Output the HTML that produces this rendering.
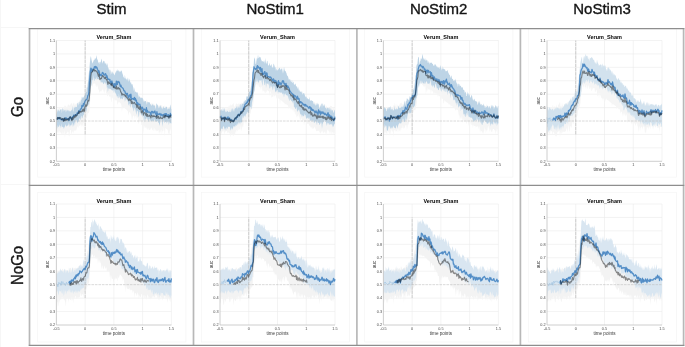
<!DOCTYPE html>
<html><head><meta charset="utf-8"><title>Verum vs Sham AUC</title>
<style>html,body{margin:0;padding:0;background:#fff;width:685px;height:347px;overflow:hidden;font-family:"Liberation Sans",sans-serif;}body{position:relative;}</style>
</head><body>
<svg width="685" height="347" viewBox="0 0 685 347" style="position:absolute;left:0;top:0">
<rect x="0" y="0" width="685" height="347" fill="#fff"/>
<line x1="0.5" y1="0" x2="0.5" y2="347" stroke="#f6f6f6" stroke-width="1"/>
<line x1="0" y1="27.5" x2="29" y2="27.5" stroke="#f6f6f6" stroke-width="1"/>
<line x1="0" y1="184.5" x2="29" y2="184.5" stroke="#f6f6f6" stroke-width="1"/>
<text transform="translate(111.5,14.0)" font-family="Liberation Sans" font-size="15" text-anchor="middle" fill="#141414" stroke="#141414" stroke-width="0.35">Stim</text>
<text transform="translate(275.2,14.0)" font-family="Liberation Sans" font-size="15" text-anchor="middle" fill="#141414" stroke="#141414" stroke-width="0.35">NoStim1</text>
<text transform="translate(438.65,14.0)" font-family="Liberation Sans" font-size="15" text-anchor="middle" fill="#141414" stroke="#141414" stroke-width="0.35">NoStim2</text>
<text transform="translate(602,14.0)" font-family="Liberation Sans" font-size="15" text-anchor="middle" fill="#141414" stroke="#141414" stroke-width="0.35">NoStim3</text>
<text transform="translate(23.0,107) rotate(-90) scale(1,1.04)" font-family="Liberation Sans" font-size="15" text-anchor="middle" fill="#141414" stroke="#141414" stroke-width="0.35">Go</text>
<text transform="translate(23.0,265.4) rotate(-90) scale(1,1.04)" font-family="Liberation Sans" font-size="15" text-anchor="middle" fill="#141414" stroke="#141414" stroke-width="0.35">NoGo</text>
<g><rect x="37.7" y="28.8" width="148.2" height="148.3" fill="none" stroke="#f4f4f4" stroke-width="0.7"/><line x1="56.4" y1="147.88" x2="171.4" y2="147.88" stroke="#ebebeb" stroke-width="0.6"/><line x1="56.4" y1="134.46" x2="171.4" y2="134.46" stroke="#ebebeb" stroke-width="0.6"/><line x1="56.4" y1="107.61" x2="171.4" y2="107.61" stroke="#ebebeb" stroke-width="0.6"/><line x1="56.4" y1="94.19" x2="171.4" y2="94.19" stroke="#ebebeb" stroke-width="0.6"/><line x1="56.4" y1="80.77" x2="171.4" y2="80.77" stroke="#ebebeb" stroke-width="0.6"/><line x1="56.4" y1="67.34" x2="171.4" y2="67.34" stroke="#ebebeb" stroke-width="0.6"/><line x1="56.4" y1="53.92" x2="171.4" y2="53.92" stroke="#ebebeb" stroke-width="0.6"/><line x1="113.9" y1="40.5" x2="113.9" y2="161.3" stroke="#ebebeb" stroke-width="0.6"/><line x1="142.65" y1="40.5" x2="142.65" y2="161.3" stroke="#ebebeb" stroke-width="0.6"/><line x1="85.15" y1="40.5" x2="85.15" y2="161.3" stroke="#ebebeb" stroke-width="0.6"/><line x1="56.4" y1="40.5" x2="171.4" y2="40.5" stroke="#ebebeb" stroke-width="0.6"/><line x1="171.4" y1="40.5" x2="171.4" y2="161.3" stroke="#ebebeb" stroke-width="0.6"/><polygon points="56.4,110.81 56.9,113.93 57.4,111.06 57.9,109.79 58.4,109.27 58.9,108.12 59.4,107.86 59.9,107.78 60.4,109.2 60.9,109.84 61.4,110.91 61.9,109.18 62.4,108.11 62.9,108.53 63.4,109.1 63.9,106.43 64.4,104.93 64.9,107.61 65.4,105.26 65.9,106.08 66.4,107.97 66.9,106.3 67.4,107.11 67.9,104.45 68.4,104.25 68.9,105.04 69.4,105.92 69.9,104.63 70.4,104.63 70.9,103.26 71.4,103.17 71.9,103.48 72.4,106.02 72.9,103.29 73.4,102.55 73.9,104.3 74.4,104.88 74.9,102.42 75.4,104.89 75.9,103.8 76.4,103.31 76.9,104.05 77.4,105.14 77.9,99.99 78.4,102.63 78.9,103.86 79.4,99.39 79.9,101.35 80.4,99.49 80.9,99.08 81.4,102.21 81.9,99.82 82.4,99.57 82.9,101.6 83.4,101.52 83.9,98.55 84.4,99.59 84.9,101.12 85.4,99.08 85.9,94.87 86.4,92.66 86.9,85.96 87.4,82.41 87.9,81.06 88.4,79.69 88.9,77.4 89.4,73.48 89.9,66.33 90.4,64.46 90.9,64.32 91.4,63.85 91.9,62.08 92.4,64.16 92.9,64.38 93.4,63.3 93.9,63.01 94.4,64.26 94.9,61.48 95.4,64.52 95.9,65.25 96.4,67.51 96.9,66.7 97.4,65.57 97.9,65.9 98.4,67.66 98.9,62.23 99.4,65.42 99.9,65.9 100.4,66.73 100.9,66.94 101.4,69.63 101.9,66.99 102.4,68.66 102.9,69.29 103.4,65.51 103.9,67.9 104.4,67.72 104.9,68.58 105.4,69.3 105.9,70.53 106.4,68.09 106.9,70.72 107.4,71.22 107.9,71.46 108.4,69.56 108.9,69.65 109.4,69.62 109.9,70.96 110.4,71.22 110.9,69.49 111.4,73.45 111.9,70.82 112.4,71.73 112.9,72.87 113.4,73.6 113.9,74.76 114.4,74.93 114.9,74.72 115.4,73.86 115.9,70.86 116.4,74.74 116.9,74.33 117.4,74.92 117.9,76.49 118.4,76.06 118.9,73.01 119.4,75.23 119.9,77.67 120.4,79 120.9,74.95 121.4,77.75 121.9,79.7 122.4,77.41 122.9,79.31 123.4,80.41 123.9,80.17 124.4,78.79 124.9,82.48 125.4,80.71 125.9,82.14 126.4,83.59 126.9,81.33 127.4,84.44 127.9,84.3 128.4,85.73 128.9,87.4 129.4,85.76 129.9,88.18 130.4,84.93 130.9,85.77 131.4,89.17 131.9,89.76 132.4,90.64 132.9,87.76 133.4,92.23 133.9,92.69 134.4,93.03 134.9,93.5 135.4,90.88 135.9,93.91 136.4,93.71 136.9,94.76 137.4,95.29 137.9,92.95 138.4,93.76 138.9,96.02 139.4,98.16 139.9,94.72 140.4,98.25 140.9,100.18 141.4,100.61 141.9,99.99 142.4,99.66 142.9,104.72 143.4,100.59 143.9,101.33 144.4,100.67 144.9,102.7 145.4,100.34 145.9,102.45 146.4,100.43 146.9,98.94 147.4,101.87 147.9,101.87 148.4,102.08 148.9,104.91 149.4,102.15 149.9,104.94 150.4,106.48 150.9,103.28 151.4,102.45 151.9,104.63 152.4,105.87 152.9,101.96 153.4,106.08 153.9,102.63 154.4,104.6 154.9,105.86 155.4,104.11 155.9,107.97 156.4,105.79 156.9,104.97 157.4,105.19 157.9,103.4 158.4,106.78 158.9,104.78 159.4,105.89 159.9,104.78 160.4,105.4 160.9,104.54 161.4,106.37 161.9,104.44 162.4,106.46 162.9,107.59 163.4,106.68 163.9,106.68 164.4,104.96 164.9,108.71 165.4,107.26 165.9,109.12 166.4,106.31 166.9,106.52 167.4,106.98 167.9,109.89 168.4,109.58 168.9,108.39 169.4,107.9 169.9,107.58 170.4,109.32 170.9,108.62 171.4,109.45 171.4,128.97 170.9,131.53 170.4,128.28 169.9,131.08 169.4,134.24 168.9,133.47 168.4,133.88 167.9,130.7 167.4,129.8 166.9,128.58 166.4,129.39 165.9,128.25 165.4,128.01 164.9,136.98 164.4,131.71 163.9,127.35 163.4,130.68 162.9,131.11 162.4,131.34 161.9,134.81 161.4,129.46 160.9,130 160.4,131.86 159.9,134.23 159.4,131.21 158.9,133.21 158.4,129.43 157.9,130.41 157.4,130.89 156.9,130.55 156.4,131.69 155.9,128.49 155.4,130.61 154.9,131.36 154.4,128.33 153.9,127.27 153.4,131.38 152.9,130.09 152.4,130.61 151.9,127.47 151.4,127.81 150.9,130.52 150.4,128 149.9,130.06 149.4,129.69 148.9,130.55 148.4,128.36 147.9,128.07 147.4,129.93 146.9,129.53 146.4,127.37 145.9,127.49 145.4,127.58 144.9,128.31 144.4,126.42 143.9,124.88 143.4,134.06 142.9,128.33 142.4,122.15 141.9,125.3 141.4,124.88 140.9,121.21 140.4,120.83 139.9,121.19 139.4,120.78 138.9,124.08 138.4,123.02 137.9,117.87 137.4,117.12 136.9,119.8 136.4,116.52 135.9,116.04 135.4,116.24 134.9,119.57 134.4,116.62 133.9,115.81 133.4,115.5 132.9,116.39 132.4,120.41 131.9,113.9 131.4,120.59 130.9,111.93 130.4,114.94 129.9,112.11 129.4,112.16 128.9,112.66 128.4,116.18 127.9,111.36 127.4,110.97 126.9,109.2 126.4,110.45 125.9,108.68 125.4,109.29 124.9,108.12 124.4,106.62 123.9,107.13 123.4,107.61 122.9,106.63 122.4,107.94 121.9,112.2 121.4,105.14 120.9,103.82 120.4,103.23 119.9,102.42 119.4,102.01 118.9,102.8 118.4,101.15 117.9,104.75 117.4,104.04 116.9,101.08 116.4,99.68 115.9,100.71 115.4,99.94 114.9,100.38 114.4,99.2 113.9,99.18 113.4,101.4 112.9,98.55 112.4,97.97 111.9,96.61 111.4,102.79 110.9,100.42 110.4,95.93 109.9,97.22 109.4,96.28 108.9,95.27 108.4,94.48 107.9,95.95 107.4,96.41 106.9,92.98 106.4,94.28 105.9,91.86 105.4,89.07 104.9,90.28 104.4,94.78 103.9,88.95 103.4,92.63 102.9,88.31 102.4,90.17 101.9,89.56 101.4,91.58 100.9,91.8 100.4,91 99.9,91.54 99.4,93.3 98.9,89.18 98.4,90.14 97.9,86.98 97.4,85.68 96.9,84.57 96.4,87.33 95.9,86.43 95.4,83.68 94.9,83.51 94.4,83.33 93.9,84.2 93.4,82.98 92.9,85.12 92.4,87.26 91.9,83.96 91.4,85.22 90.9,89.87 90.4,99.19 89.9,103.08 89.4,110.59 88.9,113.56 88.4,112.64 87.9,112.5 87.4,114.75 86.9,117.75 86.4,118.64 85.9,117 85.4,118.6 84.9,119.98 84.4,122.57 83.9,127.68 83.4,121.88 82.9,124.07 82.4,125.96 81.9,126.97 81.4,124.98 80.9,123.69 80.4,125.08 79.9,126.31 79.4,125.63 78.9,123.69 78.4,127.67 77.9,127.5 77.4,125.65 76.9,128.36 76.4,129.64 75.9,131.06 75.4,130.1 74.9,130.89 74.4,130.59 73.9,130 73.4,134.11 72.9,131.02 72.4,131.78 71.9,133.04 71.4,135.76 70.9,130.02 70.4,129.81 69.9,130.72 69.4,136.15 68.9,136.58 68.4,131.74 67.9,131.93 67.4,131.34 66.9,134.13 66.4,132.59 65.9,135.57 65.4,133.72 64.9,138.46 64.4,130.07 63.9,133.78 63.4,134.24 62.9,130.91 62.4,135.12 61.9,134.49 61.4,133.75 60.9,132.72 60.4,132.1 59.9,133.14 59.4,131.27 58.9,130.84 58.4,133.86 57.9,131.67 57.4,133.87 56.9,130.59 56.4,132.17" fill="#f5f5f5" fill-opacity="1"/><polygon points="56.4,112.1 56.9,114.36 57.4,108.63 57.9,112.08 58.4,110.31 58.9,109.53 59.4,111.72 59.9,110.3 60.4,108.98 60.9,109.89 61.4,108.7 61.9,113.44 62.4,108.68 62.9,108.28 63.4,111.64 63.9,108.68 64.4,110.51 64.9,110.43 65.4,109.38 65.9,112.51 66.4,109.25 66.9,111.65 67.4,109.57 67.9,110.73 68.4,110.05 68.9,111.5 69.4,110.19 69.9,111.68 70.4,110.82 70.9,111.71 71.4,109.59 71.9,110.79 72.4,105.72 72.9,110.3 73.4,111.97 73.9,106.65 74.4,108.34 74.9,106.58 75.4,106.72 75.9,107.47 76.4,106.69 76.9,106.91 77.4,102.74 77.9,103.37 78.4,105.67 78.9,101.71 79.4,101.7 79.9,104.36 80.4,102.58 80.9,100.19 81.4,99.74 81.9,96.39 82.4,98.67 82.9,96.52 83.4,97.88 83.9,96.59 84.4,95.66 84.9,95.01 85.4,93.31 85.9,91.63 86.4,92.28 86.9,86.99 87.4,87.82 87.9,83.07 88.4,78.49 88.9,72.58 89.4,68.64 89.9,62.16 90.4,57.88 90.9,56.08 91.4,59.24 91.9,61.13 92.4,63.78 92.9,62.29 93.4,61.16 93.9,59.64 94.4,60.13 94.9,58.17 95.4,58.57 95.9,58.66 96.4,54.91 96.9,58.33 97.4,59.58 97.9,60.55 98.4,63.48 98.9,62.09 99.4,62.02 99.9,64.61 100.4,61.67 100.9,61.66 101.4,58.52 101.9,60.21 102.4,63.77 102.9,61.96 103.4,60.59 103.9,61.51 104.4,61.08 104.9,63.69 105.4,63.68 105.9,62.46 106.4,64.31 106.9,65.8 107.4,62.8 107.9,67.18 108.4,67.66 108.9,70 109.4,69.17 109.9,72.95 110.4,68.97 110.9,75.34 111.4,71.25 111.9,74.13 112.4,72.68 112.9,71.31 113.4,73.86 113.9,73.47 114.4,75.48 114.9,74.43 115.4,71.45 115.9,73.61 116.4,70.51 116.9,70.8 117.4,71.02 117.9,69.02 118.4,71.83 118.9,69.94 119.4,72.39 119.9,70.81 120.4,72.33 120.9,70.39 121.4,70.46 121.9,71.42 122.4,73.38 122.9,74.8 123.4,76.94 123.9,77.61 124.4,78.82 124.9,74.76 125.4,78.3 125.9,78.75 126.4,78.71 126.9,80.49 127.4,77.24 127.9,80.69 128.4,81.84 128.9,78.13 129.4,79.43 129.9,80.97 130.4,83.41 130.9,81.34 131.4,84.22 131.9,84.6 132.4,84.06 132.9,86.27 133.4,87.96 133.9,91.23 134.4,87.14 134.9,92.78 135.4,91.23 135.9,92.09 136.4,92.21 136.9,92.66 137.4,92.01 137.9,93.82 138.4,98.1 138.9,94.64 139.4,97.02 139.9,96.51 140.4,98.41 140.9,97.35 141.4,98.19 141.9,97.23 142.4,98.37 142.9,98.23 143.4,102.42 143.9,98.79 144.4,101.94 144.9,100.91 145.4,100.91 145.9,101.13 146.4,102.79 146.9,105.01 147.4,102.09 147.9,101.78 148.4,102.24 148.9,102.59 149.4,101.98 149.9,103.08 150.4,105.12 150.9,103.53 151.4,106.33 151.9,104.89 152.4,104.74 152.9,103.38 153.4,105.55 153.9,105.52 154.4,106.08 154.9,104.68 155.4,108.01 155.9,108.9 156.4,103.24 156.9,104 157.4,104.93 157.9,105.46 158.4,106.98 158.9,108.42 159.4,105.68 159.9,108.05 160.4,105.13 160.9,106.24 161.4,108.77 161.9,106.44 162.4,109.49 162.9,108.07 163.4,105.73 163.9,108.24 164.4,107.72 164.9,108.32 165.4,108.24 165.9,106.13 166.4,106.96 166.9,106.97 167.4,110.03 167.9,108.23 168.4,109.04 168.9,107.81 169.4,109.57 169.9,106.74 170.4,104.32 170.9,108.11 171.4,109.22 171.4,123.68 170.9,123 170.4,123.15 169.9,123.46 169.4,120.97 168.9,125.32 168.4,121.56 167.9,121.22 167.4,122.68 166.9,120.83 166.4,123.7 165.9,121.53 165.4,122.06 164.9,122.15 164.4,123.06 163.9,119.18 163.4,121.09 162.9,121.28 162.4,127.05 161.9,122.17 161.4,118.09 160.9,118.2 160.4,121.62 159.9,123.77 159.4,125.99 158.9,122.92 158.4,122.86 157.9,120.94 157.4,121.32 156.9,121.75 156.4,121.18 155.9,121.89 155.4,120.9 154.9,120.36 154.4,118.79 153.9,121.39 153.4,121.43 152.9,120.79 152.4,120.43 151.9,121.57 151.4,121.03 150.9,121.76 150.4,120.34 149.9,119.64 149.4,117.96 148.9,121.7 148.4,121.48 147.9,117.75 147.4,120.1 146.9,119.3 146.4,116.67 145.9,119.71 145.4,118.36 144.9,122.76 144.4,116.31 143.9,121.39 143.4,115.02 142.9,113.55 142.4,117.87 141.9,115.17 141.4,115.51 140.9,114.16 140.4,112.92 139.9,111.56 139.4,112.12 138.9,117.4 138.4,115.53 137.9,110.41 137.4,111.82 136.9,110.16 136.4,115.09 135.9,112.41 135.4,109.45 134.9,108.16 134.4,107.61 133.9,111.7 133.4,109.89 132.9,107.11 132.4,108.84 131.9,105.49 131.4,102.44 130.9,103.59 130.4,108.05 129.9,106.06 129.4,103.23 128.9,104.35 128.4,105.76 127.9,100.04 127.4,102.06 126.9,98.6 126.4,100.32 125.9,98.06 125.4,100.12 124.9,101.95 124.4,96.81 123.9,97.71 123.4,96.69 122.9,98.67 122.4,99.39 121.9,98.17 121.4,98.76 120.9,98.33 120.4,99.55 119.9,97.83 119.4,96.86 118.9,93.77 118.4,98.13 117.9,97.91 117.4,95.77 116.9,96.83 116.4,94.76 115.9,93.92 115.4,92.56 114.9,92.7 114.4,89.21 113.9,93.22 113.4,89.85 112.9,90.61 112.4,90.38 111.9,89.43 111.4,90.58 110.9,88.69 110.4,89.48 109.9,88.31 109.4,89.46 108.9,87.92 108.4,88.91 107.9,92.18 107.4,87.03 106.9,88.04 106.4,83.52 105.9,82.58 105.4,84.7 104.9,81.86 104.4,82.74 103.9,83.87 103.4,84.29 102.9,82.64 102.4,81.99 101.9,82.92 101.4,81.58 100.9,82.66 100.4,80.82 99.9,77.5 99.4,79.7 98.9,79.68 98.4,79.02 97.9,79.09 97.4,78.95 96.9,80.07 96.4,76.8 95.9,78.64 95.4,79.44 94.9,77.86 94.4,80.9 93.9,80.46 93.4,74.97 92.9,80.13 92.4,79.58 91.9,82.93 91.4,85.31 90.9,86.78 90.4,89.38 89.9,95.95 89.4,102.78 88.9,105.72 88.4,103.7 87.9,105.73 87.4,104.61 86.9,108.39 86.4,111.43 85.9,111.74 85.4,110.18 84.9,112.11 84.4,111.2 83.9,115.79 83.4,114.26 82.9,116.34 82.4,117.88 81.9,118.56 81.4,115.59 80.9,116.64 80.4,120.52 79.9,118.51 79.4,118.31 78.9,120.04 78.4,121.7 77.9,121.83 77.4,123.56 76.9,121.27 76.4,120.01 75.9,119.82 75.4,121.01 74.9,126.01 74.4,122.01 73.9,124.12 73.4,125.39 72.9,127.07 72.4,122.26 71.9,123.82 71.4,125.53 70.9,124.99 70.4,125.6 69.9,127.08 69.4,125.04 68.9,122.41 68.4,124.94 67.9,125.72 67.4,125.42 66.9,125.54 66.4,126.8 65.9,125.94 65.4,124.01 64.9,126.39 64.4,127.2 63.9,129.05 63.4,127.17 62.9,127.12 62.4,126.39 61.9,127.75 61.4,123.35 60.9,128.61 60.4,125.88 59.9,126.4 59.4,124.34 58.9,126.69 58.4,127.2 57.9,124.98 57.4,127.32 56.9,129.13 56.4,124.87" fill="#bdd4e6" fill-opacity="1"/><line x1="56.4" y1="121.03" x2="171.4" y2="121.03" stroke="#bdbdbd" stroke-width="0.55" stroke-dasharray="2.6,0.9"/><line x1="85.15" y1="134.46" x2="85.15" y2="40.5" stroke="#adadad" stroke-width="0.6" stroke-dasharray="3.5,0.7"/><path d="M56.4,118.6 L56.9,119.43 L57.4,117.97 L57.9,117.38 L58.4,117.86 L58.9,119.08 L59.4,117.67 L59.9,117.92 L60.4,119.2 L60.9,119.07 L61.4,119.91 L61.9,119.34 L62.4,119.93 L62.9,119.15 L63.4,120 L63.9,120.56 L64.4,118.12 L64.9,119.72 L65.4,118.6 L65.9,117.61 L66.4,118.67 L66.9,119.3 L67.4,119.41 L67.9,118.72 L68.4,118.35 L68.9,120.58 L69.4,119.09 L69.9,116.92 L70.4,117.05 L70.9,118.55 L71.4,118.23 L71.9,119.9 L72.4,116.74 L72.9,117.21 L73.4,116.07 L73.9,114.98 L74.4,115.93 L74.9,115.54 L75.4,114.63 L75.9,115.14 L76.4,114.3 L76.9,115.02 L77.4,112.32 L77.9,112.76 L78.4,113.46 L78.9,110.73 L79.4,111.51 L79.9,111.44 L80.4,109.03 L80.9,108.92 L81.4,108.87 L81.9,105.5 L82.4,106.73 L82.9,106.57 L83.4,103.66 L83.9,105.42 L84.4,102.81 L84.9,101.56 L85.4,100.6 L85.9,99.93 L86.4,99.51 L86.9,99.57 L87.4,97.62 L87.9,95.35 L88.4,94.99 L88.9,92.1 L89.4,82.31 L89.9,76.49 L90.4,71.62 L90.9,68.08 L91.4,68.96 L91.9,71.74 L92.4,70.4 L92.9,69.15 L93.4,68.91 L93.9,68.56 L94.4,66.74 L94.9,67.89 L95.4,66.46 L95.9,67.96 L96.4,66.93 L96.9,67.5 L97.4,69.15 L97.9,70.24 L98.4,72.68 L98.9,70.62 L99.4,72.29 L99.9,75.7 L100.4,74.9 L100.9,74.71 L101.4,75.67 L101.9,74.16 L102.4,72.38 L102.9,72.81 L103.4,73.24 L103.9,75.2 L104.4,75.1 L104.9,74.75 L105.4,73.62 L105.9,74.16 L106.4,77.41 L106.9,75.69 L107.4,77.51 L107.9,79.37 L108.4,79.21 L108.9,79.06 L109.4,80.04 L109.9,79.51 L110.4,82.68 L110.9,81.56 L111.4,84.35 L111.9,80.91 L112.4,83.15 L112.9,83.82 L113.4,84.63 L113.9,87.13 L114.4,83.66 L114.9,86.89 L115.4,83.83 L115.9,84.95 L116.4,81.15 L116.9,84.31 L117.4,84.33 L117.9,81.29 L118.4,81.73 L118.9,82.29 L119.4,82.26 L119.9,84.82 L120.4,86.68 L120.9,85.21 L121.4,87.02 L121.9,87.31 L122.4,87.97 L122.9,88.19 L123.4,89.16 L123.9,90.85 L124.4,90.79 L124.9,91.23 L125.4,93.4 L125.9,93.1 L126.4,94.84 L126.9,93.66 L127.4,93.4 L127.9,96.34 L128.4,97.93 L128.9,96.03 L129.4,95.25 L129.9,94.73 L130.4,97.96 L130.9,94.25 L131.4,99.46 L131.9,98.6 L132.4,98.75 L132.9,98.44 L133.4,99.38 L133.9,99.09 L134.4,97.4 L134.9,100.04 L135.4,98.32 L135.9,100.99 L136.4,100.33 L136.9,104.53 L137.4,102.68 L137.9,103.08 L138.4,104.73 L138.9,104.17 L139.4,104.52 L139.9,104.28 L140.4,106.32 L140.9,107.1 L141.4,108.88 L141.9,108.89 L142.4,107.12 L142.9,108.45 L143.4,111.49 L143.9,109.59 L144.4,109.1 L144.9,109.5 L145.4,109.86 L145.9,111.84 L146.4,107.77 L146.9,112.23 L147.4,110.37 L147.9,112.19 L148.4,111.98 L148.9,112.19 L149.4,112.14 L149.9,112.17 L150.4,113.21 L150.9,115.12 L151.4,111.72 L151.9,111.42 L152.4,111.37 L152.9,113.16 L153.4,112.03 L153.9,112.61 L154.4,112.01 L154.9,110.98 L155.4,113.67 L155.9,113.36 L156.4,116 L156.9,111.71 L157.4,115.05 L157.9,113.71 L158.4,114.37 L158.9,114.33 L159.4,114.47 L159.9,113.34 L160.4,114.59 L160.9,115.29 L161.4,114.18 L161.9,115.08 L162.4,115.96 L162.9,114.66 L163.4,114.74 L163.9,114.42 L164.4,114 L164.9,116.47 L165.4,113.62 L165.9,115.93 L166.4,113.65 L166.9,115.58 L167.4,116.19 L167.9,115.05 L168.4,114.64 L168.9,117.25 L169.4,115.32 L169.9,116.56 L170.4,113.48 L170.9,115.73 L171.4,114.58" fill="none" stroke="#74acdb" stroke-width="1.3" stroke-linejoin="round" style="mix-blend-mode:multiply"/><path d="M56.4,119.28 L56.9,118.16 L57.4,119.24 L57.9,117.45 L58.4,118.33 L58.9,117.69 L59.4,118.52 L59.9,117.38 L60.4,117.85 L60.9,117.94 L61.4,119.48 L61.9,119.48 L62.4,118.58 L62.9,118.46 L63.4,121.35 L63.9,120.04 L64.4,118.1 L64.9,120.82 L65.4,120.36 L65.9,118.78 L66.4,119.72 L66.9,120.41 L67.4,119.35 L67.9,118.88 L68.4,118.89 L68.9,120.15 L69.4,117.72 L69.9,117.38 L70.4,116.74 L70.9,117.69 L71.4,119.29 L71.9,120.63 L72.4,117.54 L72.9,119.38 L73.4,119.11 L73.9,115.91 L74.4,117.75 L74.9,117.42 L75.4,114.79 L75.9,116.74 L76.4,115.62 L76.9,115.64 L77.4,113.76 L77.9,113.57 L78.4,113.3 L78.9,111.1 L79.4,113.16 L79.9,112.46 L80.4,111.59 L80.9,111.84 L81.4,111.92 L81.9,110.8 L82.4,111.42 L82.9,109.16 L83.4,108.96 L83.9,111.62 L84.4,110.85 L84.9,106.96 L85.4,105.97 L85.9,104.77 L86.4,106.26 L86.9,105.6 L87.4,103.03 L87.9,100.39 L88.4,101.08 L88.9,100.98 L89.4,96.94 L89.9,91.63 L90.4,81.82 L90.9,75.73 L91.4,72.54 L91.9,72.22 L92.4,71.7 L92.9,70.48 L93.4,69.54 L93.9,70.82 L94.4,69.64 L94.9,71.09 L95.4,70.4 L95.9,71.02 L96.4,71.02 L96.9,71.74 L97.4,72.91 L97.9,74.37 L98.4,76.32 L98.9,73.81 L99.4,76.86 L99.9,79.59 L100.4,78.83 L100.9,78.25 L101.4,78.68 L101.9,77.19 L102.4,75.59 L102.9,75.9 L103.4,76.67 L103.9,76.79 L104.4,78.3 L104.9,78.59 L105.4,77.17 L105.9,78.72 L106.4,79.82 L106.9,79.26 L107.4,81.89 L107.9,84.41 L108.4,81.95 L108.9,81.89 L109.4,83.53 L109.9,83.49 L110.4,83.9 L110.9,84.79 L111.4,85.75 L111.9,83.13 L112.4,85.47 L112.9,85.54 L113.4,87.62 L113.9,86.65 L114.4,87.47 L114.9,88.14 L115.4,87.6 L115.9,88.73 L116.4,85.72 L116.9,89.18 L117.4,88.89 L117.9,87.76 L118.4,87.59 L118.9,89.08 L119.4,88.41 L119.9,88.98 L120.4,90.72 L120.9,92.16 L121.4,92.87 L121.9,95.15 L122.4,93.7 L122.9,94.74 L123.4,94.7 L123.9,94.22 L124.4,95.16 L124.9,94.94 L125.4,96.59 L125.9,95.35 L126.4,97.06 L126.9,97.45 L127.4,98.34 L127.9,98.83 L128.4,99.86 L128.9,100.57 L129.4,98.74 L129.9,99.31 L130.4,100.63 L130.9,99.89 L131.4,103.74 L131.9,101.24 L132.4,102.37 L132.9,103.77 L133.4,103.07 L133.9,102.75 L134.4,102.39 L134.9,103.49 L135.4,104.1 L135.9,104.35 L136.4,105.08 L136.9,107.63 L137.4,105.16 L137.9,105.68 L138.4,108.35 L138.9,107.86 L139.4,109.37 L139.9,106.57 L140.4,109.17 L140.9,109.52 L141.4,113.01 L141.9,112.24 L142.4,110.65 L142.9,112.46 L143.4,115.12 L143.9,112.89 L144.4,112.95 L144.9,112.56 L145.4,113.85 L145.9,115.37 L146.4,113.28 L146.9,116.44 L147.4,114.19 L147.9,116.33 L148.4,116.25 L148.9,116.19 L149.4,115.17 L149.9,116.2 L150.4,116.29 L150.9,118.01 L151.4,115.22 L151.9,115.34 L152.4,115.98 L152.9,116.86 L153.4,116.55 L153.9,115.4 L154.4,116.55 L154.9,116.42 L155.4,116.66 L155.9,116.55 L156.4,118.37 L156.9,115.21 L157.4,118.05 L157.9,117.33 L158.4,116.15 L158.9,118.74 L159.4,118.41 L159.9,117.7 L160.4,116.94 L160.9,118.45 L161.4,117.98 L161.9,118.66 L162.4,118.44 L162.9,117.46 L163.4,117.36 L163.9,115.38 L164.4,117.74 L164.9,117.77 L165.4,115.39 L165.9,116.16 L166.4,116.08 L166.9,116.53 L167.4,116.81 L167.9,116.3 L168.4,116.33 L168.9,118.46 L169.4,115.97 L169.9,116.83 L170.4,115.09 L170.9,117.28 L171.4,117.25" fill="none" stroke="#8e8e8e" stroke-width="1.1" stroke-linejoin="round" style="mix-blend-mode:multiply"/><path d="M56.4,40.5 V161.3 H171.4" fill="none" stroke="#c2c2c2" stroke-width="0.8"/><text x="55" y="162.6" font-family="Liberation Sans" font-size="3.8" text-anchor="end" fill="#4a4a4a">0.2</text><text x="55" y="149.18" font-family="Liberation Sans" font-size="3.8" text-anchor="end" fill="#4a4a4a">0.3</text><text x="55" y="135.76" font-family="Liberation Sans" font-size="3.8" text-anchor="end" fill="#4a4a4a">0.4</text><text x="55" y="122.33" font-family="Liberation Sans" font-size="3.8" text-anchor="end" fill="#4a4a4a">0.5</text><text x="55" y="108.91" font-family="Liberation Sans" font-size="3.8" text-anchor="end" fill="#4a4a4a">0.6</text><text x="55" y="95.49" font-family="Liberation Sans" font-size="3.8" text-anchor="end" fill="#4a4a4a">0.7</text><text x="55" y="82.07" font-family="Liberation Sans" font-size="3.8" text-anchor="end" fill="#4a4a4a">0.8</text><text x="55" y="68.64" font-family="Liberation Sans" font-size="3.8" text-anchor="end" fill="#4a4a4a">0.9</text><text x="55" y="55.22" font-family="Liberation Sans" font-size="3.8" text-anchor="end" fill="#4a4a4a">1</text><text x="55" y="41.8" font-family="Liberation Sans" font-size="3.8" text-anchor="end" fill="#4a4a4a">1.1</text><text x="56.4" y="165.9" font-family="Liberation Sans" font-size="3.8" text-anchor="middle" fill="#4a4a4a">-0.5</text><text x="85.15" y="165.9" font-family="Liberation Sans" font-size="3.8" text-anchor="middle" fill="#4a4a4a">0</text><text x="113.9" y="165.9" font-family="Liberation Sans" font-size="3.8" text-anchor="middle" fill="#4a4a4a">0.5</text><text x="142.65" y="165.9" font-family="Liberation Sans" font-size="3.8" text-anchor="middle" fill="#4a4a4a">1</text><text x="171.4" y="165.9" font-family="Liberation Sans" font-size="3.8" text-anchor="middle" fill="#4a4a4a">1.5</text><text x="113.9" y="170.7" font-family="Liberation Sans" font-size="4.6" text-anchor="middle" fill="#3a3a3a">time points</text><text transform="translate(49,100.9) rotate(-90)" font-family="Liberation Sans" font-size="4.6" text-anchor="middle" fill="#333">auc</text><text x="113.9" y="39.2" font-family="Liberation Sans" font-weight="bold" font-size="5.5" text-anchor="middle" fill="#000">Verum_Sham</text></g>
<g><rect x="201.3" y="28.8" width="148.2" height="148.3" fill="none" stroke="#f4f4f4" stroke-width="0.7"/><line x1="220" y1="147.88" x2="335" y2="147.88" stroke="#ebebeb" stroke-width="0.6"/><line x1="220" y1="134.46" x2="335" y2="134.46" stroke="#ebebeb" stroke-width="0.6"/><line x1="220" y1="107.61" x2="335" y2="107.61" stroke="#ebebeb" stroke-width="0.6"/><line x1="220" y1="94.19" x2="335" y2="94.19" stroke="#ebebeb" stroke-width="0.6"/><line x1="220" y1="80.77" x2="335" y2="80.77" stroke="#ebebeb" stroke-width="0.6"/><line x1="220" y1="67.34" x2="335" y2="67.34" stroke="#ebebeb" stroke-width="0.6"/><line x1="220" y1="53.92" x2="335" y2="53.92" stroke="#ebebeb" stroke-width="0.6"/><line x1="277.5" y1="40.5" x2="277.5" y2="161.3" stroke="#ebebeb" stroke-width="0.6"/><line x1="306.25" y1="40.5" x2="306.25" y2="161.3" stroke="#ebebeb" stroke-width="0.6"/><line x1="248.75" y1="40.5" x2="248.75" y2="161.3" stroke="#ebebeb" stroke-width="0.6"/><line x1="220" y1="40.5" x2="335" y2="40.5" stroke="#ebebeb" stroke-width="0.6"/><line x1="335" y1="40.5" x2="335" y2="161.3" stroke="#ebebeb" stroke-width="0.6"/><polygon points="220,110.44 220.5,110.02 221,107.82 221.5,111.22 222,108.36 222.5,111.39 223,109.8 223.5,108.77 224,109.94 224.5,108.34 225,107.45 225.5,109.84 226,108.16 226.5,108.37 227,110.29 227.5,107.75 228,108.38 228.5,105.32 229,108.11 229.5,104.47 230,107.28 230.5,103.77 231,105.46 231.5,105.39 232,104.73 232.5,104.42 233,103.56 233.5,102.93 234,105.53 234.5,106.56 235,108.28 235.5,105.03 236,103.3 236.5,103.63 237,103.79 237.5,104.23 238,104.43 238.5,103.77 239,102.68 239.5,105.38 240,101.85 240.5,104.6 241,102.66 241.5,103.12 242,102.57 242.5,103.3 243,103.26 243.5,101.83 244,102.79 244.5,97.85 245,101.52 245.5,101.66 246,101.33 246.5,101.84 247,103.52 247.5,100.38 248,99.43 248.5,101.68 249,97.98 249.5,96.46 250,91.74 250.5,88.06 251,84.74 251.5,81.65 252,80.03 252.5,74.75 253,73.38 253.5,69.16 254,65.53 254.5,63.74 255,65.23 255.5,62.86 256,65.35 256.5,65.23 257,65.68 257.5,63.25 258,64.77 258.5,67.75 259,63.92 259.5,62.3 260,62.84 260.5,66.19 261,65.5 261.5,65.1 262,64.76 262.5,66.09 263,67.78 263.5,65.47 264,65.83 264.5,68.62 265,67.5 265.5,66.82 266,67.36 266.5,66.89 267,66.76 267.5,67.33 268,68.45 268.5,70.34 269,67.93 269.5,67.11 270,66.58 270.5,69.51 271,69.74 271.5,67.99 272,68.23 272.5,69.94 273,69.67 273.5,71.89 274,70.31 274.5,72.44 275,71.76 275.5,71.96 276,72.66 276.5,75.1 277,73.61 277.5,72.28 278,73.05 278.5,73.73 279,72.86 279.5,72.74 280,72.76 280.5,75.22 281,74.34 281.5,75.05 282,76.01 282.5,77.08 283,75.43 283.5,76.87 284,73.36 284.5,76.94 285,77.66 285.5,78.45 286,75.95 286.5,80.29 287,79.79 287.5,81.17 288,80.85 288.5,81.29 289,80.32 289.5,84.25 290,82.93 290.5,81.29 291,84.7 291.5,84.81 292,86.31 292.5,89.19 293,86.37 293.5,85.21 294,87.97 294.5,90.37 295,88.09 295.5,88.9 296,88.21 296.5,88.89 297,91.03 297.5,90.68 298,94.19 298.5,90.83 299,92.63 299.5,91.98 300,92.57 300.5,94.93 301,95.3 301.5,96.83 302,98.98 302.5,96.94 303,97.11 303.5,99.33 304,97.47 304.5,98.85 305,98.93 305.5,101.12 306,103.01 306.5,99.95 307,100.31 307.5,101.42 308,101.98 308.5,101.92 309,101.88 309.5,102.52 310,104.67 310.5,101.06 311,104.26 311.5,102.84 312,102.95 312.5,102.32 313,104.98 313.5,101.33 314,102.21 314.5,102.2 315,101.67 315.5,104.58 316,107.86 316.5,103.34 317,102.17 317.5,102.51 318,104.92 318.5,104.47 319,104.1 319.5,107.05 320,105.66 320.5,105.76 321,102.91 321.5,106.05 322,103.21 322.5,105.44 323,107.85 323.5,102.76 324,107.18 324.5,105.18 325,103.86 325.5,107.01 326,108.08 326.5,105.18 327,106.62 327.5,108.5 328,108.44 328.5,107.66 329,105.98 329.5,107.8 330,106.67 330.5,105.47 331,106.13 331.5,106.04 332,106.46 332.5,110.41 333,106.75 333.5,108.09 334,108.84 334.5,110.27 335,111.09 335,132.23 334.5,133.8 334,131.99 333.5,135.17 333,131.71 332.5,132.05 332,135.21 331.5,133.14 331,129.65 330.5,132.36 330,135.06 329.5,132.23 329,130.82 328.5,131.43 328,128.86 327.5,130.36 327,130.85 326.5,136.43 326,130.68 325.5,134.01 325,132.75 324.5,131.01 324,133.39 323.5,132.88 323,131.63 322.5,130.23 322,133.18 321.5,130.71 321,132.22 320.5,133.83 320,132.69 319.5,132.29 319,129.92 318.5,131.32 318,130.78 317.5,130.78 317,131.52 316.5,130.99 316,130.65 315.5,128.29 315,128.82 314.5,126.36 314,127.52 313.5,128.9 313,128.05 312.5,129.58 312,126.16 311.5,128.64 311,126.49 310.5,127.99 310,124.82 309.5,126.5 309,124.73 308.5,123.82 308,123.45 307.5,123.79 307,124.05 306.5,125.7 306,121.48 305.5,121.6 305,122.62 304.5,121.69 304,126.34 303.5,119.44 303,121.21 302.5,119.85 302,120.45 301.5,117.56 301,119.53 300.5,119.27 300,120.32 299.5,117.33 299,116 298.5,113.6 298,118.22 297.5,115.28 297,116.43 296.5,117.75 296,111.06 295.5,114.83 295,114.35 294.5,110.17 294,112.73 293.5,110.05 293,109.07 292.5,111.04 292,108.37 291.5,109.02 291,110.77 290.5,108.21 290,106.97 289.5,107.86 289,106.27 288.5,109.28 288,105.57 287.5,105.22 287,104.87 286.5,104.52 286,104.17 285.5,103.82 285,105.03 284.5,103.12 284,102.77 283.5,102.42 283,102.01 282.5,101.54 282,101.08 281.5,100.61 281,100.14 280.5,99.67 280,104.54 279.5,99.26 279,98.47 278.5,98.93 278,97.34 277.5,100 277,98.59 276.5,98.57 276,95.47 275.5,95.55 275,95.28 274.5,95.83 274,97.14 273.5,93.91 273,97.12 272.5,96.39 272,97.08 271.5,98.18 271,92.31 270.5,90.67 270,97.05 269.5,93.84 269,91.83 268.5,90.84 268,90.89 267.5,90.17 267,90.33 266.5,91.81 266,92.77 265.5,93.14 265,90.46 264.5,92.94 264,90.82 263.5,91.53 263,90.04 262.5,92.23 262,86.38 261.5,86.92 261,90.41 260.5,88.35 260,86.28 259.5,87.45 259,86.48 258.5,83.51 258,87.34 257.5,83.16 257,85.59 256.5,83.99 256,84.19 255.5,87.01 255,87.62 254.5,90.54 254,92.34 253.5,101.95 253,105.54 252.5,106.53 252,109.26 251.5,109.22 251,110.42 250.5,113.42 250,114.02 249.5,113.03 249,118.72 248.5,115.65 248,117.31 247.5,119.04 247,119.84 246.5,120.96 246,126.9 245.5,119.67 245,123.68 244.5,121.87 244,120.3 243.5,124.35 243,128.06 242.5,125.27 242,128.63 241.5,131.69 241,124.95 240.5,127.69 240,130.63 239.5,128.49 239,129.77 238.5,130.21 238,127.41 237.5,131.63 237,130.36 236.5,129.81 236,133.28 235.5,130.77 235,135.32 234.5,134.78 234,133.67 233.5,136.29 233,135.74 232.5,134.53 232,134.34 231.5,134.12 231,132.98 230.5,137.57 230,134.96 229.5,132.97 229,133.45 228.5,131.38 228,133.22 227.5,132.89 227,131.12 226.5,131.24 226,130.89 225.5,132.87 225,130.3 224.5,134 224,133.14 223.5,130.3 223,131.08 222.5,131.46 222,131.65 221.5,134.52 221,132.46 220.5,128.63 220,132.53" fill="#f5f5f5" fill-opacity="1"/><polygon points="220,110.05 220.5,110.68 221,109.38 221.5,109.35 222,111.23 222.5,110.55 223,107.18 223.5,110.15 224,111.07 224.5,107.8 225,110.84 225.5,112.51 226,109.92 226.5,112.27 227,111.71 227.5,110.52 228,111.22 228.5,112.19 229,111.9 229.5,111.99 230,109.43 230.5,112.24 231,112.05 231.5,108.23 232,111.78 232.5,108.49 233,108.48 233.5,110.37 234,111.97 234.5,108.93 235,108.34 235.5,107.63 236,108.68 236.5,106.73 237,106.19 237.5,109.52 238,105.58 238.5,107.16 239,107.99 239.5,107.35 240,103.83 240.5,104.6 241,108.04 241.5,104.63 242,104.31 242.5,103.72 243,103.57 243.5,104.31 244,100.24 244.5,102.25 245,100.76 245.5,100.35 246,99.63 246.5,96.55 247,96.17 247.5,96.83 248,96.32 248.5,94.71 249,91.68 249.5,92.01 250,90.95 250.5,90.72 251,86.64 251.5,81.98 252,81.05 252.5,71.98 253,71.55 253.5,67.14 254,59.95 254.5,57.22 255,58.91 255.5,64.08 256,64.19 256.5,60.27 257,57.44 257.5,59.2 258,54.52 258.5,58.14 259,57.91 259.5,56.44 260,57.55 260.5,56.88 261,59.36 261.5,60.14 262,61.73 262.5,61.11 263,61.28 263.5,62.15 264,59.95 264.5,61.74 265,64.05 265.5,57.81 266,63.07 266.5,64.04 267,60.69 267.5,61.12 268,64.86 268.5,65.66 269,65.28 269.5,62.45 270,64.9 270.5,65.96 271,65.13 271.5,63.63 272,67.78 272.5,66.61 273,68.41 273.5,63.48 274,64.33 274.5,65.93 275,67.85 275.5,67 276,71.3 276.5,67.89 277,70.37 277.5,70.45 278,69.64 278.5,69.22 279,67.95 279.5,67.87 280,68.62 280.5,70.5 281,68.21 281.5,69.49 282,67.67 282.5,70.86 283,73.69 283.5,70.42 284,66.64 284.5,69.39 285,71.32 285.5,70.67 286,72.18 286.5,73.19 287,75.58 287.5,75.66 288,76.42 288.5,78.61 289,80.27 289.5,79.36 290,79.08 290.5,80.5 291,81.67 291.5,82.19 292,79.5 292.5,83.32 293,82.55 293.5,81.59 294,84.79 294.5,84.86 295,84.1 295.5,83.53 296,85.95 296.5,86.26 297,87.05 297.5,89.35 298,86.31 298.5,88.72 299,91.27 299.5,89.33 300,92.24 300.5,91.83 301,90.96 301.5,93 302,90.7 302.5,95.1 303,93.19 303.5,93.41 304,92.72 304.5,94.17 305,95.83 305.5,96.71 306,97.56 306.5,96.28 307,99.25 307.5,97.83 308,99.06 308.5,98.89 309,99.95 309.5,96.73 310,101.18 310.5,100.15 311,100.44 311.5,100.27 312,100.82 312.5,101.18 313,100.68 313.5,104.67 314,102.76 314.5,104.91 315,103.07 315.5,105.48 316,105.47 316.5,104.46 317,102.63 317.5,104.16 318,104.82 318.5,103.34 319,106.96 319.5,108.81 320,106.5 320.5,106.44 321,104.36 321.5,103.18 322,108.46 322.5,103 323,104.5 323.5,105.73 324,106.58 324.5,103.69 325,107.31 325.5,108.29 326,107.54 326.5,109.92 327,107.36 327.5,108.37 328,107.88 328.5,107.99 329,110.24 329.5,106.89 330,110.49 330.5,107.83 331,111.65 331.5,108.9 332,110.82 332.5,109.7 333,110.88 333.5,113.3 334,111.88 334.5,110.28 335,109.62 335,124.35 334.5,123.46 334,125.18 333.5,127.25 333,124.77 332.5,127.6 332,123.27 331.5,124.94 331,123.77 330.5,124.6 330,124.33 329.5,124.9 329,123.33 328.5,123.01 328,124.93 327.5,122.93 327,122.48 326.5,126.34 326,122.25 325.5,121.52 325,121.36 324.5,119.47 324,122.55 323.5,121.5 323,123.12 322.5,124.13 322,129.12 321.5,123.55 321,121.82 320.5,123.15 320,124.13 319.5,125.35 319,122.98 318.5,122.78 318,122.94 317.5,120.83 317,125.34 316.5,123.02 316,121.03 315.5,121.37 315,121.72 314.5,122.74 314,122.98 313.5,121.06 313,119.63 312.5,120.88 312,122.33 311.5,119.7 311,120.89 310.5,120.21 310,120.91 309.5,118.4 309,116.97 308.5,118.7 308,118.7 307.5,117.4 307,118.05 306.5,119.07 306,118.08 305.5,115.11 305,115.26 304.5,113.26 304,116.69 303.5,116.08 303,115.71 302.5,115.12 302,117.24 301.5,114.9 301,113.95 300.5,114.63 300,113.07 299.5,111.09 299,108.89 298.5,110.77 298,109.87 297.5,111.79 297,111.21 296.5,106.84 296,108.3 295.5,109.17 295,108.26 294.5,106.53 294,107.86 293.5,100.18 293,103.9 292.5,101.38 292,101.41 291.5,100.93 291,100.42 290.5,99.11 290,100.01 289.5,101.33 289,94.52 288.5,100.03 288,96.85 287.5,95.48 287,94.89 286.5,95.23 286,95.15 285.5,93.05 285,94.93 284.5,93.43 284,97.76 283.5,94.08 283,92.98 282.5,94.68 282,92.88 281.5,92.86 281,91.85 280.5,93.03 280,92.52 279.5,92.13 279,92.01 278.5,91.4 278,93.94 277.5,90.25 277,89.82 276.5,90.92 276,92.27 275.5,91.94 275,90.39 274.5,86.65 274,86.29 273.5,86.28 273,90.49 272.5,89.04 272,85.99 271.5,87.61 271,84.72 270.5,86.38 270,88.85 269.5,87.88 269,81.52 268.5,85.54 268,83.6 267.5,84.28 267,82.62 266.5,84.32 266,88.23 265.5,80.61 265,84.81 264.5,85.23 264,81.9 263.5,79.97 263,76.99 262.5,86.35 262,83.84 261.5,80.56 261,80.06 260.5,81.12 260,79.96 259.5,80.13 259,81.77 258.5,82.97 258,81.12 257.5,81.89 257,77.57 256.5,81.75 256,81.59 255.5,81.57 255,86.36 254.5,90.46 254,92.26 253.5,94.91 253,98.95 252.5,100.35 252,102.72 251.5,108.19 251,108.89 250.5,106.53 250,107.33 249.5,107.56 249,111.39 248.5,113.63 248,113.6 247.5,111.64 247,111.86 246.5,114.23 246,113.95 245.5,117.44 245,114.87 244.5,116.63 244,115.13 243.5,117.3 243,118.62 242.5,115.27 242,122.99 241.5,122 241,122.6 240.5,121.63 240,124.87 239.5,121.68 239,123.67 238.5,121.52 238,125.56 237.5,123.88 237,122.89 236.5,126.04 236,125.35 235.5,125.18 235,127.61 234.5,126.22 234,126.03 233.5,126.28 233,128.06 232.5,128.65 232,130.01 231.5,126.88 231,129.27 230.5,130.76 230,127.26 229.5,126.38 229,126.94 228.5,127.06 228,125.88 227.5,129.16 227,128.12 226.5,126.69 226,130.69 225.5,128.49 225,127.98 224.5,129.71 224,126.74 223.5,126.31 223,126.47 222.5,129.33 222,128.98 221.5,128.21 221,129.32 220.5,131.47 220,130.28" fill="#bdd4e6" fill-opacity="1"/><line x1="220" y1="121.03" x2="335" y2="121.03" stroke="#bdbdbd" stroke-width="0.55" stroke-dasharray="2.6,0.9"/><line x1="248.75" y1="134.46" x2="248.75" y2="40.5" stroke="#adadad" stroke-width="0.6" stroke-dasharray="3.5,0.7"/><path d="M220,117.02 L220.5,116.55 L221,116.14 L221.5,118.78 L222,119.48 L222.5,118.67 L223,117.38 L223.5,118.57 L224,117.36 L224.5,120.05 L225,117.2 L225.5,119.37 L226,117.91 L226.5,118.83 L227,119.21 L227.5,117.63 L228,116.9 L228.5,119.21 L229,118.71 L229.5,117.84 L230,119.8 L230.5,120.47 L231,119.35 L231.5,120.04 L232,120.86 L232.5,120.48 L233,121.03 L233.5,121.31 L234,120.8 L234.5,119.15 L235,118.23 L235.5,117.82 L236,119.37 L236.5,116.72 L237,116.15 L237.5,117.38 L238,114.68 L238.5,114.12 L239,115.78 L239.5,114.99 L240,113.8 L240.5,114.07 L241,111.68 L241.5,112.9 L242,111.21 L242.5,110.82 L243,111.02 L243.5,107.97 L244,107.08 L244.5,106.87 L245,104.31 L245.5,104.01 L246,103.25 L246.5,103.52 L247,101.9 L247.5,102.32 L248,100.04 L248.5,99.54 L249,100.92 L249.5,98.25 L250,97.65 L250.5,96.18 L251,95.47 L251.5,94.5 L252,91.03 L252.5,86.18 L253,74.28 L253.5,70.02 L254,66.78 L254.5,68.67 L255,68.73 L255.5,69.51 L256,68.32 L256.5,69.19 L257,66.75 L257.5,65.63 L258,68.08 L258.5,66.81 L259,67.6 L259.5,68.02 L260,69.95 L260.5,67.31 L261,71.96 L261.5,70.21 L262,68.64 L262.5,74.31 L263,73.36 L263.5,74.35 L264,73.07 L264.5,71.6 L265,71.81 L265.5,76.75 L266,75.29 L266.5,72.96 L267,73.1 L267.5,76.87 L268,77.05 L268.5,76.67 L269,76.54 L269.5,77.52 L270,77.3 L270.5,76.98 L271,77.47 L271.5,78.72 L272,79.42 L272.5,80.8 L273,79.86 L273.5,78.89 L274,81.31 L274.5,82.22 L275,80.26 L275.5,81.7 L276,80.83 L276.5,83.35 L277,84.39 L277.5,87.04 L278,81.9 L278.5,80.69 L279,84.63 L279.5,83.65 L280,82.53 L280.5,83.98 L281,84.79 L281.5,83.56 L282,82.45 L282.5,80.78 L283,81.69 L283.5,80.84 L284,83.55 L284.5,83.36 L285,85.28 L285.5,85.59 L286,83.43 L286.5,86.26 L287,85.58 L287.5,87.3 L288,86.11 L288.5,87.81 L289,87.83 L289.5,89.65 L290,91.26 L290.5,91.73 L291,92.32 L291.5,93.26 L292,93.44 L292.5,94.19 L293,94.43 L293.5,94.3 L294,97.48 L294.5,95.39 L295,95.88 L295.5,95.95 L296,97.08 L296.5,98.41 L297,98.91 L297.5,96.27 L298,99.16 L298.5,98.42 L299,98.61 L299.5,101.64 L300,102.91 L300.5,101.64 L301,102.36 L301.5,102.17 L302,103.33 L302.5,103.21 L303,104.67 L303.5,104.19 L304,105.08 L304.5,104.48 L305,106.02 L305.5,104.47 L306,104.96 L306.5,106.14 L307,106.02 L307.5,106.67 L308,107.03 L308.5,107.44 L309,108.35 L309.5,106.62 L310,107.56 L310.5,107.09 L311,109.78 L311.5,108.08 L312,110.3 L312.5,110.48 L313,109.54 L313.5,110.67 L314,110.89 L314.5,111.33 L315,112.89 L315.5,112.09 L316,110.8 L316.5,112.48 L317,113.18 L317.5,112.13 L318,114.76 L318.5,109.98 L319,112.88 L319.5,112.79 L320,111.05 L320.5,114.64 L321,112.76 L321.5,111.95 L322,113.3 L322.5,112.15 L323,111.95 L323.5,113.57 L324,113.23 L324.5,114.5 L325,113.16 L325.5,114.42 L326,114.23 L326.5,115.2 L327,115.77 L327.5,113.97 L328,112.64 L328.5,114.65 L329,116.64 L329.5,114.96 L330,116.89 L330.5,116.76 L331,116.04 L331.5,118.55 L332,116.87 L332.5,118.69 L333,118.17 L333.5,120.58 L334,119.88 L334.5,120.08 L335,116.58" fill="none" stroke="#74acdb" stroke-width="1.3" stroke-linejoin="round" style="mix-blend-mode:multiply"/><path d="M220,117.84 L220.5,117.16 L221,117.58 L221.5,120.7 L222,118.42 L222.5,118.08 L223,118.8 L223.5,118.46 L224,117.82 L224.5,121.65 L225,117.12 L225.5,118.34 L226,118.51 L226.5,119.48 L227,119.19 L227.5,120.1 L228,118.77 L228.5,119.08 L229,120.65 L229.5,118.51 L230,120.87 L230.5,122.61 L231,119.72 L231.5,121.29 L232,121.57 L232.5,121.7 L233,119.98 L233.5,121.88 L234,120.92 L234.5,119.75 L235,118.33 L235.5,117.79 L236,118.38 L236.5,117.33 L237,117.12 L237.5,115.88 L238,114.94 L238.5,114.73 L239,114.92 L239.5,115.8 L240,114.3 L240.5,113.76 L241,111.74 L241.5,113.33 L242,113 L242.5,111.54 L243,111.66 L243.5,109.85 L244,108.31 L244.5,109.67 L245,107.11 L245.5,106.58 L246,106.47 L246.5,105.49 L247,105.77 L247.5,105.32 L248,104.51 L248.5,103.49 L249,105.4 L249.5,101.02 L250,99.83 L250.5,97.84 L251,97.8 L251.5,97.8 L252,95.72 L252.5,93.58 L253,88.51 L253.5,83.61 L254,79.81 L254.5,78.05 L255,73.57 L255.5,72.18 L256,72.08 L256.5,71.49 L257,70.15 L257.5,69.92 L258,72.77 L258.5,70.44 L259,72.57 L259.5,73.02 L260,73.83 L260.5,73.39 L261,75.51 L261.5,73.41 L262,73.22 L262.5,76.24 L263,76.32 L263.5,77.86 L264,76.16 L264.5,76.26 L265,75.54 L265.5,78.33 L266,78.62 L266.5,77.88 L267,76.91 L267.5,77.69 L268,78.96 L268.5,78.47 L269,78.66 L269.5,80.46 L270,80.61 L270.5,79.15 L271,80.26 L271.5,81.33 L272,81.8 L272.5,82.98 L273,82.25 L273.5,81.81 L274,82.62 L274.5,83.17 L275,82.47 L275.5,82.66 L276,82.42 L276.5,85.57 L277,85.9 L277.5,87.68 L278,84.58 L278.5,85.25 L279,86.96 L279.5,87.42 L280,87.93 L280.5,87.1 L281,85.94 L281.5,87.41 L282,85.58 L282.5,86.51 L283,85.88 L283.5,86.23 L284,85.77 L284.5,86.65 L285,90.02 L285.5,88.08 L286,85.57 L286.5,89.38 L287,88.1 L287.5,89.3 L288,89.61 L288.5,90.1 L289,89.92 L289.5,93.5 L290,93.45 L290.5,94.28 L291,95.91 L291.5,95.08 L292,95.01 L292.5,97.23 L293,95.78 L293.5,98.07 L294,100.24 L294.5,98.18 L295,99.38 L295.5,99.16 L296,99.39 L296.5,101.18 L297,102.1 L297.5,101.89 L298,103.67 L298.5,101.52 L299,103.24 L299.5,105.64 L300,105.88 L300.5,105.62 L301,106.67 L301.5,105.13 L302,107.61 L302.5,107.43 L303,109.32 L303.5,107.64 L304,110.3 L304.5,109.02 L305,110.05 L305.5,109.03 L306,109.3 L306.5,110.77 L307,110.69 L307.5,111.7 L308,111.99 L308.5,112.38 L309,113.28 L309.5,112.35 L310,112.66 L310.5,111.14 L311,114.88 L311.5,112.69 L312,113.58 L312.5,116.19 L313,115.75 L313.5,115.94 L314,114.73 L314.5,114.01 L315,116.06 L315.5,115.57 L316,114.92 L316.5,117.77 L317,118.84 L317.5,115.7 L318,117.7 L318.5,115.93 L319,117.26 L319.5,117.43 L320,115.68 L320.5,117.28 L321,117.37 L321.5,117.11 L322,116.36 L322.5,117.94 L323,116.14 L323.5,118.3 L324,116.91 L324.5,117.89 L325,117.69 L325.5,119.4 L326,117.19 L326.5,119.77 L327,119.23 L327.5,118.1 L328,116.28 L328.5,118.24 L329,117.56 L329.5,117.92 L330,119.5 L330.5,117.57 L331,117.24 L331.5,120.59 L332,118.94 L332.5,119.42 L333,119.65 L333.5,120.11 L334,118.93 L334.5,119.26 L335,117.94" fill="none" stroke="#8e8e8e" stroke-width="1.1" stroke-linejoin="round" style="mix-blend-mode:multiply"/><path d="M220,40.5 V161.3 H335" fill="none" stroke="#c2c2c2" stroke-width="0.8"/><text x="218.6" y="162.6" font-family="Liberation Sans" font-size="3.8" text-anchor="end" fill="#4a4a4a">0.2</text><text x="218.6" y="149.18" font-family="Liberation Sans" font-size="3.8" text-anchor="end" fill="#4a4a4a">0.3</text><text x="218.6" y="135.76" font-family="Liberation Sans" font-size="3.8" text-anchor="end" fill="#4a4a4a">0.4</text><text x="218.6" y="122.33" font-family="Liberation Sans" font-size="3.8" text-anchor="end" fill="#4a4a4a">0.5</text><text x="218.6" y="108.91" font-family="Liberation Sans" font-size="3.8" text-anchor="end" fill="#4a4a4a">0.6</text><text x="218.6" y="95.49" font-family="Liberation Sans" font-size="3.8" text-anchor="end" fill="#4a4a4a">0.7</text><text x="218.6" y="82.07" font-family="Liberation Sans" font-size="3.8" text-anchor="end" fill="#4a4a4a">0.8</text><text x="218.6" y="68.64" font-family="Liberation Sans" font-size="3.8" text-anchor="end" fill="#4a4a4a">0.9</text><text x="218.6" y="55.22" font-family="Liberation Sans" font-size="3.8" text-anchor="end" fill="#4a4a4a">1</text><text x="218.6" y="41.8" font-family="Liberation Sans" font-size="3.8" text-anchor="end" fill="#4a4a4a">1.1</text><text x="220" y="165.9" font-family="Liberation Sans" font-size="3.8" text-anchor="middle" fill="#4a4a4a">-0.5</text><text x="248.75" y="165.9" font-family="Liberation Sans" font-size="3.8" text-anchor="middle" fill="#4a4a4a">0</text><text x="277.5" y="165.9" font-family="Liberation Sans" font-size="3.8" text-anchor="middle" fill="#4a4a4a">0.5</text><text x="306.25" y="165.9" font-family="Liberation Sans" font-size="3.8" text-anchor="middle" fill="#4a4a4a">1</text><text x="335" y="165.9" font-family="Liberation Sans" font-size="3.8" text-anchor="middle" fill="#4a4a4a">1.5</text><text x="277.5" y="170.7" font-family="Liberation Sans" font-size="4.6" text-anchor="middle" fill="#3a3a3a">time points</text><text transform="translate(212.6,100.9) rotate(-90)" font-family="Liberation Sans" font-size="4.6" text-anchor="middle" fill="#333">auc</text><text x="277.5" y="39.2" font-family="Liberation Sans" font-weight="bold" font-size="5.5" text-anchor="middle" fill="#000">Verum_Sham</text></g>
<g><rect x="364.7" y="28.8" width="148.2" height="148.3" fill="none" stroke="#f4f4f4" stroke-width="0.7"/><line x1="383.4" y1="147.88" x2="498.4" y2="147.88" stroke="#ebebeb" stroke-width="0.6"/><line x1="383.4" y1="134.46" x2="498.4" y2="134.46" stroke="#ebebeb" stroke-width="0.6"/><line x1="383.4" y1="107.61" x2="498.4" y2="107.61" stroke="#ebebeb" stroke-width="0.6"/><line x1="383.4" y1="94.19" x2="498.4" y2="94.19" stroke="#ebebeb" stroke-width="0.6"/><line x1="383.4" y1="80.77" x2="498.4" y2="80.77" stroke="#ebebeb" stroke-width="0.6"/><line x1="383.4" y1="67.34" x2="498.4" y2="67.34" stroke="#ebebeb" stroke-width="0.6"/><line x1="383.4" y1="53.92" x2="498.4" y2="53.92" stroke="#ebebeb" stroke-width="0.6"/><line x1="440.9" y1="40.5" x2="440.9" y2="161.3" stroke="#ebebeb" stroke-width="0.6"/><line x1="469.65" y1="40.5" x2="469.65" y2="161.3" stroke="#ebebeb" stroke-width="0.6"/><line x1="412.15" y1="40.5" x2="412.15" y2="161.3" stroke="#ebebeb" stroke-width="0.6"/><line x1="383.4" y1="40.5" x2="498.4" y2="40.5" stroke="#ebebeb" stroke-width="0.6"/><line x1="498.4" y1="40.5" x2="498.4" y2="161.3" stroke="#ebebeb" stroke-width="0.6"/><polygon points="383.4,108.78 383.9,110.6 384.4,107.43 384.9,109.83 385.4,107.56 385.9,108.89 386.4,109.62 386.9,109.49 387.4,107.53 387.9,109.47 388.4,108.6 388.9,109.44 389.4,110.94 389.9,107.26 390.4,106.95 390.9,109.25 391.4,106.8 391.9,107.58 392.4,109.63 392.9,108.14 393.4,105.79 393.9,105.1 394.4,105.78 394.9,102.35 395.4,105.45 395.9,106.75 396.4,107.54 396.9,103.34 397.4,105.8 397.9,105.48 398.4,105.89 398.9,105.7 399.4,104.9 399.9,103.59 400.4,103.28 400.9,103.35 401.4,102.35 401.9,104.1 402.4,104.63 402.9,103.13 403.4,105.64 403.9,101.52 404.4,101.79 404.9,101.57 405.4,103.57 405.9,102.58 406.4,101.7 406.9,102.91 407.4,102.83 407.9,101.45 408.4,100.78 408.9,101.69 409.4,99.22 409.9,97.43 410.4,99.45 410.9,100.29 411.4,100.29 411.9,97.49 412.4,97.58 412.9,94.02 413.4,91.39 413.9,89.31 414.4,83.34 414.9,82.56 415.4,78.88 415.9,78.83 416.4,69.86 416.9,68.61 417.4,66.61 417.9,64.4 418.4,64.34 418.9,65.99 419.4,63.23 419.9,65.21 420.4,63.63 420.9,63.77 421.4,61.97 421.9,64.44 422.4,64.5 422.9,64.4 423.4,66.09 423.9,65.75 424.4,65.15 424.9,64.2 425.4,64.93 425.9,66.46 426.4,64.63 426.9,66.95 427.4,68.67 427.9,64.67 428.4,66.92 428.9,67.74 429.4,68.91 429.9,68.11 430.4,65.47 430.9,68.05 431.4,65.2 431.9,68.39 432.4,67.13 432.9,68.84 433.4,69.73 433.9,69.92 434.4,69.94 434.9,71.44 435.4,71.71 435.9,69.79 436.4,68.82 436.9,70.52 437.4,70.9 437.9,72.43 438.4,69.9 438.9,70.25 439.4,73.46 439.9,72.03 440.4,72.81 440.9,74.61 441.4,70.65 441.9,71.46 442.4,72.86 442.9,71.61 443.4,74.44 443.9,73.61 444.4,72.4 444.9,74.85 445.4,74.28 445.9,76.23 446.4,74.28 446.9,73.99 447.4,77.43 447.9,77.73 448.4,77.32 448.9,75.9 449.4,79.03 449.9,80.03 450.4,79.61 450.9,78.48 451.4,82.64 451.9,81.36 452.4,79.93 452.9,82.29 453.4,83.19 453.9,82.21 454.4,85.55 454.9,81.71 455.4,84.39 455.9,86.11 456.4,86.04 456.9,86.8 457.4,87.66 457.9,89.48 458.4,88.72 458.9,91.27 459.4,87.66 459.9,91.59 460.4,91.62 460.9,92.26 461.4,90.77 461.9,92.57 462.4,90.93 462.9,94.03 463.4,93.77 463.9,94.61 464.4,95.53 464.9,94.13 465.4,94.53 465.9,94.98 466.4,99.15 466.9,97.38 467.4,99.92 467.9,100.51 468.4,101.94 468.9,101.34 469.4,99.82 469.9,99.1 470.4,98.78 470.9,102.47 471.4,102.23 471.9,101.22 472.4,101.47 472.9,101.52 473.4,104.31 473.9,102.35 474.4,101.45 474.9,102.02 475.4,102.67 475.9,103.63 476.4,102.92 476.9,100.79 477.4,102.4 477.9,101.8 478.4,101.13 478.9,104.96 479.4,102.74 479.9,103.16 480.4,102.14 480.9,104.39 481.4,104.5 481.9,105.23 482.4,104.25 482.9,105.01 483.4,104.99 483.9,104.48 484.4,105.57 484.9,106.45 485.4,105.9 485.9,106.23 486.4,105.06 486.9,104.1 487.4,106.37 487.9,109.34 488.4,105.41 488.9,106.42 489.4,107.74 489.9,106.96 490.4,104.27 490.9,108.91 491.4,108.61 491.9,107.27 492.4,111.51 492.9,108.09 493.4,106.3 493.9,107.02 494.4,107.39 494.9,108.48 495.4,108.39 495.9,104.63 496.4,108.14 496.9,106.78 497.4,110.41 497.9,108.54 498.4,108.52 498.4,127.49 497.9,134.69 497.4,129.93 496.9,128 496.4,132.1 495.9,130.3 495.4,134.39 494.9,130.22 494.4,130.31 493.9,128.97 493.4,129.04 492.9,128.75 492.4,131.29 491.9,132.08 491.4,131.87 490.9,130.82 490.4,130.1 489.9,127.9 489.4,132.44 488.9,128.49 488.4,125.87 487.9,126.51 487.4,130 486.9,130.78 486.4,130.02 485.9,133.65 485.4,128.45 484.9,130.64 484.4,126.07 483.9,134.8 483.4,130.73 482.9,133.78 482.4,131.96 481.9,130.99 481.4,131.1 480.9,132.76 480.4,129.31 479.9,132.33 479.4,126.54 478.9,126.22 478.4,129.7 477.9,125.83 477.4,126.69 476.9,126.24 476.4,126.65 475.9,127.62 475.4,125.97 474.9,125.78 474.4,125.91 473.9,126.21 473.4,123.98 472.9,128.62 472.4,124.61 471.9,125.29 471.4,124.75 470.9,121.55 470.4,123.75 469.9,125.22 469.4,122.14 468.9,122.23 468.4,126.54 467.9,122.17 467.4,120.76 466.9,121.7 466.4,124.13 465.9,122.9 465.4,119.4 464.9,121.63 464.4,121.07 463.9,118.35 463.4,121.27 462.9,123.21 462.4,119.76 461.9,115.24 461.4,119.52 460.9,116.4 460.4,118.4 459.9,119.26 459.4,114.95 458.9,116.03 458.4,112.48 457.9,110.12 457.4,109.77 456.9,110.12 456.4,109.07 455.9,110.72 455.4,110.27 454.9,109.06 454.4,107.67 453.9,107.32 453.4,107.65 452.9,106.62 452.4,106.74 451.9,105.92 451.4,105.57 450.9,108.31 450.4,104.87 449.9,104.52 449.4,104.17 448.9,104.95 448.4,103.47 447.9,103.12 447.4,102.77 446.9,102.42 446.4,102.01 445.9,102.2 445.4,101.08 444.9,100.61 444.4,100.14 443.9,103.76 443.4,102.91 442.9,99.22 442.4,98.27 441.9,100.03 441.4,97.34 440.9,98.67 440.4,102.32 439.9,96.07 439.4,96.46 438.9,95.01 438.4,95.77 437.9,97.14 437.4,94.63 436.9,93.71 436.4,93.25 435.9,95.48 435.4,93.4 434.9,92.3 434.4,92.88 433.9,95.59 433.4,93.15 432.9,90.45 432.4,92.32 431.9,89.7 431.4,90.64 430.9,94.43 430.4,89.76 429.9,89.49 429.4,89.73 428.9,89.51 428.4,88.96 427.9,90.84 427.4,87.33 426.9,92.49 426.4,88.66 425.9,95.5 425.4,85.74 424.9,85.42 424.4,87.96 423.9,84.66 423.4,87.21 422.9,85.22 422.4,85.02 421.9,83.51 421.4,83.33 420.9,83.16 420.4,82.98 419.9,83.99 419.4,82.63 418.9,86.15 418.4,83.18 417.9,91.54 417.4,92.03 416.9,101.95 416.4,105.54 415.9,107.02 415.4,110.14 414.9,110.32 414.4,110.02 413.9,110.36 413.4,113.12 412.9,111.67 412.4,115.35 411.9,115.1 411.4,116.21 410.9,117.77 410.4,118.58 409.9,118.99 409.4,118.56 408.9,122.73 408.4,124.94 407.9,124.35 407.4,127.8 406.9,130.14 406.4,125.09 405.9,125.38 405.4,124.91 404.9,126.9 404.4,127.99 403.9,129.04 403.4,127.98 402.9,124.44 402.4,127.96 401.9,128.22 401.4,127.59 400.9,132.14 400.4,127.71 399.9,131.69 399.4,129.62 398.9,132.66 398.4,127.97 397.9,132.47 397.4,128.4 396.9,131.09 396.4,131.27 395.9,131.72 395.4,130.59 394.9,129.68 394.4,130.7 393.9,129.93 393.4,137.77 392.9,130.2 392.4,131.67 391.9,131.38 391.4,129.42 390.9,129.14 390.4,135.33 389.9,130.02 389.4,135.98 388.9,132.66 388.4,131.87 387.9,130.68 387.4,131.36 386.9,136.65 386.4,132.55 385.9,133.65 385.4,131.16 384.9,133.38 384.4,131.58 383.9,136.63 383.4,130.57" fill="#f5f5f5" fill-opacity="1"/><polygon points="383.4,109.33 383.9,107.88 384.4,107.03 384.9,108.42 385.4,108.63 385.9,108.1 386.4,111.28 386.9,110.97 387.4,108.1 387.9,108.48 388.4,106.88 388.9,109.64 389.4,107.3 389.9,107.37 390.4,106.04 390.9,110.14 391.4,109.49 391.9,108.58 392.4,108.61 392.9,110.48 393.4,109.86 393.9,110.96 394.4,105.65 394.9,109.16 395.4,109.09 395.9,110 396.4,109.07 396.9,107.96 397.4,109.62 397.9,109.1 398.4,105.5 398.9,107 399.4,107.66 399.9,108.28 400.4,107.34 400.9,108.05 401.4,106.21 401.9,107.25 402.4,106.99 402.9,106.17 403.4,106.81 403.9,104.37 404.4,100.3 404.9,104.29 405.4,105.18 405.9,100.68 406.4,101.6 406.9,97.89 407.4,99.6 407.9,98.15 408.4,100.02 408.9,100.54 409.4,97.69 409.9,95.66 410.4,97.14 410.9,97.45 411.4,95.21 411.9,94.21 412.4,93.27 412.9,92.06 413.4,87.71 413.9,90.24 414.4,86.58 414.9,83.02 415.4,75.81 415.9,74.89 416.4,65.99 416.9,64.26 417.4,63.92 417.9,58.88 418.4,56.77 418.9,57.17 419.4,65.72 419.9,61.82 420.4,60.75 420.9,57.98 421.4,59.61 421.9,57.69 422.4,53.75 422.9,56.24 423.4,59.64 423.9,57.39 424.4,59.43 424.9,59.69 425.4,60.88 425.9,58.04 426.4,60.68 426.9,60.01 427.4,60.59 427.9,63.35 428.4,62.61 428.9,60.79 429.4,64.63 429.9,62.37 430.4,63.29 430.9,62.45 431.4,62.64 431.9,62.69 432.4,64.07 432.9,64.03 433.4,65.7 433.9,65.71 434.4,63.84 434.9,66.3 435.4,64.17 435.9,64.46 436.4,67.35 436.9,65.61 437.4,67.88 437.9,66.44 438.4,68.34 438.9,66.95 439.4,67.39 439.9,69.37 440.4,65.01 440.9,66.81 441.4,70.78 441.9,68.1 442.4,69.44 442.9,65.99 443.4,69.28 443.9,68.81 444.4,69.86 444.9,68.85 445.4,70.77 445.9,71.5 446.4,71.1 446.9,71.19 447.4,69.84 447.9,71.4 448.4,72.95 448.9,73.66 449.4,75.17 449.9,74.4 450.4,78.34 450.9,76.44 451.4,75.13 451.9,78.18 452.4,79.37 452.9,78.84 453.4,80.77 453.9,81.01 454.4,79.38 454.9,81.82 455.4,78.5 455.9,81.09 456.4,82.53 456.9,83.78 457.4,83.75 457.9,87.21 458.4,84 458.9,83.55 459.4,84.51 459.9,86.49 460.4,85.44 460.9,85.9 461.4,87.58 461.9,87.42 462.4,86.95 462.9,88.35 463.4,90.12 463.9,90.09 464.4,90.43 464.9,93.56 465.4,91.55 465.9,92.47 466.4,96.02 466.9,95.89 467.4,91.26 467.9,94.31 468.4,93.02 468.9,96.1 469.4,93.83 469.9,95.69 470.4,97.98 470.9,97 471.4,95.53 471.9,94.76 472.4,97.96 472.9,99.82 473.4,100.87 473.9,99.02 474.4,98.86 474.9,100.7 475.4,101.5 475.9,100.57 476.4,101.5 476.9,102.07 477.4,105.34 477.9,104.01 478.4,101.11 478.9,104.05 479.4,100.59 479.9,103.74 480.4,104.87 480.9,104.17 481.4,103.83 481.9,105.93 482.4,104.64 482.9,105.76 483.4,103.14 483.9,106.09 484.4,105.39 484.9,107.92 485.4,107.86 485.9,106.12 486.4,107.48 486.9,106.7 487.4,105.99 487.9,105.58 488.4,108.56 488.9,106.82 489.4,105.64 489.9,107.69 490.4,108.68 490.9,107.85 491.4,104.5 491.9,106.94 492.4,104.74 492.9,107.56 493.4,105.42 493.9,109.38 494.4,107.69 494.9,107.26 495.4,104.86 495.9,106.83 496.4,105.95 496.9,108.29 497.4,108.35 497.9,105.93 498.4,105.77 498.4,123.82 497.9,123.09 497.4,124.37 496.9,126.01 496.4,120.88 495.9,124.72 495.4,123.11 494.9,122.21 494.4,122.71 493.9,124.93 493.4,118.49 492.9,123.67 492.4,125.09 491.9,122.47 491.4,124.17 490.9,123.95 490.4,126.58 489.9,120.48 489.4,122.51 488.9,123.82 488.4,121.91 487.9,123.58 487.4,123.74 486.9,123.65 486.4,122.24 485.9,122.04 485.4,121.63 484.9,119.8 484.4,121.01 483.9,120.76 483.4,123.02 482.9,122.03 482.4,124.97 481.9,124.84 481.4,123.36 480.9,119.8 480.4,123.41 479.9,120.91 479.4,119.48 478.9,119.62 478.4,123.03 477.9,118.94 477.4,120.36 476.9,116.8 476.4,121.29 475.9,120.59 475.4,119.8 474.9,120.82 474.4,120.49 473.9,122.26 473.4,121.31 472.9,119.66 472.4,119.05 471.9,117.31 471.4,118.15 470.9,116.93 470.4,118.26 469.9,116.62 469.4,117.27 468.9,117.13 468.4,115.62 467.9,109.37 467.4,114.55 466.9,115.88 466.4,112.61 465.9,114.12 465.4,117.35 464.9,116.19 464.4,113.42 463.9,114.68 463.4,113.76 462.9,108.11 462.4,109.03 461.9,110.09 461.4,106.71 460.9,111.46 460.4,104.85 459.9,106.94 459.4,105.46 458.9,106.52 458.4,108 457.9,105.06 457.4,101.13 456.9,106.12 456.4,102.51 455.9,103.5 455.4,101.46 454.9,99.1 454.4,100.18 453.9,100.26 453.4,99.93 452.9,96.88 452.4,95.13 451.9,95.31 451.4,94.12 450.9,92.43 450.4,98.54 449.9,92.63 449.4,93.89 448.9,90.48 448.4,89.66 447.9,95.14 447.4,91.87 446.9,92.37 446.4,90.03 445.9,88.04 445.4,91.9 444.9,91.66 444.4,90.22 443.9,88.67 443.4,91.44 442.9,87.8 442.4,90.25 441.9,87.63 441.4,91.68 440.9,90.94 440.4,88.49 439.9,88.06 439.4,87.33 438.9,89.86 438.4,90.36 437.9,89.19 437.4,87.63 436.9,88.46 436.4,86.51 435.9,84.17 435.4,83.26 434.9,86.53 434.4,88.21 433.9,86.55 433.4,85.24 432.9,84.45 432.4,87.58 431.9,84.64 431.4,86.28 430.9,80.05 430.4,81.37 429.9,84.73 429.4,82.43 428.9,84.01 428.4,83.39 427.9,83.76 427.4,83.41 426.9,81.32 426.4,81.61 425.9,82.06 425.4,84.37 424.9,81.07 424.4,84.27 423.9,82.86 423.4,83.73 422.9,83.36 422.4,82.18 421.9,80.47 421.4,83.14 420.9,84.62 420.4,80.22 419.9,82.56 419.4,84.22 418.9,88.07 418.4,84.58 417.9,87.82 417.4,95.41 416.9,95.64 416.4,98.19 415.9,98.45 415.4,100.68 414.9,106.86 414.4,104.99 413.9,107.71 413.4,107.47 412.9,106.42 412.4,105.61 411.9,107.69 411.4,111.75 410.9,113.56 410.4,112.4 409.9,113.49 409.4,113.22 408.9,110.88 408.4,113.08 407.9,113.68 407.4,116.05 406.9,119.93 406.4,119.48 405.9,116.6 405.4,119.89 404.9,121.4 404.4,122.2 403.9,121.68 403.4,118.91 402.9,118.22 402.4,120.31 401.9,120.35 401.4,123.17 400.9,123.23 400.4,123.74 399.9,122.43 399.4,123.49 398.9,123.68 398.4,124.75 397.9,126.5 397.4,128.68 396.9,125.63 396.4,124.88 395.9,128.14 395.4,128.52 394.9,127.24 394.4,128.06 393.9,127.36 393.4,125.58 392.9,126.85 392.4,128.73 391.9,126.73 391.4,128.41 390.9,127.98 390.4,129.1 389.9,125.53 389.4,127.49 388.9,125.17 388.4,127.26 387.9,130.02 387.4,130.68 386.9,130.4 386.4,126.09 385.9,125.23 385.4,127.21 384.9,123.8 384.4,128.54 383.9,125.59 383.4,125.6" fill="#bdd4e6" fill-opacity="1"/><line x1="383.4" y1="121.03" x2="498.4" y2="121.03" stroke="#bdbdbd" stroke-width="0.55" stroke-dasharray="2.6,0.9"/><line x1="412.15" y1="134.46" x2="412.15" y2="40.5" stroke="#adadad" stroke-width="0.6" stroke-dasharray="3.5,0.7"/><path d="M383.4,119.47 L383.9,117.12 L384.4,117.31 L384.9,117.52 L385.4,116.95 L385.9,119.87 L386.4,119.31 L386.9,119.4 L387.4,119.72 L387.9,117.5 L388.4,118.19 L388.9,117.98 L389.4,121.18 L389.9,118.07 L390.4,119.43 L390.9,115.67 L391.4,116.25 L391.9,116.83 L392.4,118.91 L392.9,117.19 L393.4,117.46 L393.9,117.61 L394.4,117.16 L394.9,117.42 L395.4,116.95 L395.9,117.15 L396.4,117.19 L396.9,118.43 L397.4,116.18 L397.9,119.48 L398.4,115.28 L398.9,116.83 L399.4,115.57 L399.9,116.51 L400.4,115.92 L400.9,114.14 L401.4,113.01 L401.9,112.9 L402.4,113.14 L402.9,110.76 L403.4,111.22 L403.9,112.22 L404.4,110.09 L404.9,110.45 L405.4,107.04 L405.9,108.1 L406.4,108.73 L406.9,109.43 L407.4,106.84 L407.9,104.52 L408.4,105.06 L408.9,103.45 L409.4,102.45 L409.9,103.21 L410.4,100.92 L410.9,100.15 L411.4,98.02 L411.9,98.45 L412.4,96.92 L412.9,95.51 L413.4,96.69 L413.9,96 L414.4,95.1 L414.9,95.1 L415.4,94.63 L415.9,89.1 L416.4,80.93 L416.9,73.53 L417.4,72.65 L417.9,71.11 L418.4,68.41 L418.9,66.71 L419.4,65.44 L419.9,65.44 L420.4,64.48 L420.9,66.09 L421.4,65.93 L421.9,66.3 L422.4,67.82 L422.9,66.31 L423.4,67 L423.9,68 L424.4,69.81 L424.9,68.98 L425.4,70.39 L425.9,73.68 L426.4,70.92 L426.9,70.11 L427.4,70.19 L427.9,72.96 L428.4,70.31 L428.9,71.99 L429.4,72.1 L429.9,72.06 L430.4,71.79 L430.9,76.45 L431.4,72.65 L431.9,75.05 L432.4,75.76 L432.9,75.66 L433.4,79.39 L433.9,77.44 L434.4,76.99 L434.9,79.19 L435.4,79.13 L435.9,79.03 L436.4,80.51 L436.9,78.95 L437.4,80.17 L437.9,81.2 L438.4,81.4 L438.9,79.53 L439.4,81.54 L439.9,81.16 L440.4,84.62 L440.9,81.94 L441.4,82.1 L441.9,81.2 L442.4,82.91 L442.9,83.63 L443.4,80.88 L443.9,80.7 L444.4,84.1 L444.9,82.75 L445.4,80.98 L445.9,81.12 L446.4,79.09 L446.9,82.64 L447.4,82.24 L447.9,84.61 L448.4,84.16 L448.9,84.41 L449.4,83.11 L449.9,85.81 L450.4,85.05 L450.9,86.99 L451.4,84.73 L451.9,85.9 L452.4,87.34 L452.9,88.26 L453.4,88.77 L453.9,89.22 L454.4,91.14 L454.9,90.84 L455.4,94.35 L455.9,94.25 L456.4,94.79 L456.9,94.43 L457.4,95.92 L457.9,94.9 L458.4,95.21 L458.9,95.75 L459.4,95.94 L459.9,95.81 L460.4,95.99 L460.9,99.23 L461.4,98.57 L461.9,97.48 L462.4,100.39 L462.9,100.24 L463.4,102.69 L463.9,103.33 L464.4,104.21 L464.9,103.28 L465.4,104.57 L465.9,104.44 L466.4,105.57 L466.9,105.71 L467.4,105.13 L467.9,105.09 L468.4,105.1 L468.9,105.29 L469.4,104.61 L469.9,106.23 L470.4,108.35 L470.9,108.65 L471.4,109.38 L471.9,111.67 L472.4,111.06 L472.9,107.89 L473.4,110.41 L473.9,113.26 L474.4,111.2 L474.9,110.19 L475.4,111.44 L475.9,110.68 L476.4,113.17 L476.9,112.76 L477.4,111.97 L477.9,112.62 L478.4,113.37 L478.9,112.76 L479.4,112.19 L479.9,113.67 L480.4,113.14 L480.9,113.24 L481.4,112.93 L481.9,111.76 L482.4,112.29 L482.9,112.71 L483.4,114.55 L483.9,112.88 L484.4,110.78 L484.9,112.94 L485.4,111.06 L485.9,113.33 L486.4,112.75 L486.9,112.9 L487.4,112.89 L487.9,114.05 L488.4,114.36 L488.9,113.47 L489.4,114.41 L489.9,114.88 L490.4,114.64 L490.9,114.81 L491.4,115.08 L491.9,116.82 L492.4,116.1 L492.9,116.36 L493.4,116.05 L493.9,113.82 L494.4,116.27 L494.9,116.35 L495.4,118.04 L495.9,117.98 L496.4,117.64 L496.9,115.41 L497.4,116.7 L497.9,118.39 L498.4,115.95" fill="none" stroke="#74acdb" stroke-width="1.3" stroke-linejoin="round" style="mix-blend-mode:multiply"/><path d="M383.4,118.83 L383.9,118.69 L384.4,118.81 L384.9,117.79 L385.4,118.24 L385.9,119.81 L386.4,118.68 L386.9,119.58 L387.4,118.35 L387.9,118.37 L388.4,118.52 L388.9,118.11 L389.4,119.53 L389.9,117.83 L390.4,118.93 L390.9,115.31 L391.4,116.92 L391.9,117.37 L392.4,118.39 L392.9,117.36 L393.4,117.62 L393.9,116.94 L394.4,117.73 L394.9,117.93 L395.4,118.52 L395.9,118.73 L396.4,117.86 L396.9,117.12 L397.4,116.09 L397.9,118.66 L398.4,116.39 L398.9,118.92 L399.4,117.03 L399.9,118.32 L400.4,115.94 L400.9,116.68 L401.4,116.12 L401.9,115.89 L402.4,115.54 L402.9,112.34 L403.4,113.87 L403.9,114.28 L404.4,112.6 L404.9,113.6 L405.4,112.04 L405.9,111.84 L406.4,111.25 L406.9,113.15 L407.4,110.76 L407.9,109.73 L408.4,109.66 L408.9,108.1 L409.4,105.74 L409.9,107.05 L410.4,104.11 L410.9,103.78 L411.4,103.51 L411.9,103.58 L412.4,100.52 L412.9,97.43 L413.4,99.48 L413.9,97.25 L414.4,95.86 L414.9,96.92 L415.4,94.14 L415.9,90.7 L416.4,85.25 L416.9,80.17 L417.4,78.77 L417.9,76.88 L418.4,70.72 L418.9,71.14 L419.4,70.41 L419.9,69.93 L420.4,69.34 L420.9,70.68 L421.4,70.89 L421.9,70.03 L422.4,72 L422.9,70.83 L423.4,72.22 L423.9,71.19 L424.4,71.21 L424.9,71.68 L425.4,71.46 L425.9,75.22 L426.4,75.79 L426.9,75.74 L427.4,74.95 L427.9,77.93 L428.4,75.65 L428.9,78 L429.4,77.3 L429.9,75.79 L430.4,76.94 L430.9,78.69 L431.4,78.67 L431.9,77.13 L432.4,78.7 L432.9,77.76 L433.4,80.38 L433.9,80.01 L434.4,80.08 L434.9,80.04 L435.4,80.5 L435.9,81.42 L436.4,81.08 L436.9,81.07 L437.4,81.5 L437.9,82.9 L438.4,83.2 L438.9,81.55 L439.4,84.39 L439.9,82.73 L440.4,86.26 L440.9,84.6 L441.4,84.5 L441.9,84.21 L442.4,85.2 L442.9,86.24 L443.4,85.57 L443.9,85.18 L444.4,86.75 L444.9,88.16 L445.4,86.24 L445.9,86.41 L446.4,85.37 L446.9,88.16 L447.4,88.07 L447.9,87.86 L448.4,89.19 L448.9,90.17 L449.4,87.28 L449.9,88.98 L450.4,89.17 L450.9,91.49 L451.4,90.74 L451.9,91.59 L452.4,91.04 L452.9,91.61 L453.4,92.84 L453.9,92.52 L454.4,93.65 L454.9,92.97 L455.4,96.73 L455.9,95.82 L456.4,95.93 L456.9,96.86 L457.4,97.46 L457.9,97.39 L458.4,99.18 L458.9,100.28 L459.4,100.47 L459.9,102.69 L460.4,101.97 L460.9,103.55 L461.4,103.71 L461.9,102.64 L462.4,105.52 L462.9,103.8 L463.4,106.12 L463.9,106.42 L464.4,108.12 L464.9,106.04 L465.4,106.22 L465.9,108 L466.4,109.37 L466.9,107.87 L467.4,108.37 L467.9,108.69 L468.4,110.08 L468.9,108.33 L469.4,107.33 L469.9,109.47 L470.4,110.57 L470.9,110.12 L471.4,111.42 L471.9,113.02 L472.4,112.7 L472.9,110.41 L473.4,111.2 L473.9,112.31 L474.4,112.79 L474.9,110.29 L475.4,113.67 L475.9,113.18 L476.4,113.14 L476.9,114.8 L477.4,114.03 L477.9,113.64 L478.4,116.34 L478.9,113.39 L479.4,114.27 L479.9,116.1 L480.4,115.77 L480.9,117.22 L481.4,118.16 L481.9,115.28 L482.4,116.21 L482.9,117.01 L483.4,117.92 L483.9,117.77 L484.4,113.94 L484.9,118.04 L485.4,116.14 L485.9,116.49 L486.4,116.27 L486.9,115.93 L487.4,116.79 L487.9,114.87 L488.4,114.06 L488.9,115.15 L489.4,116.72 L489.9,116.42 L490.4,115.42 L490.9,115.05 L491.4,115.92 L491.9,116.55 L492.4,117.35 L492.9,116.85 L493.4,116.11 L493.9,114.71 L494.4,116.9 L494.9,117.03 L495.4,118.02 L495.9,117.98 L496.4,117.85 L496.9,116.31 L497.4,117.88 L497.9,117.48 L498.4,115.47" fill="none" stroke="#8e8e8e" stroke-width="1.1" stroke-linejoin="round" style="mix-blend-mode:multiply"/><path d="M383.4,40.5 V161.3 H498.4" fill="none" stroke="#c2c2c2" stroke-width="0.8"/><text x="382" y="162.6" font-family="Liberation Sans" font-size="3.8" text-anchor="end" fill="#4a4a4a">0.2</text><text x="382" y="149.18" font-family="Liberation Sans" font-size="3.8" text-anchor="end" fill="#4a4a4a">0.3</text><text x="382" y="135.76" font-family="Liberation Sans" font-size="3.8" text-anchor="end" fill="#4a4a4a">0.4</text><text x="382" y="122.33" font-family="Liberation Sans" font-size="3.8" text-anchor="end" fill="#4a4a4a">0.5</text><text x="382" y="108.91" font-family="Liberation Sans" font-size="3.8" text-anchor="end" fill="#4a4a4a">0.6</text><text x="382" y="95.49" font-family="Liberation Sans" font-size="3.8" text-anchor="end" fill="#4a4a4a">0.7</text><text x="382" y="82.07" font-family="Liberation Sans" font-size="3.8" text-anchor="end" fill="#4a4a4a">0.8</text><text x="382" y="68.64" font-family="Liberation Sans" font-size="3.8" text-anchor="end" fill="#4a4a4a">0.9</text><text x="382" y="55.22" font-family="Liberation Sans" font-size="3.8" text-anchor="end" fill="#4a4a4a">1</text><text x="382" y="41.8" font-family="Liberation Sans" font-size="3.8" text-anchor="end" fill="#4a4a4a">1.1</text><text x="383.4" y="165.9" font-family="Liberation Sans" font-size="3.8" text-anchor="middle" fill="#4a4a4a">-0.5</text><text x="412.15" y="165.9" font-family="Liberation Sans" font-size="3.8" text-anchor="middle" fill="#4a4a4a">0</text><text x="440.9" y="165.9" font-family="Liberation Sans" font-size="3.8" text-anchor="middle" fill="#4a4a4a">0.5</text><text x="469.65" y="165.9" font-family="Liberation Sans" font-size="3.8" text-anchor="middle" fill="#4a4a4a">1</text><text x="498.4" y="165.9" font-family="Liberation Sans" font-size="3.8" text-anchor="middle" fill="#4a4a4a">1.5</text><text x="440.9" y="170.7" font-family="Liberation Sans" font-size="4.6" text-anchor="middle" fill="#3a3a3a">time points</text><text transform="translate(376,100.9) rotate(-90)" font-family="Liberation Sans" font-size="4.6" text-anchor="middle" fill="#333">auc</text><text x="440.9" y="39.2" font-family="Liberation Sans" font-weight="bold" font-size="5.5" text-anchor="middle" fill="#000">Verum_Sham</text></g>
<g><rect x="528.3" y="28.8" width="148.2" height="148.3" fill="none" stroke="#f4f4f4" stroke-width="0.7"/><line x1="547" y1="147.88" x2="662" y2="147.88" stroke="#ebebeb" stroke-width="0.6"/><line x1="547" y1="134.46" x2="662" y2="134.46" stroke="#ebebeb" stroke-width="0.6"/><line x1="547" y1="107.61" x2="662" y2="107.61" stroke="#ebebeb" stroke-width="0.6"/><line x1="547" y1="94.19" x2="662" y2="94.19" stroke="#ebebeb" stroke-width="0.6"/><line x1="547" y1="80.77" x2="662" y2="80.77" stroke="#ebebeb" stroke-width="0.6"/><line x1="547" y1="67.34" x2="662" y2="67.34" stroke="#ebebeb" stroke-width="0.6"/><line x1="547" y1="53.92" x2="662" y2="53.92" stroke="#ebebeb" stroke-width="0.6"/><line x1="604.5" y1="40.5" x2="604.5" y2="161.3" stroke="#ebebeb" stroke-width="0.6"/><line x1="633.25" y1="40.5" x2="633.25" y2="161.3" stroke="#ebebeb" stroke-width="0.6"/><line x1="575.75" y1="40.5" x2="575.75" y2="161.3" stroke="#ebebeb" stroke-width="0.6"/><line x1="547" y1="40.5" x2="662" y2="40.5" stroke="#ebebeb" stroke-width="0.6"/><line x1="662" y1="40.5" x2="662" y2="161.3" stroke="#ebebeb" stroke-width="0.6"/><polygon points="547,111.54 547.5,112.43 548,108.81 548.5,110.61 549,110.44 549.5,110.5 550,108.8 550.5,108.26 551,107.93 551.5,107 552,109.69 552.5,106.11 553,104.78 553.5,108.59 554,108.18 554.5,106.71 555,105.68 555.5,107.5 556,108.03 556.5,104 557,107.25 557.5,110.04 558,105.49 558.5,104.69 559,103.55 559.5,103.28 560,101.33 560.5,106.01 561,106.39 561.5,106.83 562,102.42 562.5,105.1 563,106.57 563.5,106.89 564,103.79 564.5,104.34 565,103.16 565.5,104.54 566,104.19 566.5,102.4 567,103.11 567.5,101.88 568,102.63 568.5,102.66 569,101.61 569.5,102.34 570,101.48 570.5,100.93 571,102.03 571.5,101.31 572,100.83 572.5,99.89 573,100.28 573.5,100.08 574,99.6 574.5,100.45 575,99.37 575.5,100.65 576,100.43 576.5,94.3 577,94.31 577.5,88.75 578,83.34 578.5,81.28 579,80.45 579.5,74.96 580,72.47 580.5,70.75 581,66.62 581.5,64.05 582,63.93 582.5,63.24 583,65.93 583.5,62.9 584,61.52 584.5,64.59 585,65.85 585.5,65.27 586,63.27 586.5,65.75 587,64.62 587.5,62.38 588,66.56 588.5,65.64 589,66.71 589.5,66.62 590,66.14 590.5,67.46 591,66.04 591.5,66.58 592,65.44 592.5,66.25 593,66.83 593.5,65.57 594,68.06 594.5,67.19 595,69.12 595.5,66.59 596,69.69 596.5,67.66 597,70.14 597.5,69.12 598,71.05 598.5,70.89 599,71.36 599.5,69.74 600,69.85 600.5,69.77 601,70.48 601.5,71.51 602,70.57 602.5,69.62 603,72.42 603.5,73.14 604,71.62 604.5,69.88 605,72.94 605.5,73.5 606,74.64 606.5,74.49 607,75.01 607.5,75.27 608,72.81 608.5,72.76 609,74.54 609.5,74.77 610,74.04 610.5,75.5 611,75.93 611.5,75.83 612,77.23 612.5,76.01 613,73.96 613.5,78.83 614,79.01 614.5,81.04 615,81.09 615.5,80.93 616,81.04 616.5,82.4 617,84.3 617.5,82.74 618,84.52 618.5,83.82 619,85.22 619.5,85.65 620,86.13 620.5,89.41 621,85.49 621.5,88.91 622,87.77 622.5,88.06 623,90.11 623.5,91.72 624,89.69 624.5,92.29 625,91.68 625.5,91.52 626,93.32 626.5,95.54 627,94.71 627.5,93.7 628,96 628.5,94.3 629,98.08 629.5,97.88 630,99.49 630.5,98.99 631,96.25 631.5,98.08 632,99.76 632.5,100.79 633,98.99 633.5,101.04 634,102.34 634.5,99.09 635,103.06 635.5,101.19 636,100.73 636.5,100.44 637,99.24 637.5,100.9 638,103.09 638.5,100.77 639,102.04 639.5,104.22 640,104.17 640.5,103.96 641,105.91 641.5,102.58 642,102.55 642.5,102.79 643,104.69 643.5,103.8 644,102.28 644.5,103.51 645,104.35 645.5,105.29 646,104.5 646.5,102.87 647,104.69 647.5,101.8 648,101.76 648.5,104.19 649,107.46 649.5,105.77 650,103.86 650.5,106.45 651,106.77 651.5,105.96 652,102.54 652.5,106.9 653,109.02 653.5,106.17 654,106.16 654.5,105.84 655,106.87 655.5,106.65 656,107.88 656.5,106.11 657,107.57 657.5,106.98 658,108.81 658.5,106.09 659,107.77 659.5,108.81 660,108.32 660.5,110 661,109.47 661.5,107.69 662,108.13 662,126.71 661.5,126.84 661,126.91 660.5,126.94 660,126.6 659.5,133.25 659,126.96 658.5,127.7 658,128.11 657.5,128.17 657,125.45 656.5,125.34 656,128.03 655.5,126.92 655,126.6 654.5,124.23 654,126.32 653.5,129.92 653,123.48 652.5,129.97 652,124.78 651.5,127.77 651,123.12 650.5,129.73 650,126.39 649.5,128.03 649,125.45 648.5,130.25 648,126.8 647.5,128.2 647,126.19 646.5,129.45 646,133.14 645.5,131.84 645,134.33 644.5,128.18 644,125.22 643.5,126.72 643,127.03 642.5,129.79 642,126.7 641.5,126.6 641,128.07 640.5,127.57 640,132.26 639.5,126.3 639,126.65 638.5,132.84 638,126.94 637.5,126.03 637,122.73 636.5,123.87 636,123.47 635.5,126.15 635,124.18 634.5,122.75 634,123.88 633.5,122.36 633,123.23 632.5,121.81 632,124.98 631.5,123.2 631,123.03 630.5,122.06 630,121.57 629.5,119.97 629,120.15 628.5,121.21 628,121.1 627.5,123.54 627,117.85 626.5,114.1 626,115.34 625.5,116.79 625,112 624.5,114.35 624,116 623.5,111.95 623,117.25 622.5,114.48 622,112.38 621.5,111.64 621,111.19 620.5,113.88 620,110.22 619.5,108.95 619,108.69 618.5,109.6 618,107.67 617.5,107.32 617,107.43 616.5,109.28 616,106.27 615.5,105.92 615,105.57 614.5,105.22 614,104.87 613.5,104.52 613,104.17 612.5,103.82 612,106.46 611.5,103.12 611,102.77 610.5,102.42 610,102.01 609.5,101.54 609,101.08 608.5,100.61 608,100.14 607.5,99.67 607,100.82 606.5,98.74 606,98.6 605.5,101.77 605,99.27 604.5,103.72 604,98.59 603.5,98.28 603,101.37 602.5,98.86 602,97.78 601.5,98.39 601,97.02 600.5,95.4 600,92.67 599.5,93.99 599,98.88 598.5,92.08 598,95.82 597.5,96.82 597,92.41 596.5,89.59 596,90.23 595.5,91.79 595,92.22 594.5,88.37 594,87.81 593.5,88.62 593,87.95 592.5,90.57 592,86.54 591.5,91.04 591,91.26 590.5,86.18 590,88.89 589.5,89.31 589,86.04 588.5,85 588,88.68 587.5,88.75 587,84.79 586.5,85.44 586,90.05 585.5,86.88 585,87.03 584.5,83.16 584,89.21 583.5,86.05 583,87.07 582.5,83.81 582,89.63 581.5,91.79 581,92.52 580.5,102.46 580,105.54 579.5,106.41 579,108.36 578.5,110.61 578,110.05 577.5,115.41 577,116.28 576.5,117.73 576,117.3 575.5,118.86 575,117.48 574.5,118.06 574,121.04 573.5,123.66 573,124.54 572.5,120.93 572,124.23 571.5,128.41 571,126.56 570.5,125.56 570,128.28 569.5,131.61 569,131.17 568.5,124.7 568,127.05 567.5,132.55 567,130.16 566.5,127.79 566,130.38 565.5,131.35 565,131.87 564.5,131.64 564,131.81 563.5,131.47 563,132.1 562.5,132.9 562,130.4 561.5,133.15 561,134.03 560.5,131.14 560,137.9 559.5,130.94 559,130.9 558.5,131.32 558,132.21 557.5,131.75 557,133.98 556.5,136.94 556,135.48 555.5,136.67 555,134.06 554.5,133.92 554,132.54 553.5,131.5 553,133.14 552.5,135.31 552,130.88 551.5,130.69 551,132.6 550.5,129.08 550,135.47 549.5,132.28 549,136.9 548.5,131.97 548,132.53 547.5,136.37 547,133.02" fill="#f5f5f5" fill-opacity="1"/><polygon points="547,108.89 547.5,106.78 548,106.9 548.5,110.94 549,108.57 549.5,106.83 550,109.08 550.5,108.35 551,109.53 551.5,110.39 552,108.39 552.5,109.17 553,108.78 553.5,110.65 554,110.2 554.5,108.66 555,109.1 555.5,107.61 556,109.95 556.5,107.32 557,107.5 557.5,108.18 558,107.34 558.5,108.39 559,108.53 559.5,108.25 560,110.05 560.5,108.21 561,106.95 561.5,110.39 562,106.66 562.5,108.26 563,107.51 563.5,106.5 564,105.92 564.5,103.92 565,105.8 565.5,102.71 566,104.82 566.5,103.81 567,103.18 567.5,104.68 568,104.82 568.5,102.49 569,101.1 569.5,100.33 570,101.6 570.5,97.95 571,100.2 571.5,100.48 572,97.24 572.5,96.51 573,98.92 573.5,95.5 574,97.8 574.5,95.08 575,91 575.5,91.65 576,91.72 576.5,91.01 577,92.4 577.5,89.71 578,84.86 578.5,82.37 579,75.87 579.5,70.69 580,66.51 580.5,61.94 581,59.65 581.5,57.7 582,56.74 582.5,63.78 583,62.3 583.5,58.27 584,55.89 584.5,56.56 585,59.36 585.5,53.74 586,55.23 586.5,56.62 587,55.55 587.5,56.17 588,59.05 588.5,59.52 589,56.4 589.5,61.63 590,57.68 590.5,58.42 591,57.75 591.5,56.95 592,57.86 592.5,57.85 593,59.25 593.5,60.03 594,59.51 594.5,61.41 595,62.98 595.5,61.99 596,64.48 596.5,63.18 597,59.57 597.5,62.09 598,63.36 598.5,64.23 599,66.21 599.5,64.63 600,65.23 600.5,64.34 601,64.47 601.5,64.93 602,67.89 602.5,63.19 603,64.93 603.5,65.87 604,66.67 604.5,65.84 605,64.96 605.5,66.2 606,69.11 606.5,69.55 607,71.49 607.5,68.13 608,67.56 608.5,67.13 609,69.03 609.5,68.33 610,71.19 610.5,69.37 611,70.63 611.5,71.8 612,73.93 612.5,70.38 613,76.03 613.5,72.42 614,75.15 614.5,73.7 615,76.04 615.5,74.75 616,76.81 616.5,78.66 617,78.51 617.5,80.75 618,78.6 618.5,78 619,79.42 619.5,80.38 620,79.13 620.5,83.26 621,81.22 621.5,82.52 622,83.73 622.5,82.73 623,85.73 623.5,84.73 624,84.54 624.5,87.26 625,86.38 625.5,85.76 626,85.63 626.5,88.93 627,86.89 627.5,89.37 628,89.51 628.5,91.17 629,89.92 629.5,92.83 630,92.09 630.5,92.66 631,92.82 631.5,96.18 632,94.22 632.5,96.03 633,94.65 633.5,97.83 634,98.51 634.5,98.11 635,98.84 635.5,98.98 636,100.95 636.5,102.5 637,101.95 637.5,101 638,99.85 638.5,101.29 639,102.6 639.5,101.76 640,101.79 640.5,98.16 641,100.69 641.5,102.65 642,105.36 642.5,103.55 643,103.82 643.5,102.63 644,100.39 644.5,103.7 645,106.59 645.5,103.93 646,106.31 646.5,102.67 647,102.36 647.5,103.57 648,106.34 648.5,104.48 649,102.51 649.5,105.86 650,105.33 650.5,104.15 651,103.82 651.5,104.47 652,104.11 652.5,104.34 653,105.53 653.5,104.82 654,104.31 654.5,106.37 655,104.5 655.5,104.67 656,104.16 656.5,104.36 657,106.45 657.5,106.79 658,104.59 658.5,105.21 659,104.87 659.5,105.88 660,106.97 660.5,104.71 661,105.33 661.5,104.26 662,103.58 662,126.3 661.5,127.17 661,123.46 660.5,122.96 660,124.02 659.5,125.25 659,123.45 658.5,123.01 658,125.43 657.5,126.13 657,126.25 656.5,122.83 656,120.66 655.5,125.27 655,123.04 654.5,124.54 654,126.93 653.5,124 653,125.15 652.5,126.46 652,125.01 651.5,122.41 651,122.62 650.5,122.09 650,123.03 649.5,125.77 649,125.2 648.5,122.41 648,124.44 647.5,124.29 647,124.91 646.5,124.61 646,122.16 645.5,124.56 645,127.12 644.5,123.56 644,122.69 643.5,124.63 643,123.57 642.5,121.78 642,124.15 641.5,119.81 641,121.3 640.5,124.63 640,120.36 639.5,120.72 639,121.1 638.5,120.99 638,118.3 637.5,120.66 637,119.77 636.5,119.65 636,120.97 635.5,119.57 635,118.17 634.5,117.41 634,114.79 633.5,116.46 633,117.6 632.5,115.68 632,114.28 631.5,115.94 631,115.27 630.5,115.08 630,112.23 629.5,112.31 629,114.18 628.5,111.21 628,113.3 627.5,111.73 627,110.09 626.5,108.52 626,108.31 625.5,107.11 625,107.45 624.5,109.04 624,110.61 623.5,109.98 623,103.31 622.5,106.33 622,104.77 621.5,103.94 621,100.88 620.5,101.95 620,102.79 619.5,102.32 619,100 618.5,100.31 618,97.99 617.5,99.28 617,96.98 616.5,99.11 616,92.1 615.5,93.5 615,93.68 614.5,96.17 614,91.24 613.5,94.04 613,90.24 612.5,92.92 612,94.99 611.5,93.92 611,91.11 610.5,92.36 610,91.82 609.5,89.57 609,93.26 608.5,90.4 608,92.04 607.5,90.49 607,88.7 606.5,85.91 606,87.46 605.5,90.42 605,87.96 604.5,86.84 604,87.92 603.5,87.75 603,89.55 602.5,88.68 602,87.31 601.5,87.48 601,86.05 600.5,88.23 600,85.08 599.5,89.51 599,85.65 598.5,84.98 598,85.54 597.5,85.75 597,82.61 596.5,85.3 596,83.76 595.5,84.19 595,81.91 594.5,85.34 594,83.49 593.5,80.72 593,82.17 592.5,83.83 592,81.7 591.5,82.02 591,79.51 590.5,82.1 590,80.62 589.5,83.44 589,82.78 588.5,78.79 588,80.38 587.5,81.34 587,82.62 586.5,79.86 586,80.33 585.5,81.43 585,83.2 584.5,83.72 584,80.14 583.5,83.25 583,81.51 582.5,83.64 582,84.98 581.5,89.54 581,94.75 580.5,97.23 580,95.69 579.5,98.91 579,103 578.5,104.15 578,103.47 577.5,107.18 577,107.45 576.5,109.25 576,111.53 575.5,110.64 575,108.8 574.5,113.8 574,112.63 573.5,114.16 573,114.76 572.5,116.39 572,114.32 571.5,116.31 571,115.66 570.5,115.32 570,117.33 569.5,122.11 569,118.89 568.5,117.37 568,124.77 567.5,121.11 567,123.66 566.5,120.16 566,123.91 565.5,124.24 565,123.81 564.5,123.17 564,125.22 563.5,126.56 563,128.77 562.5,125.64 562,126.58 561.5,127.18 561,130.28 560.5,127.54 560,127.23 559.5,129.12 559,130.26 558.5,123.37 558,129.73 557.5,124.59 557,131.28 556.5,128.38 556,125.95 555.5,130.28 555,126.32 554.5,129.26 554,129.23 553.5,124.49 553,126.38 552.5,123.59 552,126.37 551.5,126.73 551,131.17 550.5,127.26 550,130.74 549.5,130.59 549,129.59 548.5,132.24 548,130.28 547.5,126.92 547,126.78" fill="#d2e2ee" fill-opacity="1"/><line x1="547" y1="121.03" x2="662" y2="121.03" stroke="#bdbdbd" stroke-width="0.55" stroke-dasharray="2.6,0.9"/><line x1="575.75" y1="134.46" x2="575.75" y2="40.5" stroke="#adadad" stroke-width="0.6" stroke-dasharray="3.5,0.7"/><path d="M547,117.26 L547.5,123.51 L548,118.42 L548.5,119.27 L549,118.24 L549.5,119.33 L550,117.65 L550.5,120.46 L551,120.18 L551.5,119.59 L552,119.02 L552.5,119.71 L553,120.11 L553.5,118.06 L554,118.02 L554.5,119.32 L555,118.57 L555.5,120.47 L556,116.51 L556.5,118.16 L557,116.36 L557.5,116.5 L558,116.55 L558.5,115.68 L559,117.73 L559.5,115.6 L560,117.73 L560.5,115.41 L561,117.75 L561.5,116.07 L562,116.86 L562.5,116.81 L563,115.93 L563.5,116.32 L564,116.45 L564.5,115.34 L565,113.02 L565.5,116.05 L566,115.32 L566.5,112.95 L567,114.58 L567.5,113.85 L568,113.16 L568.5,110.29 L569,111.17 L569.5,110.56 L570,109.16 L570.5,109.25 L571,107.2 L571.5,105.74 L572,105.71 L572.5,104.49 L573,105.06 L573.5,102.25 L574,101.96 L574.5,100.82 L575,101.57 L575.5,98.86 L576,99.54 L576.5,98.43 L577,98.02 L577.5,95.76 L578,95.71 L578.5,94.53 L579,91.57 L579.5,84.84 L580,75.13 L580.5,73.98 L581,70.69 L581.5,69.12 L582,68.92 L582.5,67.22 L583,63.94 L583.5,65.84 L584,66.5 L584.5,64.23 L585,65.85 L585.5,66.08 L586,67.44 L586.5,68.12 L587,67.44 L587.5,70.36 L588,71.59 L588.5,68.86 L589,70.51 L589.5,71.65 L590,71.58 L590.5,72.34 L591,72.94 L591.5,72.43 L592,69.38 L592.5,71.21 L593,71.47 L593.5,73.16 L594,74.59 L594.5,72.23 L595,76.02 L595.5,75.03 L596,77.42 L596.5,76.08 L597,75.68 L597.5,78.43 L598,80.26 L598.5,79.05 L599,79.67 L599.5,80.46 L600,78.11 L600.5,81.34 L601,80.68 L601.5,82.42 L602,81.36 L602.5,81.71 L603,82.38 L603.5,82.12 L604,82.48 L604.5,84.03 L605,84.4 L605.5,84.13 L606,82.37 L606.5,83.86 L607,84.12 L607.5,82.57 L608,79.62 L608.5,82.3 L609,81.69 L609.5,81.91 L610,83.06 L610.5,84.37 L611,83.61 L611.5,84.05 L612,85.34 L612.5,81.8 L613,84.31 L613.5,86.26 L614,86.68 L614.5,88.32 L615,87.43 L615.5,90.53 L616,90.82 L616.5,92.73 L617,91.45 L617.5,90.17 L618,95.24 L618.5,93.61 L619,95.49 L619.5,94.2 L620,94.09 L620.5,94.78 L621,96.49 L621.5,95.93 L622,96.23 L622.5,96.34 L623,94.81 L623.5,97.21 L624,98.19 L624.5,97.69 L625,93.91 L625.5,97.33 L626,98.28 L626.5,97.82 L627,100.9 L627.5,103.7 L628,103.82 L628.5,103.28 L629,102.3 L629.5,100.11 L630,104.82 L630.5,102.44 L631,105.12 L631.5,102.65 L632,104 L632.5,103.78 L633,104.68 L633.5,104.67 L634,106.81 L634.5,106.22 L635,106.16 L635.5,107.34 L636,105.09 L636.5,107.12 L637,108.26 L637.5,107.62 L638,110.21 L638.5,110.52 L639,113.46 L639.5,110.46 L640,111.47 L640.5,111.15 L641,112.02 L641.5,113.09 L642,109.95 L642.5,112.31 L643,113.73 L643.5,112.45 L644,110.72 L644.5,114.25 L645,115.63 L645.5,114.23 L646,113.35 L646.5,111.19 L647,112.28 L647.5,112.55 L648,113.29 L648.5,112.41 L649,112.58 L649.5,112.07 L650,111.67 L650.5,111.65 L651,109.68 L651.5,113.01 L652,111.16 L652.5,111.51 L653,110.05 L653.5,111.66 L654,111.21 L654.5,110.59 L655,111.02 L655.5,109.53 L656,112.96 L656.5,110.87 L657,111.34 L657.5,109.95 L658,109.21 L658.5,111.27 L659,110.53 L659.5,115.14 L660,114.65 L660.5,112.74 L661,114.43 L661.5,113.25 L662,110.4" fill="none" stroke="#9cc0de" stroke-width="0.5"/><path d="M552.5,119.71 L553,120.11 L553.5,118.06 L554,118.02 L554.5,119.32 L555,118.57 L555.5,120.47 L556,116.51 L556.5,118.16 L557,116.36 L557.5,116.5 L558,116.55 L558.5,115.68 L559,117.73 L559.5,115.6 L560,117.73 L560.5,115.41 L561,117.75 L561.5,116.07 L562,116.86 L562.5,116.81 L563,115.93 L563.5,116.32 L564,116.45 L564.5,115.34 L565,113.02 L565.5,116.05 L566,115.32 L566.5,112.95 L567,114.58 L567.5,113.85 L568,113.16 L568.5,110.29 L569,111.17 L569.5,110.56 L570,109.16 L570.5,109.25 L571,107.2 L571.5,105.74 L572,105.71 L572.5,104.49 L573,105.06 L573.5,102.25 L574,101.96 L574.5,100.82 L575,101.57 L575.5,98.86 L576,99.54 L576.5,98.43 L577,98.02 L577.5,95.76 L578,95.71 L578.5,94.53 L579,91.57 L579.5,84.84 L580,75.13 L580.5,73.98 L581,70.69 L581.5,69.12 L582,68.92 L582.5,67.22 L583,63.94 L583.5,65.84 L584,66.5 L584.5,64.23 L585,65.85 L585.5,66.08 L586,67.44 L586.5,68.12 L587,67.44 L587.5,70.36 L588,71.59 L588.5,68.86 L589,70.51 L589.5,71.65 L590,71.58 L590.5,72.34 L591,72.94 L591.5,72.43 L592,69.38 L592.5,71.21 L593,71.47 L593.5,73.16 L594,74.59 L594.5,72.23 L595,76.02 L595.5,75.03 L596,77.42 L596.5,76.08 L597,75.68 L597.5,78.43 L598,80.26 L598.5,79.05 L599,79.67 L599.5,80.46 L600,78.11 L600.5,81.34 L601,80.68 L601.5,82.42 L602,81.36 L602.5,81.71 L603,82.38 L603.5,82.12 L604,82.48 L604.5,84.03 L605,84.4 L605.5,84.13 L606,82.37 L606.5,83.86 L607,84.12 L607.5,82.57 L608,79.62 L608.5,82.3 L609,81.69 L609.5,81.91 L610,83.06 L610.5,84.37 L611,83.61 L611.5,84.05 L612,85.34 L612.5,81.8 L613,84.31 L613.5,86.26 L614,86.68 L614.5,88.32 L615,87.43 L615.5,90.53 L616,90.82 L616.5,92.73 L617,91.45 L617.5,90.17 L618,95.24 L618.5,93.61 L619,95.49 L619.5,94.2 L620,94.09 L620.5,94.78 L621,96.49 L621.5,95.93 L622,96.23 L622.5,96.34 L623,94.81 L623.5,97.21 L624,98.19 L624.5,97.69 L625,93.91 L625.5,97.33 L626,98.28 L626.5,97.82 L627,100.9 L627.5,103.7 L628,103.82 L628.5,103.28 L629,102.3 L629.5,100.11 L630,104.82 L630.5,102.44 L631,105.12 L631.5,102.65 L632,104 L632.5,103.78 L633,104.68 L633.5,104.67 L634,106.81 L634.5,106.22 L635,106.16 L635.5,107.34 L636,105.09 L636.5,107.12 L637,108.26 L637.5,107.62 L638,110.21 L638.5,110.52 L639,113.46 L639.5,110.46 L640,111.47 L640.5,111.15 L641,112.02 L641.5,113.09 L642,109.95 L642.5,112.31 L643,113.73 L643.5,112.45 L644,110.72 L644.5,114.25 L645,115.63 L645.5,114.23 L646,113.35 L646.5,111.19 L647,112.28 L647.5,112.55 L648,113.29 L648.5,112.41 L649,112.58 L649.5,112.07 L650,111.67 L650.5,111.65 L651,109.68 L651.5,113.01 L652,111.16 L652.5,111.51 L653,110.05 L653.5,111.66 L654,111.21 L654.5,110.59 L655,111.02 L655.5,109.53 L656,112.96 L656.5,110.87 L657,111.34 L657.5,109.95 L658,109.21 L658.5,111.27 L659,110.53 L659.5,115.14 L660,114.65 L660.5,112.74 L661,114.43 L661.5,113.25 L662,110.4" fill="none" stroke="#74acdb" stroke-width="1.3" stroke-linejoin="round" style="mix-blend-mode:multiply"/><path d="M557.5,120.07 L558,117.53 L558.5,118.63 L559,118.49 L559.5,118.59 L560,120.37 L560.5,119.22 L561,122.07 L561.5,119.33 L562,118.26 L562.5,119.14 L563,120.19 L563.5,119.1 L564,118.93 L564.5,117.39 L565,117.68 L565.5,116.67 L566,117.25 L566.5,116.01 L567,117.75 L567.5,116.33 L568,115.17 L568.5,112.77 L569,114.71 L569.5,114.43 L570,115.15 L570.5,112.5 L571,113.41 L571.5,110.5 L572,111.16 L572.5,109.19 L573,110.48 L573.5,109.16 L574,107.45 L574.5,106.25 L575,105.38 L575.5,105.33 L576,105.07 L576.5,103.44 L577,102.92 L577.5,99.6 L578,98.54 L578.5,97.64 L579,95.93 L579.5,90.82 L580,86.08 L580.5,84.19 L581,78.1 L581.5,78.03 L582,74.91 L582.5,72.32 L583,70.84 L583.5,72.58 L584,73.56 L584.5,71.11 L585,72.81 L585.5,73.33 L586,73.39 L586.5,72.98 L587,72.36 L587.5,75.52 L588,75.28 L588.5,72.38 L589,71.48 L589.5,74 L590,75.93 L590.5,74.44 L591,76.2 L591.5,76.44 L592,74.21 L592.5,75.69 L593,74.44 L593.5,75.36 L594,75.3 L594.5,74.98 L595,78.49 L595.5,77.57 L596,77.87 L596.5,76.85 L597,77.48 L597.5,78.49 L598,79.42 L598.5,79.54 L599,81.33 L599.5,81.5 L600,79.54 L600.5,82.72 L601,81.75 L601.5,83.42 L602,83 L602.5,84.21 L603,85.78 L603.5,85.65 L604,84.1 L604.5,87.05 L605,87.53 L605.5,87.49 L606,85.71 L606.5,86.24 L607,85.63 L607.5,85.14 L608,82.95 L608.5,85.38 L609,85.14 L609.5,86.06 L610,85.93 L610.5,87.33 L611,86.67 L611.5,87.65 L612,90.25 L612.5,85.94 L613,86.22 L613.5,90 L614,89.41 L614.5,90.79 L615,90.33 L615.5,92.34 L616,91.85 L616.5,93.91 L617,92.63 L617.5,91.87 L618,94.7 L618.5,95.03 L619,95.63 L619.5,95.82 L620,96.84 L620.5,97 L621,99.18 L621.5,99.41 L622,99.25 L622.5,101.65 L623,99.96 L623.5,100.12 L624,102.32 L624.5,101.69 L625,98.28 L625.5,101.07 L626,102.5 L626.5,101.13 L627,104.91 L627.5,106.88 L628,106.97 L628.5,106.91 L629,105.81 L629.5,106.3 L630,107.86 L630.5,107.3 L631,108.85 L631.5,107.61 L632,108.5 L632.5,109.3 L633,109.53 L633.5,108.45 L634,110.8 L634.5,110.54 L635,109.7 L635.5,110.61 L636,110.63 L636.5,110.86 L637,110.98 L637.5,110.44 L638,112.82 L638.5,115.38 L639,114.79 L639.5,113.02 L640,113.37 L640.5,112.93 L641,114.43 L641.5,114.07 L642,113.08 L642.5,114.23 L643,115.11 L643.5,114.8 L644,112.64 L644.5,116.27 L645,116.87 L645.5,115.92 L646,115.49 L646.5,113.5 L647,114.47 L647.5,113.93 L648,113.69 L648.5,114.36 L649,112.82 L649.5,114.78 L650,113.31 L650.5,115.06 L651,111.05 L651.5,114.82 L652,112.47 L652.5,112.59 L653,111.4 L653.5,112.5 L654,112.38 L654.5,111.53 L655,112.27 L655.5,111.64 L656,112.64 L656.5,111.26 L657,112.88 L657.5,112.37 L658,112.97 L658.5,112.53 L659,113.23 L659.5,116.4 L660,114.82 L660.5,113.4 L661,114.94 L661.5,114.45 L662,112.85" fill="none" stroke="#8e8e8e" stroke-width="1.1" stroke-linejoin="round" style="mix-blend-mode:multiply"/><path d="M547,40.5 V161.3 H662" fill="none" stroke="#c2c2c2" stroke-width="0.8"/><text x="545.6" y="162.6" font-family="Liberation Sans" font-size="3.8" text-anchor="end" fill="#4a4a4a">0.2</text><text x="545.6" y="149.18" font-family="Liberation Sans" font-size="3.8" text-anchor="end" fill="#4a4a4a">0.3</text><text x="545.6" y="135.76" font-family="Liberation Sans" font-size="3.8" text-anchor="end" fill="#4a4a4a">0.4</text><text x="545.6" y="122.33" font-family="Liberation Sans" font-size="3.8" text-anchor="end" fill="#4a4a4a">0.5</text><text x="545.6" y="108.91" font-family="Liberation Sans" font-size="3.8" text-anchor="end" fill="#4a4a4a">0.6</text><text x="545.6" y="95.49" font-family="Liberation Sans" font-size="3.8" text-anchor="end" fill="#4a4a4a">0.7</text><text x="545.6" y="82.07" font-family="Liberation Sans" font-size="3.8" text-anchor="end" fill="#4a4a4a">0.8</text><text x="545.6" y="68.64" font-family="Liberation Sans" font-size="3.8" text-anchor="end" fill="#4a4a4a">0.9</text><text x="545.6" y="55.22" font-family="Liberation Sans" font-size="3.8" text-anchor="end" fill="#4a4a4a">1</text><text x="545.6" y="41.8" font-family="Liberation Sans" font-size="3.8" text-anchor="end" fill="#4a4a4a">1.1</text><text x="547" y="165.9" font-family="Liberation Sans" font-size="3.8" text-anchor="middle" fill="#4a4a4a">-0.5</text><text x="575.75" y="165.9" font-family="Liberation Sans" font-size="3.8" text-anchor="middle" fill="#4a4a4a">0</text><text x="604.5" y="165.9" font-family="Liberation Sans" font-size="3.8" text-anchor="middle" fill="#4a4a4a">0.5</text><text x="633.25" y="165.9" font-family="Liberation Sans" font-size="3.8" text-anchor="middle" fill="#4a4a4a">1</text><text x="662" y="165.9" font-family="Liberation Sans" font-size="3.8" text-anchor="middle" fill="#4a4a4a">1.5</text><text x="604.5" y="170.7" font-family="Liberation Sans" font-size="4.6" text-anchor="middle" fill="#3a3a3a">time points</text><text transform="translate(539.6,100.9) rotate(-90)" font-family="Liberation Sans" font-size="4.6" text-anchor="middle" fill="#333">auc</text><text x="604.5" y="39.2" font-family="Liberation Sans" font-weight="bold" font-size="5.5" text-anchor="middle" fill="#000">Verum_Sham</text></g>
<g><rect x="37.7" y="192.3" width="148.2" height="149.7" fill="none" stroke="#f4f4f4" stroke-width="0.7"/><line x1="56.4" y1="311.56" x2="171.4" y2="311.56" stroke="#ebebeb" stroke-width="0.6"/><line x1="56.4" y1="298.11" x2="171.4" y2="298.11" stroke="#ebebeb" stroke-width="0.6"/><line x1="56.4" y1="271.22" x2="171.4" y2="271.22" stroke="#ebebeb" stroke-width="0.6"/><line x1="56.4" y1="257.78" x2="171.4" y2="257.78" stroke="#ebebeb" stroke-width="0.6"/><line x1="56.4" y1="244.33" x2="171.4" y2="244.33" stroke="#ebebeb" stroke-width="0.6"/><line x1="56.4" y1="230.89" x2="171.4" y2="230.89" stroke="#ebebeb" stroke-width="0.6"/><line x1="56.4" y1="217.44" x2="171.4" y2="217.44" stroke="#ebebeb" stroke-width="0.6"/><line x1="113.9" y1="204" x2="113.9" y2="325" stroke="#ebebeb" stroke-width="0.6"/><line x1="142.65" y1="204" x2="142.65" y2="325" stroke="#ebebeb" stroke-width="0.6"/><line x1="85.15" y1="204" x2="85.15" y2="325" stroke="#ebebeb" stroke-width="0.6"/><line x1="56.4" y1="204" x2="171.4" y2="204" stroke="#ebebeb" stroke-width="0.6"/><line x1="171.4" y1="204" x2="171.4" y2="325" stroke="#ebebeb" stroke-width="0.6"/><polygon points="56.4,272.86 56.9,269.84 57.4,272.71 57.9,269.57 58.4,271.67 58.9,273.39 59.4,271.1 59.9,270.3 60.4,270.61 60.9,272.4 61.4,272.79 61.9,270.16 62.4,268.72 62.9,268.76 63.4,271.39 63.9,271.1 64.4,270.32 64.9,269.12 65.4,269.86 65.9,269.75 66.4,270.18 66.9,273.5 67.4,271.54 67.9,269.63 68.4,271.73 68.9,266.92 69.4,270.51 69.9,268.47 70.4,268.01 70.9,267.62 71.4,270.5 71.9,269.12 72.4,266.76 72.9,268.54 73.4,267.44 73.9,271.6 74.4,267.78 74.9,267.97 75.4,268.23 75.9,270.27 76.4,268.8 76.9,268.08 77.4,268.11 77.9,268.94 78.4,265.95 78.9,266.01 79.4,267.6 79.9,265.11 80.4,268.46 80.9,266.38 81.4,264.52 81.9,265.79 82.4,266.63 82.9,265.66 83.4,266.34 83.9,266.79 84.4,266.99 84.9,265.83 85.4,264.47 85.9,260.82 86.4,259.3 86.9,254.8 87.4,250.88 87.9,249.89 88.4,243.97 88.9,243.99 89.4,240.95 89.9,237.77 90.4,235.54 90.9,232.94 91.4,232.74 91.9,231.83 92.4,232.87 92.9,230.15 93.4,232.65 93.9,233.23 94.4,233.73 94.9,232.67 95.4,233.43 95.9,233.41 96.4,233.04 96.9,232.4 97.4,235.87 97.9,234.06 98.4,235.19 98.9,235.21 99.4,236.59 99.9,235.31 100.4,235.61 100.9,236.23 101.4,238 101.9,236.38 102.4,238.82 102.9,239.84 103.4,237.08 103.9,238.56 104.4,240.74 104.9,239.86 105.4,239.2 105.9,238.23 106.4,240.06 106.9,241.09 107.4,241.68 107.9,242.34 108.4,241.02 108.9,242.14 109.4,240.6 109.9,242.6 110.4,240.57 110.9,242.51 111.4,242.46 111.9,242.92 112.4,243.23 112.9,241.22 113.4,244.51 113.9,244.52 114.4,244.44 114.9,243.55 115.4,245.96 115.9,243.08 116.4,246.47 116.9,246.22 117.4,245.65 117.9,245.84 118.4,247.52 118.9,245.45 119.4,244.49 119.9,247.26 120.4,246.72 120.9,247.21 121.4,245.28 121.9,248.79 122.4,248.96 122.9,250.34 123.4,250 123.9,251.26 124.4,251.84 124.9,252.16 125.4,251.15 125.9,253.2 126.4,252.16 126.9,253.91 127.4,252.68 127.9,256.21 128.4,256.59 128.9,254.81 129.4,254.14 129.9,257.14 130.4,259.72 130.9,256.04 131.4,257.33 131.9,259.36 132.4,257.07 132.9,257.6 133.4,260.6 133.9,260.79 134.4,259.89 134.9,260.35 135.4,259.92 135.9,261.52 136.4,260.09 136.9,263.6 137.4,264.74 137.9,264.86 138.4,265.52 138.9,265.18 139.4,266.56 139.9,264.93 140.4,264.88 140.9,264.79 141.4,268.02 141.9,269.49 142.4,268.83 142.9,268.52 143.4,269.26 143.9,268.09 144.4,268.1 144.9,268.35 145.4,269.98 145.9,267.82 146.4,270.08 146.9,272.18 147.4,269.33 147.9,267.68 148.4,269.3 148.9,271.44 149.4,269.89 149.9,268.01 150.4,269.35 150.9,269.78 151.4,271.25 151.9,269.82 152.4,270.66 152.9,267.92 153.4,269.49 153.9,268.88 154.4,272.06 154.9,270.04 155.4,269.03 155.9,267.93 156.4,268.49 156.9,271.23 157.4,266.52 157.9,270.5 158.4,270.71 158.9,270.78 159.4,271.85 159.9,270.91 160.4,271.39 160.9,271.16 161.4,271.51 161.9,271.01 162.4,269.83 162.9,271.66 163.4,272.33 163.9,270.13 164.4,270.96 164.9,270.07 165.4,272.18 165.9,271.19 166.4,272.16 166.9,272.85 167.4,271.84 167.9,271.41 168.4,270.91 168.9,272.88 169.4,270.44 169.9,270.07 170.4,271.07 170.9,272.08 171.4,272.67 171.4,295.77 170.9,296.86 170.4,302.35 169.9,300.96 169.4,299.34 168.9,298.15 168.4,297.66 167.9,297.19 167.4,302.94 166.9,299.84 166.4,296.85 165.9,299.82 165.4,296.82 164.9,295.69 164.4,296.55 163.9,299.54 163.4,297.92 162.9,298.04 162.4,300.72 161.9,297.99 161.4,296.56 160.9,299.87 160.4,295.6 159.9,297.28 159.4,301.12 158.9,296.12 158.4,300.49 157.9,298.05 157.4,297.79 156.9,294.91 156.4,295.48 155.9,296.91 155.4,292.78 154.9,297.94 154.4,296.65 153.9,297.13 153.4,296.2 152.9,296.44 152.4,296.46 151.9,298.72 151.4,297.34 150.9,299.45 150.4,298.6 149.9,297.41 149.4,299.17 148.9,295.69 148.4,299.23 147.9,294.21 147.4,295.18 146.9,298.04 146.4,300.05 145.9,294.93 145.4,299.39 144.9,294.37 144.4,298.4 143.9,297.3 143.4,294.6 142.9,297.83 142.4,296.07 141.9,294.18 141.4,293.75 140.9,296.92 140.4,296.74 139.9,296.55 139.4,294.98 138.9,299.57 138.4,294.03 137.9,294.89 137.4,292.06 136.9,293.73 136.4,296.46 135.9,293.07 135.4,293.44 134.9,292.72 134.4,298.51 133.9,290.25 133.4,292.84 132.9,289.52 132.4,293.51 131.9,289.13 131.4,290.06 130.9,290.65 130.4,289.35 129.9,290.51 129.4,287.67 128.9,288.98 128.4,289.26 127.9,288.63 127.4,288.64 126.9,288.77 126.4,286.3 125.9,284.55 125.4,293.16 124.9,282.08 124.4,288.55 123.9,278.46 123.4,279.03 122.9,281.5 122.4,277.26 121.9,276.45 121.4,275.98 120.9,274.7 120.4,274.75 119.9,274.4 119.4,276.32 118.9,277.38 118.4,278.54 117.9,275.44 117.4,281.71 116.9,279.12 116.4,277.9 115.9,279.63 115.4,276.94 114.9,280.17 114.4,278.34 113.9,280.95 113.4,281.95 112.9,279.11 112.4,278.66 111.9,278.51 111.4,274.66 110.9,283.86 110.4,274.22 109.9,277.71 109.4,271.59 108.9,271.43 108.4,270.44 107.9,270.44 107.4,271.45 106.9,271.41 106.4,267.27 105.9,267.56 105.4,269.46 104.9,266.8 104.4,265.22 103.9,269.78 103.4,268.22 102.9,268.72 102.4,264.96 101.9,266.64 101.4,269.39 100.9,260.67 100.4,263.14 99.9,263.1 99.4,259.11 98.9,263.36 98.4,257.9 97.9,264 97.4,257.53 96.9,259.06 96.4,258.32 95.9,256.61 95.4,258.77 94.9,257.57 94.4,255.19 93.9,255.44 93.4,258.19 92.9,254.89 92.4,254.49 91.9,253.88 91.4,256.41 90.9,257.53 90.4,260.76 89.9,271.88 89.4,279.56 88.9,283.67 88.4,283.63 87.9,281.66 87.4,286.42 86.9,287.35 86.4,290.85 85.9,287.19 85.4,290.16 84.9,291.82 84.4,292.93 83.9,291.86 83.4,297.87 82.9,293.81 82.4,294.18 81.9,295.53 81.4,296.2 80.9,292.17 80.4,294.33 79.9,297.65 79.4,296.73 78.9,296.98 78.4,298.32 77.9,297.09 77.4,298.78 76.9,298.3 76.4,299.06 75.9,295.96 75.4,296.54 74.9,296.46 74.4,299.13 73.9,296.39 73.4,303.84 72.9,296.8 72.4,300.05 71.9,301.39 71.4,296.85 70.9,299.17 70.4,300.33 69.9,299.4 69.4,298.5 68.9,298.44 68.4,303 67.9,297.59 67.4,299.06 66.9,298.96 66.4,298.59 65.9,306.66 65.4,302.8 64.9,300.74 64.4,300.02 63.9,298.03 63.4,299.89 62.9,296.56 62.4,298.64 61.9,300.07 61.4,296.68 60.9,299.58 60.4,299.41 59.9,299.81 59.4,303.24 58.9,297.5 58.4,304.94 57.9,306.7 57.4,302.04 56.9,302.25 56.4,298.63" fill="#f3f3f3" fill-opacity="1"/><polygon points="56.4,274.1 56.9,273.85 57.4,272.17 57.9,273.96 58.4,271.83 58.9,270.93 59.4,272.71 59.9,270.15 60.4,268.17 60.9,270.92 61.4,270.12 61.9,271.03 62.4,271.09 62.9,271.92 63.4,273.11 63.9,269.7 64.4,268.62 64.9,270.85 65.4,270.52 65.9,273.43 66.4,271.14 66.9,270.02 67.4,270.79 67.9,270.45 68.4,272.53 68.9,273.04 69.4,270.96 69.9,267.46 70.4,271.16 70.9,273.34 71.4,271.64 71.9,270.7 72.4,267.84 72.9,268.06 73.4,271.77 73.9,272.05 74.4,270.32 74.9,269.6 75.4,271.34 75.9,267.21 76.4,269.76 76.9,268.16 77.4,268.82 77.9,267.18 78.4,268.2 78.9,267.25 79.4,265.06 79.9,266.46 80.4,263.47 80.9,268.28 81.4,265.57 81.9,266.68 82.4,266.85 82.9,263.53 83.4,259.08 83.9,261.8 84.4,259.71 84.9,264.93 85.4,259.87 85.9,261.62 86.4,257.89 86.9,255.31 87.4,257.31 87.9,253.21 88.4,255.93 88.9,253.17 89.4,249.1 89.9,236.59 90.4,227.02 90.9,226.94 91.4,222.03 91.9,222.55 92.4,218.46 92.9,227.02 93.4,222.14 93.9,220.92 94.4,219.01 94.9,220.44 95.4,223.36 95.9,220.62 96.4,224 96.9,224.61 97.4,225.42 97.9,225.99 98.4,222.72 98.9,229.52 99.4,229.85 99.9,225.39 100.4,226.86 100.9,226.6 101.4,229.31 101.9,228 102.4,230.31 102.9,231.4 103.4,231.83 103.9,231.27 104.4,231.98 104.9,233.48 105.4,230.11 105.9,232.94 106.4,235.1 106.9,237.59 107.4,235.71 107.9,239.37 108.4,238.48 108.9,239.4 109.4,239 109.9,236.99 110.4,243.91 110.9,234.68 111.4,236.83 111.9,238.7 112.4,239.16 112.9,236.6 113.4,238.37 113.9,234.78 114.4,238.64 114.9,240.3 115.4,241.39 115.9,238.85 116.4,236.69 116.9,241.28 117.4,236.42 117.9,237.37 118.4,239.76 118.9,236.66 119.4,242.79 119.9,243.77 120.4,238.94 120.9,238.74 121.4,238.92 121.9,239.84 122.4,243.79 122.9,240.98 123.4,244.01 123.9,242.75 124.4,245.29 124.9,249.25 125.4,246.93 125.9,247.75 126.4,248.84 126.9,252.22 127.4,253.27 127.9,249.97 128.4,252.05 128.9,252.54 129.4,250.68 129.9,250.95 130.4,252.42 130.9,254.24 131.4,251.17 131.9,256.63 132.4,254.94 132.9,254.66 133.4,258.45 133.9,257.53 134.4,254.72 134.9,257.04 135.4,259.4 135.9,254.32 136.4,257.68 136.9,258.24 137.4,255.17 137.9,262.2 138.4,260.71 138.9,261.87 139.4,257.77 139.9,262.46 140.4,256.48 140.9,260.65 141.4,261.39 141.9,260.43 142.4,263.25 142.9,265.06 143.4,264.88 143.9,264.04 144.4,266.49 144.9,264.68 145.4,266.65 145.9,266.22 146.4,266.37 146.9,263.44 147.4,262.41 147.9,263.66 148.4,268.03 148.9,269.19 149.4,265.74 149.9,265.26 150.4,266.13 150.9,269.3 151.4,267.58 151.9,268.84 152.4,266.33 152.9,266.65 153.4,268.18 153.9,269.57 154.4,265.32 154.9,268.56 155.4,267.39 155.9,268.04 156.4,267.68 156.9,267.01 157.4,270.18 157.9,270.49 158.4,268.47 158.9,276.3 159.4,270.07 159.9,271.02 160.4,268.64 160.9,269.48 161.4,270.61 161.9,272.63 162.4,270.7 162.9,271.05 163.4,270.33 163.9,270.09 164.4,272.01 164.9,269.6 165.4,271.78 165.9,269.94 166.4,270.27 166.9,268.37 167.4,270.98 167.9,267.8 168.4,271.8 168.9,272.9 169.4,269.91 169.9,273.75 170.4,270.58 170.9,270.61 171.4,271.07 171.4,296.93 170.9,294.75 170.4,298.45 169.9,297.62 169.4,295.46 168.9,295.24 168.4,295.08 167.9,291.88 167.4,295.97 166.9,293.16 166.4,294.43 165.9,290.79 165.4,296 164.9,294.94 164.4,295.87 163.9,294.3 163.4,295.94 162.9,292.99 162.4,293.25 161.9,293.05 161.4,292.83 160.9,295.55 160.4,292.04 159.9,296.92 159.4,294.46 158.9,295.18 158.4,292.61 157.9,293.2 157.4,294.77 156.9,293.95 156.4,291.97 155.9,293.26 155.4,293.33 154.9,294.8 154.4,291.61 153.9,295.98 153.4,293.84 152.9,294.2 152.4,290.6 151.9,289.69 151.4,293.61 150.9,290.54 150.4,289.18 149.9,289.59 149.4,290.22 148.9,289.39 148.4,289.86 147.9,290.87 147.4,286.88 146.9,288.88 146.4,288.83 145.9,285.65 145.4,283.34 144.9,285.42 144.4,285.69 143.9,286.31 143.4,281.79 142.9,282.99 142.4,281.59 141.9,283.35 141.4,281.38 140.9,279.86 140.4,280.69 139.9,279.63 139.4,281.68 138.9,280.67 138.4,279.36 137.9,280.15 137.4,278.76 136.9,276.94 136.4,274.49 135.9,275.82 135.4,276.6 134.9,275.49 134.4,274.86 133.9,274.83 133.4,273.02 132.9,274.26 132.4,274.97 131.9,272.97 131.4,269.87 130.9,273.82 130.4,273.29 129.9,272.87 129.4,270.78 128.9,271.45 128.4,273.4 127.9,272.07 127.4,271.72 126.9,267.83 126.4,272.92 125.9,270.32 125.4,270.43 124.9,269.9 124.4,270.86 123.9,270.64 123.4,268.24 122.9,269.02 122.4,269.17 121.9,268.95 121.4,268.11 120.9,265.99 120.4,265.49 119.9,265.25 119.4,265.41 118.9,261.92 118.4,263.71 117.9,265.08 117.4,264.6 116.9,260.74 116.4,262.78 115.9,262.64 115.4,264.14 114.9,262.29 114.4,264.75 113.9,261.56 113.4,261.16 112.9,261.32 112.4,256.71 111.9,258.82 111.4,259.39 110.9,258.54 110.4,257.32 109.9,256.21 109.4,258.92 108.9,254.58 108.4,252.97 107.9,256.39 107.4,255.62 106.9,255.58 106.4,254.81 105.9,256.16 105.4,256.83 104.9,252.92 104.4,252.08 103.9,250.75 103.4,250.3 102.9,252.3 102.4,251.52 101.9,250.83 101.4,247.21 100.9,251.17 100.4,252.6 99.9,249.46 99.4,250.26 98.9,250.85 98.4,249.87 97.9,245.86 97.4,247.41 96.9,245.63 96.4,243.84 95.9,243.77 95.4,247.02 94.9,248.57 94.4,248.04 93.9,248.65 93.4,246.05 92.9,248.81 92.4,245.11 91.9,248.11 91.4,249.23 90.9,249.27 90.4,257 89.9,262.78 89.4,271.29 88.9,276.87 88.4,278.19 87.9,279.43 87.4,278.12 86.9,278.63 86.4,283 85.9,286.01 85.4,283.6 84.9,284.85 84.4,285.02 83.9,288.08 83.4,287.62 82.9,288.38 82.4,288.43 81.9,287.71 81.4,290.19 80.9,288.17 80.4,290.43 79.9,290.64 79.4,292.07 78.9,291.46 78.4,290.24 77.9,293.51 77.4,290.58 76.9,293.29 76.4,290.13 75.9,293.53 75.4,289.84 74.9,292.48 74.4,291.53 73.9,291.02 73.4,293.87 72.9,293.08 72.4,290.12 71.9,292.18 71.4,292.76 70.9,289.56 70.4,292.69 69.9,291.86 69.4,287.91 68.9,292.46 68.4,289.37 67.9,290.61 67.4,291.78 66.9,290.48 66.4,294.79 65.9,290.74 65.4,290.41 64.9,295.17 64.4,291.98 63.9,288.67 63.4,296.24 62.9,293.95 62.4,293.08 61.9,289.37 61.4,293.73 60.9,292.09 60.4,290.99 59.9,290.48 59.4,290.79 58.9,292.91 58.4,295.71 57.9,292.55 57.4,290.14 56.9,292.04 56.4,291.72" fill="#d9e6f1" fill-opacity="1"/><line x1="56.4" y1="284.67" x2="171.4" y2="284.67" stroke="#bdbdbd" stroke-width="0.55" stroke-dasharray="2.6,0.9"/><line x1="85.15" y1="298.11" x2="85.15" y2="217.44" stroke="#adadad" stroke-width="0.6" stroke-dasharray="3.5,0.7"/><path d="M56.4,282.93 L56.9,285.06 L57.4,284.87 L57.9,286.87 L58.4,283.84 L58.9,282.22 L59.4,284.04 L59.9,283.52 L60.4,282.89 L60.9,285.53 L61.4,281.33 L61.9,284.48 L62.4,283.43 L62.9,281.56 L63.4,282.85 L63.9,284.43 L64.4,284.21 L64.9,283.24 L65.4,285.59 L65.9,285.15 L66.4,282.16 L66.9,283.87 L67.4,283.64 L67.9,283.38 L68.4,283.32 L68.9,283.13 L69.4,281.43 L69.9,284.06 L70.4,281.05 L70.9,282.91 L71.4,279.99 L71.9,281.43 L72.4,280.83 L72.9,279.78 L73.4,280.86 L73.9,278.33 L74.4,278.39 L74.9,276.83 L75.4,278.81 L75.9,275.25 L76.4,276.8 L76.9,274.63 L77.4,274.5 L77.9,275.86 L78.4,273.38 L78.9,274.27 L79.4,273.5 L79.9,270.82 L80.4,271.46 L80.9,271.43 L81.4,272.76 L81.9,271.72 L82.4,271.27 L82.9,269.89 L83.4,269.83 L83.9,268.71 L84.4,268.14 L84.9,269.74 L85.4,268.83 L85.9,266.13 L86.4,266.98 L86.9,265.52 L87.4,263.91 L87.9,262.46 L88.4,262.66 L88.9,262.14 L89.4,258.02 L89.9,241.87 L90.4,236.72 L90.9,235.65 L91.4,236.44 L91.9,241.27 L92.4,238.63 L92.9,236.72 L93.4,236.29 L93.9,232.64 L94.4,233.17 L94.9,234.17 L95.4,234.97 L95.9,237.04 L96.4,236.53 L96.9,236.15 L97.4,238.23 L97.9,240.67 L98.4,239.99 L98.9,241.22 L99.4,242.41 L99.9,241.68 L100.4,241.53 L100.9,243.65 L101.4,242.59 L101.9,244.47 L102.4,241.81 L102.9,244.4 L103.4,243.11 L103.9,245.08 L104.4,246.34 L104.9,246.67 L105.4,247.14 L105.9,247.65 L106.4,248.9 L106.9,250.56 L107.4,251.23 L107.9,251.26 L108.4,250.65 L108.9,253.08 L109.4,252.1 L109.9,255.06 L110.4,255.82 L110.9,257.11 L111.4,252.58 L111.9,254.6 L112.4,255.12 L112.9,252.23 L113.4,253.33 L113.9,253.36 L114.4,251.93 L114.9,253.42 L115.4,251.84 L115.9,252.41 L116.4,250.04 L116.9,249.41 L117.4,251.81 L117.9,250.38 L118.4,252.28 L118.9,251.98 L119.4,253.63 L119.9,252.25 L120.4,254.18 L120.9,254.95 L121.4,254.57 L121.9,253.87 L122.4,256.23 L122.9,258.76 L123.4,257.48 L123.9,257.02 L124.4,259.07 L124.9,259.11 L125.4,262.28 L125.9,261.1 L126.4,260.8 L126.9,261.96 L127.4,262.69 L127.9,262.19 L128.4,265.31 L128.9,264.82 L129.4,267.49 L129.9,266.87 L130.4,265.47 L130.9,266.48 L131.4,269.06 L131.9,266.91 L132.4,268.45 L132.9,269.62 L133.4,268.12 L133.9,268.54 L134.4,266.85 L134.9,271.73 L135.4,270.69 L135.9,269.9 L136.4,273.37 L136.9,269.73 L137.4,269.45 L137.9,272.42 L138.4,272.13 L138.9,272.55 L139.4,273.03 L139.9,272.85 L140.4,272.37 L140.9,274.42 L141.4,272.03 L141.9,273.25 L142.4,271.3 L142.9,275.76 L143.4,274.75 L143.9,276.06 L144.4,275.68 L144.9,275.27 L145.4,276.9 L145.9,277.92 L146.4,278.81 L146.9,276.69 L147.4,275.26 L147.9,275.86 L148.4,277.91 L148.9,278.96 L149.4,278.67 L149.9,279.04 L150.4,281.77 L150.9,278.32 L151.4,280.98 L151.9,279.35 L152.4,281.14 L152.9,279.08 L153.4,279.09 L153.9,281.19 L154.4,282.68 L154.9,282.06 L155.4,279.25 L155.9,280.08 L156.4,280.72 L156.9,277.56 L157.4,281.35 L157.9,282.22 L158.4,282.53 L158.9,279.86 L159.4,279.78 L159.9,280.9 L160.4,280.73 L160.9,279.35 L161.4,280.64 L161.9,280.05 L162.4,278.62 L162.9,280.26 L163.4,281.48 L163.9,279.01 L164.4,280.12 L164.9,277.31 L165.4,281.29 L165.9,282.32 L166.4,280.96 L166.9,280.57 L167.4,280.22 L167.9,280 L168.4,281.35 L168.9,278.56 L169.4,282 L169.9,281.61 L170.4,280.67 L170.9,282.18 L171.4,278.44" fill="none" stroke="#9cc0de" stroke-width="0.5"/><path d="M68.9,283.13 L69.4,281.43 L69.9,284.06 L70.4,281.05 L70.9,282.91 L71.4,279.99 L71.9,281.43 L72.4,280.83 L72.9,279.78 L73.4,280.86 L73.9,278.33 L74.4,278.39 L74.9,276.83 L75.4,278.81 L75.9,275.25 L76.4,276.8 L76.9,274.63 L77.4,274.5 L77.9,275.86 L78.4,273.38 L78.9,274.27 L79.4,273.5 L79.9,270.82 L80.4,271.46 L80.9,271.43 L81.4,272.76 L81.9,271.72 L82.4,271.27 L82.9,269.89 L83.4,269.83 L83.9,268.71 L84.4,268.14 L84.9,269.74 L85.4,268.83 L85.9,266.13 L86.4,266.98 L86.9,265.52 L87.4,263.91 L87.9,262.46 L88.4,262.66 L88.9,262.14 L89.4,258.02 L89.9,241.87 L90.4,236.72 L90.9,235.65 L91.4,236.44 L91.9,241.27 L92.4,238.63 L92.9,236.72 L93.4,236.29 L93.9,232.64 L94.4,233.17 L94.9,234.17 L95.4,234.97 L95.9,237.04 L96.4,236.53 L96.9,236.15 L97.4,238.23 L97.9,240.67 L98.4,239.99 L98.9,241.22 L99.4,242.41 L99.9,241.68 L100.4,241.53 L100.9,243.65 L101.4,242.59 L101.9,244.47 L102.4,241.81 L102.9,244.4 L103.4,243.11 L103.9,245.08 L104.4,246.34 L104.9,246.67 L105.4,247.14 L105.9,247.65 L106.4,248.9 L106.9,250.56 L107.4,251.23 L107.9,251.26 L108.4,250.65 L108.9,253.08 L109.4,252.1 L109.9,255.06 L110.4,255.82 L110.9,257.11 L111.4,252.58 L111.9,254.6 L112.4,255.12 L112.9,252.23 L113.4,253.33 L113.9,253.36 L114.4,251.93 L114.9,253.42 L115.4,251.84 L115.9,252.41 L116.4,250.04 L116.9,249.41 L117.4,251.81 L117.9,250.38 L118.4,252.28 L118.9,251.98 L119.4,253.63 L119.9,252.25 L120.4,254.18 L120.9,254.95 L121.4,254.57 L121.9,253.87 L122.4,256.23 L122.9,258.76 L123.4,257.48 L123.9,257.02 L124.4,259.07 L124.9,259.11 L125.4,262.28 L125.9,261.1 L126.4,260.8 L126.9,261.96 L127.4,262.69 L127.9,262.19 L128.4,265.31 L128.9,264.82 L129.4,267.49 L129.9,266.87 L130.4,265.47 L130.9,266.48 L131.4,269.06 L131.9,266.91 L132.4,268.45 L132.9,269.62 L133.4,268.12 L133.9,268.54 L134.4,266.85 L134.9,271.73 L135.4,270.69 L135.9,269.9 L136.4,273.37 L136.9,269.73 L137.4,269.45 L137.9,272.42 L138.4,272.13 L138.9,272.55 L139.4,273.03 L139.9,272.85 L140.4,272.37 L140.9,274.42 L141.4,272.03 L141.9,273.25 L142.4,271.3 L142.9,275.76 L143.4,274.75 L143.9,276.06 L144.4,275.68 L144.9,275.27 L145.4,276.9 L145.9,277.92 L146.4,278.81 L146.9,276.69 L147.4,275.26 L147.9,275.86 L148.4,277.91 L148.9,278.96 L149.4,278.67 L149.9,279.04 L150.4,281.77 L150.9,278.32 L151.4,280.98 L151.9,279.35 L152.4,281.14 L152.9,279.08 L153.4,279.09 L153.9,281.19 L154.4,282.68 L154.9,282.06 L155.4,279.25 L155.9,280.08 L156.4,280.72 L156.9,277.56 L157.4,281.35 L157.9,282.22 L158.4,282.53 L158.9,279.86 L159.4,279.78 L159.9,280.9 L160.4,280.73 L160.9,279.35 L161.4,280.64 L161.9,280.05 L162.4,278.62 L162.9,280.26 L163.4,281.48 L163.9,279.01 L164.4,280.12 L164.9,277.31 L165.4,281.29 L165.9,282.32 L166.4,280.96 L166.9,280.57 L167.4,280.22 L167.9,280 L168.4,281.35 L168.9,278.56 L169.4,282 L169.9,281.61 L170.4,280.67 L170.9,282.18 L171.4,278.44" fill="none" stroke="#74acdb" stroke-width="1.3" stroke-linejoin="round" style="mix-blend-mode:multiply"/><path d="M69.9,285.65 L70.4,283.37 L70.9,285.3 L71.4,282.63 L71.9,284.25 L72.4,284.44 L72.9,283.03 L73.4,284.31 L73.9,281.5 L74.4,282.38 L74.9,281.65 L75.4,282.89 L75.9,281.18 L76.4,284.05 L76.9,280.47 L77.4,280.85 L77.9,283.24 L78.4,282.14 L78.9,281.43 L79.4,281.37 L79.9,280.05 L80.4,280.35 L80.9,277.79 L81.4,281.38 L81.9,281.07 L82.4,278.91 L82.9,278.53 L83.4,280.11 L83.9,277.09 L84.4,276.66 L84.9,276.41 L85.4,275.81 L85.9,272.52 L86.4,273.06 L86.9,272.74 L87.4,269.29 L87.9,267.89 L88.4,267.86 L88.9,267.76 L89.4,265.96 L89.9,254.55 L90.4,243.71 L90.9,242.15 L91.4,238.75 L91.9,239.38 L92.4,238.81 L92.9,239.7 L93.4,241.02 L93.9,240.37 L94.4,239.98 L94.9,242.64 L95.4,241.84 L95.9,242.87 L96.4,241.69 L96.9,242.46 L97.4,243.76 L97.9,245.65 L98.4,243.78 L98.9,247.23 L99.4,245.33 L99.9,247.75 L100.4,246.45 L100.9,246.8 L101.4,248.18 L101.9,249.61 L102.4,249.09 L102.9,250.81 L103.4,249.65 L103.9,250.36 L104.4,250.1 L104.9,250.74 L105.4,251.99 L105.9,252.16 L106.4,252.37 L106.9,256.13 L107.4,255.07 L107.9,254.71 L108.4,254.6 L108.9,256.76 L109.4,256.34 L109.9,259.12 L110.4,260.23 L110.9,263.35 L111.4,260.64 L111.9,262.51 L112.4,261.7 L112.9,261.85 L113.4,263.41 L113.9,263.35 L114.4,263.4 L114.9,264.14 L115.4,263.27 L115.9,265.02 L116.4,263.58 L116.9,264.13 L117.4,264.34 L117.9,261.91 L118.4,262.05 L118.9,262.2 L119.4,261.34 L119.9,259.62 L120.4,258.92 L120.9,260.04 L121.4,259.72 L121.9,260.56 L122.4,263.05 L122.9,265.68 L123.4,265.24 L123.9,264.68 L124.4,267.71 L124.9,268.21 L125.4,272.25 L125.9,269.52 L126.4,271.13 L126.9,270.94 L127.4,272.32 L127.9,272.87 L128.4,274.62 L128.9,273.99 L129.4,274.08 L129.9,274.21 L130.4,273.13 L130.9,273.44 L131.4,275.96 L131.9,274.54 L132.4,275.63 L132.9,275.28 L133.4,277.56 L133.9,276.67 L134.4,276.46 L134.9,278.77 L135.4,279.95 L135.9,279.07 L136.4,279.59 L136.9,278.7 L137.4,277.32 L137.9,280.62 L138.4,279.46 L138.9,281 L139.4,280.02 L139.9,281.51 L140.4,278.91 L140.9,282.24 L141.4,278.76 L141.9,280.28 L142.4,278.33 L142.9,280.84 L143.4,280.71 L143.9,282.06 L144.4,280.72 L144.9,279.84 L145.4,281.92 L145.9,280.93 L146.4,282.29 L146.9,281.04 L147.4,280.41 L147.9,280.24 L148.4,280.82 L148.9,281.42" fill="none" stroke="#8e8e8e" stroke-width="1.1" stroke-linejoin="round" style="mix-blend-mode:multiply"/><path d="M56.4,204 V325 H171.4" fill="none" stroke="#c2c2c2" stroke-width="0.8"/><text x="55" y="326.3" font-family="Liberation Sans" font-size="3.8" text-anchor="end" fill="#4a4a4a">0.2</text><text x="55" y="312.86" font-family="Liberation Sans" font-size="3.8" text-anchor="end" fill="#4a4a4a">0.3</text><text x="55" y="299.41" font-family="Liberation Sans" font-size="3.8" text-anchor="end" fill="#4a4a4a">0.4</text><text x="55" y="285.97" font-family="Liberation Sans" font-size="3.8" text-anchor="end" fill="#4a4a4a">0.5</text><text x="55" y="272.52" font-family="Liberation Sans" font-size="3.8" text-anchor="end" fill="#4a4a4a">0.6</text><text x="55" y="259.08" font-family="Liberation Sans" font-size="3.8" text-anchor="end" fill="#4a4a4a">0.7</text><text x="55" y="245.63" font-family="Liberation Sans" font-size="3.8" text-anchor="end" fill="#4a4a4a">0.8</text><text x="55" y="232.19" font-family="Liberation Sans" font-size="3.8" text-anchor="end" fill="#4a4a4a">0.9</text><text x="55" y="218.74" font-family="Liberation Sans" font-size="3.8" text-anchor="end" fill="#4a4a4a">1</text><text x="55" y="205.3" font-family="Liberation Sans" font-size="3.8" text-anchor="end" fill="#4a4a4a">1.1</text><text x="56.4" y="329.6" font-family="Liberation Sans" font-size="3.8" text-anchor="middle" fill="#4a4a4a">-0.5</text><text x="85.15" y="329.6" font-family="Liberation Sans" font-size="3.8" text-anchor="middle" fill="#4a4a4a">0</text><text x="113.9" y="329.6" font-family="Liberation Sans" font-size="3.8" text-anchor="middle" fill="#4a4a4a">0.5</text><text x="142.65" y="329.6" font-family="Liberation Sans" font-size="3.8" text-anchor="middle" fill="#4a4a4a">1</text><text x="171.4" y="329.6" font-family="Liberation Sans" font-size="3.8" text-anchor="middle" fill="#4a4a4a">1.5</text><text x="113.9" y="335.2" font-family="Liberation Sans" font-size="4.6" text-anchor="middle" fill="#3a3a3a">time points</text><text transform="translate(49,264.5) rotate(-90)" font-family="Liberation Sans" font-size="4.6" text-anchor="middle" fill="#333">auc</text><text x="113.9" y="202.7" font-family="Liberation Sans" font-weight="bold" font-size="5.5" text-anchor="middle" fill="#000">Verum_Sham</text></g>
<g><rect x="201.3" y="192.3" width="148.2" height="149.7" fill="none" stroke="#f4f4f4" stroke-width="0.7"/><line x1="220" y1="311.56" x2="335" y2="311.56" stroke="#ebebeb" stroke-width="0.6"/><line x1="220" y1="298.11" x2="335" y2="298.11" stroke="#ebebeb" stroke-width="0.6"/><line x1="220" y1="271.22" x2="335" y2="271.22" stroke="#ebebeb" stroke-width="0.6"/><line x1="220" y1="257.78" x2="335" y2="257.78" stroke="#ebebeb" stroke-width="0.6"/><line x1="220" y1="244.33" x2="335" y2="244.33" stroke="#ebebeb" stroke-width="0.6"/><line x1="220" y1="230.89" x2="335" y2="230.89" stroke="#ebebeb" stroke-width="0.6"/><line x1="220" y1="217.44" x2="335" y2="217.44" stroke="#ebebeb" stroke-width="0.6"/><line x1="277.5" y1="204" x2="277.5" y2="325" stroke="#ebebeb" stroke-width="0.6"/><line x1="306.25" y1="204" x2="306.25" y2="325" stroke="#ebebeb" stroke-width="0.6"/><line x1="248.75" y1="204" x2="248.75" y2="325" stroke="#ebebeb" stroke-width="0.6"/><line x1="220" y1="204" x2="335" y2="204" stroke="#ebebeb" stroke-width="0.6"/><line x1="335" y1="204" x2="335" y2="325" stroke="#ebebeb" stroke-width="0.6"/><polygon points="220,272.75 220.5,275.04 221,271.07 221.5,270.04 222,272.29 222.5,271.89 223,271.28 223.5,272 224,271.93 224.5,270.59 225,270.03 225.5,271.76 226,270.24 226.5,270.6 227,271.68 227.5,270.86 228,273.11 228.5,272.01 229,270.07 229.5,269.6 230,268.84 230.5,268.2 231,271.4 231.5,269.47 232,271.85 232.5,269.73 233,270.27 233.5,268.84 234,269.45 234.5,269.12 235,269.79 235.5,268.96 236,267.13 236.5,267.69 237,268.55 237.5,270.58 238,270.62 238.5,268.3 239,267.67 239.5,267.26 240,267.58 240.5,268.75 241,269.84 241.5,266.48 242,266.69 242.5,265.77 243,269.3 243.5,266.26 244,266.06 244.5,268.22 245,267.99 245.5,267.95 246,267.54 246.5,266.52 247,266.77 247.5,264.43 248,265.51 248.5,266.69 249,264.05 249.5,262.22 250,261.11 250.5,254.81 251,252.9 251.5,247.54 252,246.22 252.5,241.28 253,238.94 253.5,238.92 254,231.78 254.5,231.41 255,231.24 255.5,232.92 256,232.49 256.5,228.66 257,232.14 257.5,237.23 258,230.65 258.5,232.95 259,234.33 259.5,232.96 260,233.62 260.5,235.25 261,232.68 261.5,234.25 262,233.81 262.5,235.27 263,235.9 263.5,235.92 264,237.72 264.5,237.85 265,235.87 265.5,237.44 266,236.86 266.5,237.9 267,238.76 267.5,237.06 268,239.46 268.5,240.2 269,239.28 269.5,238.17 270,238.47 270.5,241.51 271,241.72 271.5,241.35 272,242.25 272.5,241.24 273,240.37 273.5,242.18 274,244.34 274.5,244.7 275,244.74 275.5,243.52 276,242.55 276.5,245.55 277,243.25 277.5,243.18 278,241.05 278.5,245.99 279,244.7 279.5,244.15 280,244.77 280.5,244.48 281,245.36 281.5,245.14 282,246.58 282.5,246.78 283,249.19 283.5,244.66 284,249.56 284.5,248.06 285,248.49 285.5,250.28 286,251.74 286.5,249.77 287,252.77 287.5,249.61 288,247.94 288.5,250.14 289,255.85 289.5,252.32 290,253.25 290.5,254.07 291,253.12 291.5,255.37 292,254.48 292.5,256.55 293,257.48 293.5,255.83 294,255.65 294.5,258.3 295,255.88 295.5,258.68 296,260.11 296.5,260.36 297,260.68 297.5,259.38 298,259.79 298.5,261.14 299,259.91 299.5,263.39 300,262.05 300.5,262.73 301,266.44 301.5,263.61 302,265.14 302.5,262.94 303,266.06 303.5,264.11 304,265.67 304.5,268.81 305,265.79 305.5,266.85 306,267.74 306.5,268.69 307,266.03 307.5,268.92 308,267.04 308.5,267.81 309,268.88 309.5,269.68 310,268.27 310.5,268.88 311,270.39 311.5,268.35 312,268.19 312.5,268.87 313,271.32 313.5,268.29 314,269.52 314.5,268.05 315,269.65 315.5,270.13 316,269.51 316.5,269.48 317,266.57 317.5,270.83 318,271.53 318.5,269.81 319,269.75 319.5,272.15 320,272.02 320.5,271.02 321,270.25 321.5,270.36 322,268.9 322.5,270.1 323,271.12 323.5,270.26 324,269.83 324.5,269.46 325,274.08 325.5,270.3 326,270 326.5,268.54 327,270.97 327.5,270.37 328,272.72 328.5,269.58 329,269.35 329.5,271.89 330,270.65 330.5,271.45 331,269.45 331.5,271.24 332,270.71 332.5,270.7 333,271.51 333.5,270.81 334,268.97 334.5,271.18 335,272.22 335,297.08 334.5,295.99 334,298.22 333.5,299.63 333,302.68 332.5,297.76 332,301.27 331.5,300.32 331,300.94 330.5,299.78 330,298.67 329.5,296.37 329,298.18 328.5,297.01 328,299.8 327.5,297.12 327,298.44 326.5,296.76 326,295.68 325.5,296.74 325,296.94 324.5,297.12 324,297.73 323.5,297.66 323,299.88 322.5,296.18 322,294.31 321.5,302.32 321,296.14 320.5,300.04 320,297.15 319.5,304.38 319,299.19 318.5,298.96 318,297.47 317.5,295.22 317,294.02 316.5,297.35 316,296.65 315.5,294.46 315,298.3 314.5,298.16 314,296.3 313.5,298.65 313,293.84 312.5,296.62 312,295.44 311.5,298.78 311,297.53 310.5,299.64 310,297.6 309.5,296.81 309,297.94 308.5,297.34 308,297.98 307.5,296.38 307,298.33 306.5,300.92 306,297.63 305.5,297.02 305,295.89 304.5,294.43 304,296.04 303.5,298.77 303,297.28 302.5,295.31 302,293.87 301.5,297.23 301,293.04 300.5,297.52 300,296.35 299.5,296.74 299,292.09 298.5,293.46 298,300.29 297.5,295.8 297,290.18 296.5,299.56 296,293.74 295.5,290.8 295,292.79 294.5,291.41 294,292.22 293.5,294.9 293,293.81 292.5,291.41 292,289.8 291.5,289.14 291,286.88 290.5,287.43 290,290.8 289.5,285.21 289,283.21 288.5,281.75 288,280.33 287.5,280.77 287,280.76 286.5,276.72 286,277.58 285.5,275.6 285,279.14 284.5,282.87 284,277.36 283.5,276.8 283,282.33 282.5,277.52 282,280.49 281.5,284.34 281,278.22 280.5,280.65 280,282.42 279.5,280.73 279,279.77 278.5,278.69 278,281.29 277.5,279.95 277,278.31 276.5,274.37 276,274.96 275.5,273.52 275,276.03 274.5,271.4 274,274.58 273.5,270.9 273,270.75 272.5,268.02 272,266.79 271.5,268.79 271,266.66 270.5,265.87 270,265.72 269.5,267.88 269,264.01 268.5,263.77 268,263.08 267.5,269.6 267,262.64 266.5,266.71 266,261.41 265.5,260.76 265,261.47 264.5,261.77 264,259.37 263.5,258.9 263,258.9 262.5,257.97 262,257.51 261.5,260.47 261,257.84 260.5,257.47 260,257.25 259.5,258.32 259,255.88 258.5,258.97 258,257.85 257.5,255.19 257,255.2 256.5,259.63 256,256.01 255.5,256.35 255,265.28 254.5,259.12 254,269.95 253.5,277.06 253,277.85 252.5,285.56 252,287.54 251.5,287.82 251,286.2 250.5,290.05 250,288.3 249.5,290.32 249,294.02 248.5,292.06 248,289.19 247.5,294.79 247,289.82 246.5,296.93 246,295.44 245.5,293.25 245,291.88 244.5,296.67 244,293.81 243.5,296.23 243,295.85 242.5,292.06 242,299.39 241.5,295.26 241,295.49 240.5,298.32 240,303.04 239.5,298.11 239,296.34 238.5,297.68 238,295.28 237.5,300.68 237,296.24 236.5,298.76 236,300.14 235.5,300.67 235,301.22 234.5,298.55 234,300.14 233.5,305.66 233,298.19 232.5,297.83 232,297.69 231.5,300.42 231,296.21 230.5,300.41 230,302.86 229.5,301.61 229,298.64 228.5,296.23 228,299.16 227.5,297.49 227,299.85 226.5,297.79 226,299.16 225.5,302.26 225,300.51 224.5,298.67 224,304.6 223.5,305.11 223,301.65 222.5,297.76 222,296.69 221.5,297.98 221,299.2 220.5,303.85 220,301.94" fill="#f3f3f3" fill-opacity="1"/><polygon points="220,269.62 220.5,270.64 221,269.84 221.5,269.63 222,268.24 222.5,268.74 223,270.25 223.5,267.3 224,270.14 224.5,268.54 225,270.19 225.5,266.6 226,267.87 226.5,268.29 227,266.49 227.5,266.78 228,271.24 228.5,268.28 229,270.74 229.5,269.86 230,269.54 230.5,271.55 231,271.15 231.5,268.52 232,268.5 232.5,267.68 233,269.01 233.5,269.52 234,269.38 234.5,269.36 235,270.29 235.5,268.57 236,270.64 236.5,270.81 237,271.79 237.5,268.46 238,269.84 238.5,268.75 239,267.84 239.5,269.57 240,267.18 240.5,267.23 241,267.15 241.5,270.61 242,264.61 242.5,265.37 243,264.99 243.5,262.3 244,267.25 244.5,260.93 245,264.68 245.5,262.01 246,260.99 246.5,264.84 247,261.8 247.5,263.02 248,260.55 248.5,263.81 249,256.87 249.5,258.36 250,258.68 250.5,258.9 251,253.57 251.5,256.2 252,252.64 252.5,255.53 253,246.58 253.5,240.25 254,226.02 254.5,225.98 255,223.35 255.5,219.37 256,220.13 256.5,223 257,223.57 257.5,220.27 258,225.67 258.5,223.53 259,224.7 259.5,223.54 260,224.13 260.5,224.78 261,227.27 261.5,224.82 262,224.81 262.5,227.05 263,223.25 263.5,227.95 264,227.5 264.5,224.07 265,228.93 265.5,229.04 266,232.16 266.5,229.66 267,231.14 267.5,230.35 268,233.71 268.5,229.88 269,231.85 269.5,231.77 270,234.89 270.5,238.27 271,234.78 271.5,236.15 272,237.7 272.5,234.19 273,237.16 273.5,237.53 274,237.01 274.5,237.3 275,237.26 275.5,236.6 276,238.02 276.5,239.2 277,240.02 277.5,238.08 278,237.65 278.5,237.16 279,240.36 279.5,241.83 280,241.8 280.5,236.2 281,237.98 281.5,239.28 282,240.05 282.5,235.38 283,238.32 283.5,238.71 284,241.36 284.5,238.25 285,241.52 285.5,242.46 286,238.65 286.5,241.65 287,241.98 287.5,247.24 288,246.08 288.5,248.03 289,246.94 289.5,248.58 290,249.43 290.5,251.6 291,247.73 291.5,253.42 292,250.34 292.5,251.71 293,249.97 293.5,254.28 294,250.73 294.5,254.76 295,253.01 295.5,254.27 296,249.56 296.5,257.19 297,256.32 297.5,259.01 298,257.9 298.5,256.64 299,257.42 299.5,258.75 300,258.85 300.5,258.35 301,258.1 301.5,255.46 302,258.34 302.5,259.6 303,260.63 303.5,259 304,258.13 304.5,261.65 305,259.63 305.5,260.89 306,266.48 306.5,258.94 307,261.36 307.5,266.38 308,267.93 308.5,264.15 309,265.98 309.5,264.43 310,266.65 310.5,263.88 311,267.89 311.5,266.37 312,266.33 312.5,268.32 313,266.09 313.5,267.73 314,268.09 314.5,268.61 315,273.02 315.5,270.43 316,264.89 316.5,269.39 317,270.33 317.5,269.26 318,269.42 318.5,264.97 319,271.41 319.5,270.74 320,268.18 320.5,273.08 321,272.87 321.5,272.31 322,271.3 322.5,268 323,267.5 323.5,269.24 324,266.4 324.5,274.09 325,268.32 325.5,271.84 326,269.56 326.5,271.13 327,273.48 327.5,268.4 328,267.89 328.5,270.28 329,272.48 329.5,266.87 330,275.61 330.5,270.6 331,272.83 331.5,272.53 332,269.24 332.5,272.13 333,269.3 333.5,270.84 334,268.62 334.5,269.55 335,269.81 335,296.77 334.5,296.21 334,296.68 333.5,294.53 333,297.11 332.5,294.91 332,292.23 331.5,297.05 331,292.94 330.5,290.51 330,294.94 329.5,296.12 329,296.04 328.5,294.72 328,294.79 327.5,292.2 327,294.61 326.5,294.32 326,294.46 325.5,294.29 325,295.91 324.5,296.54 324,293.48 323.5,294.53 323,295.47 322.5,293.6 322,293.31 321.5,290.65 321,293.01 320.5,296.5 320,293.88 319.5,292.25 319,293.54 318.5,295.72 318,291.77 317.5,292.04 317,293.78 316.5,289.32 316,292.73 315.5,291.71 315,290.32 314.5,289.82 314,291.88 313.5,289.52 313,287.66 312.5,285.29 312,289.74 311.5,287.83 311,288.38 310.5,286.45 310,285.47 309.5,288.83 309,285.59 308.5,283.45 308,284.87 307.5,284.64 307,284.43 306.5,283.87 306,283.38 305.5,282.88 305,278.94 304.5,283.15 304,282.86 303.5,284.01 303,280.73 302.5,276.97 302,277.57 301.5,277.34 301,272.93 300.5,276.73 300,277.95 299.5,278.21 299,274.01 298.5,274.63 298,274.93 297.5,272.93 297,274.07 296.5,271.93 296,270.98 295.5,272.2 295,275.41 294.5,274 294,274.27 293.5,273.95 293,270.69 292.5,270.12 292,270.23 291.5,269.38 291,269.92 290.5,270.21 290,273.35 289.5,268.97 289,269.69 288.5,270.94 288,267.83 287.5,268.14 287,266.51 286.5,266.55 286,268.33 285.5,270.8 285,265.75 284.5,268.82 284,265.2 283.5,265.16 283,267.06 282.5,264.75 282,260.78 281.5,264.98 281,263.77 280.5,262.72 280,261.92 279.5,265.6 279,263.09 278.5,260.62 278,261.27 277.5,260.48 277,259.89 276.5,261.75 276,258.3 275.5,257.84 275,258.38 274.5,256.39 274,256.2 273.5,256.96 273,256.74 272.5,253.28 272,257.61 271.5,253.22 271,253.16 270.5,255.68 270,252.15 269.5,255 269,249.94 268.5,250.83 268,255.22 267.5,250.16 267,251.97 266.5,250.45 266,252.85 265.5,248.19 265,250.49 264.5,248 264,248 263.5,250.49 263,246.1 262.5,247.29 262,245.59 261.5,247.92 261,246.28 260.5,250.03 260,246.22 259.5,246.12 259,242.95 258.5,245.2 258,247.02 257.5,247.31 257,247.7 256.5,248.47 256,247.7 255.5,248.71 255,248.56 254.5,250.85 254,259.29 253.5,265.27 253,271.32 252.5,276.45 252,277.85 251.5,279.94 251,281.15 250.5,281.56 250,279.96 249.5,282.9 249,282.78 248.5,285.49 248,288.18 247.5,287.58 247,286.11 246.5,286.16 246,289.62 245.5,287.88 245,287.65 244.5,288.25 244,289.52 243.5,290.48 243,293.99 242.5,294.49 242,289.56 241.5,291.28 241,291.27 240.5,290.09 240,290.7 239.5,290.09 239,292.07 238.5,293.42 238,290.73 237.5,290.61 237,292.01 236.5,289.45 236,290.23 235.5,290.54 235,291.05 234.5,290.8 234,291.93 233.5,293.46 233,290.46 232.5,292.32 232,294.35 231.5,290.47 231,291.69 230.5,293.17 230,291.64 229.5,292.45 229,290.78 228.5,290.78 228,289.82 227.5,292.62 227,290.94 226.5,295.1 226,291.65 225.5,290.31 225,292.17 224.5,294.08 224,292.31 223.5,293.6 223,291.64 222.5,293.51 222,291.11 221.5,291.62 221,294.09 220.5,292.54 220,292.42" fill="#d9e6f1" fill-opacity="1"/><line x1="220" y1="284.67" x2="335" y2="284.67" stroke="#bdbdbd" stroke-width="0.55" stroke-dasharray="2.6,0.9"/><line x1="248.75" y1="298.11" x2="248.75" y2="217.44" stroke="#adadad" stroke-width="0.6" stroke-dasharray="3.5,0.7"/><path d="M220,283.71 L220.5,283.96 L221,283.39 L221.5,283.35 L222,281.53 L222.5,282.43 L223,284.2 L223.5,280.93 L224,282.42 L224.5,279.59 L225,281.21 L225.5,282.73 L226,282.06 L226.5,281.08 L227,280.89 L227.5,280.42 L228,281.4 L228.5,279.07 L229,280.24 L229.5,282 L230,283.87 L230.5,282.88 L231,280.55 L231.5,279.88 L232,279.08 L232.5,282.5 L233,280.83 L233.5,281.96 L234,281.66 L234.5,281.69 L235,279.55 L235.5,280.67 L236,279.96 L236.5,278.55 L237,278.09 L237.5,280.34 L238,276.84 L238.5,277.57 L239,277.85 L239.5,278.33 L240,278.75 L240.5,278.64 L241,276.94 L241.5,277.1 L242,276.52 L242.5,273.57 L243,274.16 L243.5,274.27 L244,274.45 L244.5,276.56 L245,273.33 L245.5,273.28 L246,274.64 L246.5,273.17 L247,271.93 L247.5,270.86 L248,270.98 L248.5,273.52 L249,271.48 L249.5,271.56 L250,269.92 L250.5,268.5 L251,265.56 L251.5,265.11 L252,266.62 L252.5,263.44 L253,261.88 L253.5,247.63 L254,243.17 L254.5,239.56 L255,240.74 L255.5,245.54 L256,245.31 L256.5,243.45 L257,238.24 L257.5,235.39 L258,234.82 L258.5,236.46 L259,235.19 L259.5,237.32 L260,236.99 L260.5,237.09 L261,239.54 L261.5,240.48 L262,239.25 L262.5,239.07 L263,239.68 L263.5,239.74 L264,239.82 L264.5,243.33 L265,239.38 L265.5,240.78 L266,244.01 L266.5,244.33 L267,245.13 L267.5,244.75 L268,242.12 L268.5,243.6 L269,241.71 L269.5,241.79 L270,243.85 L270.5,243.8 L271,244.06 L271.5,246.44 L272,246.49 L272.5,247.02 L273,251.51 L273.5,250.53 L274,254.23 L274.5,251.86 L275,251.91 L275.5,253.34 L276,251.6 L276.5,252.87 L277,253.22 L277.5,253.46 L278,253.85 L278.5,253.71 L279,253.07 L279.5,253.73 L280,253.65 L280.5,252.22 L281,250.84 L281.5,253.17 L282,251.7 L282.5,251.55 L283,250.65 L283.5,250.62 L284,253.22 L284.5,252.62 L285,253.78 L285.5,253.27 L286,254.38 L286.5,256.13 L287,258.83 L287.5,259.34 L288,258.78 L288.5,260.15 L289,261.16 L289.5,260.29 L290,264.21 L290.5,264.71 L291,264.92 L291.5,264.89 L292,266.56 L292.5,265.5 L293,267.15 L293.5,266.19 L294,265.97 L294.5,266.5 L295,264.64 L295.5,265.67 L296,264.81 L296.5,267.72 L297,267.55 L297.5,268.44 L298,268.77 L298.5,268.97 L299,266.22 L299.5,268.18 L300,269.9 L300.5,267.58 L301,269.53 L301.5,271.43 L302,271.8 L302.5,271.98 L303,273.47 L303.5,270.89 L304,274.71 L304.5,272.96 L305,274.48 L305.5,274.97 L306,274.69 L306.5,274.48 L307,277.74 L307.5,276.28 L308,276.87 L308.5,274.51 L309,278.21 L309.5,277.39 L310,275.89 L310.5,277.39 L311,277.01 L311.5,275.85 L312,276.97 L312.5,277.49 L313,276.5 L313.5,277.64 L314,277.63 L314.5,279.47 L315,278.44 L315.5,278.17 L316,279.2 L316.5,275.43 L317,277.21 L317.5,278.02 L318,280.08 L318.5,277.93 L319,278.74 L319.5,281.34 L320,279.3 L320.5,279.84 L321,280.06 L321.5,279.25 L322,277.12 L322.5,278.16 L323,280.7 L323.5,280.34 L324,278.84 L324.5,280.99 L325,279.94 L325.5,280.54 L326,280.47 L326.5,278.74 L327,281.41 L327.5,279.69 L328,280.02 L328.5,280.93 L329,283.05 L329.5,281.02 L330,281 L330.5,284.6 L331,281.98 L331.5,282.21 L332,280.93 L332.5,281.95 L333,281.05 L333.5,278.31 L334,279.14 L334.5,281.1 L335,279.04" fill="none" stroke="#9cc0de" stroke-width="0.5"/><path d="M227,280.89 L227.5,280.42 L228,281.4 L228.5,279.07 L229,280.24 L229.5,282 L230,283.87 L230.5,282.88 L231,280.55 L231.5,279.88 L232,279.08 L232.5,282.5 L233,280.83 L233.5,281.96 L234,281.66 L234.5,281.69 L235,279.55 L235.5,280.67 L236,279.96 L236.5,278.55 L237,278.09 L237.5,280.34 L238,276.84 L238.5,277.57 L239,277.85 L239.5,278.33 L240,278.75 L240.5,278.64 L241,276.94 L241.5,277.1 L242,276.52 L242.5,273.57 L243,274.16 L243.5,274.27 L244,274.45 L244.5,276.56 L245,273.33 L245.5,273.28 L246,274.64 L246.5,273.17 L247,271.93 L247.5,270.86 L248,270.98 L248.5,273.52 L249,271.48 L249.5,271.56 L250,269.92 L250.5,268.5 L251,265.56 L251.5,265.11 L252,266.62 L252.5,263.44 L253,261.88 L253.5,247.63 L254,243.17 L254.5,239.56 L255,240.74 L255.5,245.54 L256,245.31 L256.5,243.45 L257,238.24 L257.5,235.39 L258,234.82 L258.5,236.46 L259,235.19 L259.5,237.32 L260,236.99 L260.5,237.09 L261,239.54 L261.5,240.48 L262,239.25 L262.5,239.07 L263,239.68 L263.5,239.74 L264,239.82 L264.5,243.33 L265,239.38 L265.5,240.78 L266,244.01 L266.5,244.33 L267,245.13 L267.5,244.75 L268,242.12 L268.5,243.6 L269,241.71 L269.5,241.79 L270,243.85 L270.5,243.8 L271,244.06 L271.5,246.44 L272,246.49 L272.5,247.02 L273,251.51 L273.5,250.53 L274,254.23 L274.5,251.86 L275,251.91 L275.5,253.34 L276,251.6 L276.5,252.87 L277,253.22 L277.5,253.46 L278,253.85 L278.5,253.71 L279,253.07 L279.5,253.73 L280,253.65 L280.5,252.22 L281,250.84 L281.5,253.17 L282,251.7 L282.5,251.55 L283,250.65 L283.5,250.62 L284,253.22 L284.5,252.62 L285,253.78 L285.5,253.27 L286,254.38 L286.5,256.13 L287,258.83 L287.5,259.34 L288,258.78 L288.5,260.15 L289,261.16 L289.5,260.29 L290,264.21 L290.5,264.71 L291,264.92 L291.5,264.89 L292,266.56 L292.5,265.5 L293,267.15 L293.5,266.19 L294,265.97 L294.5,266.5 L295,264.64 L295.5,265.67 L296,264.81 L296.5,267.72 L297,267.55 L297.5,268.44 L298,268.77 L298.5,268.97 L299,266.22 L299.5,268.18 L300,269.9 L300.5,267.58 L301,269.53 L301.5,271.43 L302,271.8 L302.5,271.98 L303,273.47 L303.5,270.89 L304,274.71 L304.5,272.96 L305,274.48 L305.5,274.97 L306,274.69 L306.5,274.48 L307,277.74 L307.5,276.28 L308,276.87 L308.5,274.51 L309,278.21 L309.5,277.39 L310,275.89 L310.5,277.39 L311,277.01 L311.5,275.85 L312,276.97 L312.5,277.49 L313,276.5 L313.5,277.64 L314,277.63 L314.5,279.47 L315,278.44 L315.5,278.17 L316,279.2 L316.5,275.43 L317,277.21 L317.5,278.02 L318,280.08 L318.5,277.93 L319,278.74 L319.5,281.34 L320,279.3 L320.5,279.84 L321,280.06 L321.5,279.25 L322,277.12 L322.5,278.16 L323,280.7 L323.5,280.34 L324,278.84 L324.5,280.99 L325,279.94 L325.5,280.54 L326,280.47 L326.5,278.74 L327,281.41 L327.5,279.69 L328,280.02 L328.5,280.93 L329,283.05 L329.5,281.02 L330,281 L330.5,284.6 L331,281.98 L331.5,282.21 L332,280.93 L332.5,281.95 L333,281.05 L333.5,278.31 L334,279.14 L334.5,281.1 L335,279.04" fill="none" stroke="#74acdb" stroke-width="1.3" stroke-linejoin="round" style="mix-blend-mode:multiply"/><path d="M233.5,284.71 L234,283.54 L234.5,284.01 L235,282.58 L235.5,284.27 L236,283.71 L236.5,281.8 L237,281.76 L237.5,283.56 L238,280.29 L238.5,281.19 L239,280.2 L239.5,282.7 L240,282.7 L240.5,281.45 L241,281.2 L241.5,280.84 L242,281 L242.5,277.19 L243,279.36 L243.5,277.8 L244,279.23 L244.5,280.25 L245,277.68 L245.5,277.87 L246,279.3 L246.5,278.14 L247,275.42 L247.5,274.77 L248,274.31 L248.5,277.31 L249,275.55 L249.5,274.67 L250,273.87 L250.5,271.86 L251,271.84 L251.5,270.55 L252,270.68 L252.5,267.86 L253,263.66 L253.5,260.62 L254,251.06 L254.5,243.71 L255,242.75 L255.5,241.24 L256,241.79 L256.5,243.42 L257,241.15 L257.5,240.47 L258,241.34 L258.5,241.99 L259,240.72 L259.5,242.02 L260,241.49 L260.5,241.98 L261,242.49 L261.5,243.46 L262,242.11 L262.5,242.04 L263,242.87 L263.5,244.07 L264,244.11 L264.5,245.86 L265,243.06 L265.5,243.31 L266,247.14 L266.5,246.97 L267,248.85 L267.5,248.82 L268,248.02 L268.5,249.86 L269,248.71 L269.5,251.47 L270,251.78 L270.5,251.33 L271,250.88 L271.5,252.75 L272,251.79 L272.5,253.84 L273,255.32 L273.5,257 L274,259.44 L274.5,257.82 L275,257.93 L275.5,259.96 L276,260.36 L276.5,260.62 L277,261.94 L277.5,264.76 L278,264.88 L278.5,265.09 L279,265.31 L279.5,265.39 L280,264.27 L280.5,266.38 L281,263.98 L281.5,267.2 L282,264.51 L282.5,263.34 L283,264.39 L283.5,262.16 L284,263.13 L284.5,263.56 L285,263.83 L285.5,261.44 L286,261.61 L286.5,261.73 L287,262.5 L287.5,264.37 L288,264.87 L288.5,265.92 L289,266.35 L289.5,266.7 L290,271.81 L290.5,273.76 L291,273.41 L291.5,274.1 L292,275.81 L292.5,276.21 L293,275.57 L293.5,275.64 L294,276.61 L294.5,276.67 L295,276.3 L295.5,276.38 L296,275.17 L296.5,279.63 L297,276.42 L297.5,278.7 L298,280.73 L298.5,278.84 L299,277.62 L299.5,278.79 L300,280.82 L300.5,279.36 L301,278.85 L301.5,280.85 L302,280.43 L302.5,279.7 L303,281.81 L303.5,279.03 L304,280.8 L304.5,280.4 L305,280.62 L305.5,281.85 L306,281.1 L306.5,279.97 L307,282.78" fill="none" stroke="#8e8e8e" stroke-width="1.1" stroke-linejoin="round" style="mix-blend-mode:multiply"/><path d="M220,204 V325 H335" fill="none" stroke="#c2c2c2" stroke-width="0.8"/><text x="218.6" y="326.3" font-family="Liberation Sans" font-size="3.8" text-anchor="end" fill="#4a4a4a">0.2</text><text x="218.6" y="312.86" font-family="Liberation Sans" font-size="3.8" text-anchor="end" fill="#4a4a4a">0.3</text><text x="218.6" y="299.41" font-family="Liberation Sans" font-size="3.8" text-anchor="end" fill="#4a4a4a">0.4</text><text x="218.6" y="285.97" font-family="Liberation Sans" font-size="3.8" text-anchor="end" fill="#4a4a4a">0.5</text><text x="218.6" y="272.52" font-family="Liberation Sans" font-size="3.8" text-anchor="end" fill="#4a4a4a">0.6</text><text x="218.6" y="259.08" font-family="Liberation Sans" font-size="3.8" text-anchor="end" fill="#4a4a4a">0.7</text><text x="218.6" y="245.63" font-family="Liberation Sans" font-size="3.8" text-anchor="end" fill="#4a4a4a">0.8</text><text x="218.6" y="232.19" font-family="Liberation Sans" font-size="3.8" text-anchor="end" fill="#4a4a4a">0.9</text><text x="218.6" y="218.74" font-family="Liberation Sans" font-size="3.8" text-anchor="end" fill="#4a4a4a">1</text><text x="218.6" y="205.3" font-family="Liberation Sans" font-size="3.8" text-anchor="end" fill="#4a4a4a">1.1</text><text x="220" y="329.6" font-family="Liberation Sans" font-size="3.8" text-anchor="middle" fill="#4a4a4a">-0.5</text><text x="248.75" y="329.6" font-family="Liberation Sans" font-size="3.8" text-anchor="middle" fill="#4a4a4a">0</text><text x="277.5" y="329.6" font-family="Liberation Sans" font-size="3.8" text-anchor="middle" fill="#4a4a4a">0.5</text><text x="306.25" y="329.6" font-family="Liberation Sans" font-size="3.8" text-anchor="middle" fill="#4a4a4a">1</text><text x="335" y="329.6" font-family="Liberation Sans" font-size="3.8" text-anchor="middle" fill="#4a4a4a">1.5</text><text x="277.5" y="335.2" font-family="Liberation Sans" font-size="4.6" text-anchor="middle" fill="#3a3a3a">time points</text><text transform="translate(212.6,264.5) rotate(-90)" font-family="Liberation Sans" font-size="4.6" text-anchor="middle" fill="#333">auc</text><text x="277.5" y="202.7" font-family="Liberation Sans" font-weight="bold" font-size="5.5" text-anchor="middle" fill="#000">Verum_Sham</text></g>
<g><rect x="364.7" y="192.3" width="148.2" height="149.7" fill="none" stroke="#f4f4f4" stroke-width="0.7"/><line x1="383.4" y1="311.56" x2="498.4" y2="311.56" stroke="#ebebeb" stroke-width="0.6"/><line x1="383.4" y1="298.11" x2="498.4" y2="298.11" stroke="#ebebeb" stroke-width="0.6"/><line x1="383.4" y1="271.22" x2="498.4" y2="271.22" stroke="#ebebeb" stroke-width="0.6"/><line x1="383.4" y1="257.78" x2="498.4" y2="257.78" stroke="#ebebeb" stroke-width="0.6"/><line x1="383.4" y1="244.33" x2="498.4" y2="244.33" stroke="#ebebeb" stroke-width="0.6"/><line x1="383.4" y1="230.89" x2="498.4" y2="230.89" stroke="#ebebeb" stroke-width="0.6"/><line x1="383.4" y1="217.44" x2="498.4" y2="217.44" stroke="#ebebeb" stroke-width="0.6"/><line x1="440.9" y1="204" x2="440.9" y2="325" stroke="#ebebeb" stroke-width="0.6"/><line x1="469.65" y1="204" x2="469.65" y2="325" stroke="#ebebeb" stroke-width="0.6"/><line x1="412.15" y1="204" x2="412.15" y2="325" stroke="#ebebeb" stroke-width="0.6"/><line x1="383.4" y1="204" x2="498.4" y2="204" stroke="#ebebeb" stroke-width="0.6"/><line x1="498.4" y1="204" x2="498.4" y2="325" stroke="#ebebeb" stroke-width="0.6"/><polygon points="383.4,271.53 383.9,270.51 384.4,271.29 384.9,271.89 385.4,273.84 385.9,271.29 386.4,272.27 386.9,272.25 387.4,274.61 387.9,271.59 388.4,270 388.9,271.23 389.4,270.4 389.9,271.44 390.4,273.35 390.9,269.11 391.4,271.97 391.9,268.7 392.4,272.89 392.9,271.44 393.4,269 393.9,271.45 394.4,270.92 394.9,268.78 395.4,268.72 395.9,266.68 396.4,268.41 396.9,269.3 397.4,267.34 397.9,270.81 398.4,267.97 398.9,270.04 399.4,267.7 399.9,268.59 400.4,270.41 400.9,265.93 401.4,267.06 401.9,268.58 402.4,269.32 402.9,268.58 403.4,268.59 403.9,267.48 404.4,267.97 404.9,267.22 405.4,268.3 405.9,264.67 406.4,265.03 406.9,264.64 407.4,267.46 407.9,266.61 408.4,266.32 408.9,267.6 409.4,267.34 409.9,267.6 410.4,266.71 410.9,266.84 411.4,268.05 411.9,264.68 412.4,264.35 412.9,259.99 413.4,257.44 413.9,252.78 414.4,250.59 414.9,249.98 415.4,245.43 415.9,242.58 416.4,239.98 416.9,238.04 417.4,233.94 417.9,231.19 418.4,231 418.9,230.64 419.4,235.35 419.9,233.26 420.4,233.69 420.9,231.52 421.4,231.83 421.9,232.92 422.4,232.12 422.9,233.37 423.4,232.71 423.9,235.21 424.4,235.66 424.9,232.31 425.4,234.71 425.9,235.23 426.4,235.01 426.9,235.1 427.4,237.11 427.9,237.03 428.4,234.82 428.9,236.75 429.4,237.36 429.9,240.68 430.4,239.61 430.9,237.29 431.4,237.93 431.9,239.54 432.4,237.87 432.9,238.58 433.4,241.96 433.9,238.9 434.4,240.59 434.9,241.53 435.4,239.84 435.9,239.15 436.4,241.13 436.9,241.47 437.4,241.44 437.9,242.6 438.4,243.1 438.9,243.84 439.4,244.95 439.9,242.33 440.4,242.99 440.9,243.5 441.4,244.21 441.9,243.28 442.4,243.5 442.9,247.12 443.4,243.36 443.9,245.92 444.4,246.72 444.9,245.32 445.4,246.03 445.9,247.79 446.4,245.53 446.9,247.5 447.4,249.78 447.9,248.34 448.4,249.33 448.9,249.3 449.4,250.08 449.9,249.08 450.4,249.57 450.9,252.23 451.4,249.39 451.9,251.74 452.4,253.39 452.9,252.13 453.4,254.85 453.9,254.67 454.4,255.25 454.9,253.89 455.4,253.07 455.9,256.42 456.4,257.3 456.9,256.89 457.4,255.76 457.9,257.77 458.4,257.89 458.9,259.4 459.4,256.44 459.9,262.03 460.4,260.28 460.9,261.57 461.4,260.87 461.9,259.66 462.4,259.46 462.9,263.99 463.4,263.61 463.9,264.13 464.4,264.96 464.9,264.78 465.4,265.64 465.9,266.24 466.4,263.62 466.9,265.57 467.4,265.24 467.9,266.51 468.4,267.77 468.9,268.83 469.4,267.3 469.9,268.39 470.4,269.5 470.9,268.74 471.4,266.53 471.9,270.86 472.4,267.89 472.9,268.29 473.4,268.66 473.9,270.49 474.4,268.8 474.9,268.71 475.4,268.2 475.9,270.62 476.4,268.66 476.9,265.93 477.4,269.18 477.9,268.69 478.4,267.74 478.9,271.63 479.4,267.86 479.9,270.06 480.4,272.3 480.9,269.95 481.4,269.84 481.9,268.39 482.4,270.57 482.9,271.36 483.4,269.01 483.9,270.17 484.4,269.74 484.9,268.52 485.4,271.1 485.9,270.63 486.4,270.98 486.9,271.22 487.4,270.3 487.9,271.43 488.4,271.37 488.9,267.74 489.4,269.81 489.9,268.86 490.4,270.7 490.9,269.55 491.4,272.3 491.9,270.34 492.4,271.48 492.9,270.8 493.4,269.97 493.9,270.13 494.4,274.14 494.9,271.04 495.4,269.69 495.9,271.44 496.4,272.71 496.9,271.31 497.4,269.84 497.9,270.17 498.4,270.07 498.4,301.15 497.9,297.86 497.4,297.36 496.9,299.08 496.4,301.52 495.9,297.93 495.4,296.97 494.9,297.42 494.4,300.18 493.9,299.01 493.4,299.29 492.9,299.76 492.4,297.22 491.9,302.7 491.4,297.95 490.9,298.58 490.4,300.58 489.9,300.1 489.4,298.26 488.9,297.79 488.4,297.15 487.9,301.5 487.4,296.53 486.9,297.64 486.4,298.45 485.9,300.72 485.4,296.97 484.9,299.08 484.4,294.19 483.9,296.97 483.4,295.64 482.9,296.2 482.4,300.19 481.9,299.28 481.4,296.06 480.9,298.92 480.4,298.56 479.9,297.97 479.4,297.9 478.9,298.39 478.4,297.99 477.9,301.58 477.4,297.49 476.9,294.89 476.4,296.64 475.9,298.65 475.4,296.8 474.9,298.56 474.4,296.68 473.9,295.81 473.4,300.38 472.9,296.9 472.4,297.5 471.9,296.24 471.4,295.83 470.9,296.43 470.4,297.54 469.9,296.5 469.4,296.67 468.9,299.2 468.4,296.08 467.9,299.11 467.4,296.21 466.9,296.47 466.4,297.7 465.9,299.94 465.4,294.9 464.9,293.85 464.4,293.51 463.9,298.94 463.4,295.31 462.9,296.43 462.4,294.58 461.9,299.87 461.4,296.25 460.9,291.48 460.4,290.7 459.9,296.01 459.4,290.32 458.9,296.96 458.4,288.61 457.9,289.71 457.4,290 456.9,294.31 456.4,289.16 455.9,289.21 455.4,296.94 454.9,287 454.4,287.81 453.9,289.66 453.4,288.34 452.9,284.7 452.4,289.04 451.9,285.72 451.4,286.33 450.9,288.85 450.4,283.62 449.9,281.81 449.4,281.04 448.9,279.94 448.4,279.69 447.9,277.27 447.4,276.96 446.9,276.39 446.4,277.29 445.9,277.82 445.4,276.63 444.9,275.41 444.4,277.44 443.9,276.83 443.4,277.36 442.9,278.72 442.4,275.16 441.9,277.59 441.4,277.92 440.9,281.5 440.4,278.66 439.9,284.89 439.4,282.05 438.9,276.15 438.4,275.73 437.9,276.18 437.4,273.1 436.9,271.76 436.4,272.81 435.9,271.04 435.4,269.01 434.9,272.06 434.4,269.03 433.9,265.41 433.4,265.61 432.9,264.67 432.4,266.29 431.9,263.54 431.4,263.08 430.9,263.25 430.4,269.05 429.9,261.69 429.4,261.22 428.9,260.76 428.4,260.29 427.9,260.59 427.4,259.45 426.9,258.9 426.4,258.44 425.9,257.97 425.4,257.51 424.9,257.04 424.4,256.58 423.9,256.12 423.4,255.65 422.9,255.19 422.4,256.47 421.9,256 421.4,254.28 420.9,257.34 420.4,254.08 419.9,255.29 419.4,253.94 418.9,258.05 418.4,258.06 417.9,259.31 417.4,272.39 416.9,280.59 416.4,280.79 415.9,283.43 415.4,285.89 414.9,285.58 414.4,286.81 413.9,287.21 413.4,287.51 412.9,288.91 412.4,294.18 411.9,293.51 411.4,290.53 410.9,292.89 410.4,291.73 409.9,296.9 409.4,294.39 408.9,296.4 408.4,293.97 407.9,295.89 407.4,296.8 406.9,291.86 406.4,291.27 405.9,300.25 405.4,292.3 404.9,295.08 404.4,296.45 403.9,303.63 403.4,293.32 402.9,293.38 402.4,293.13 401.9,295.98 401.4,298.03 400.9,296.21 400.4,300.11 399.9,294.39 399.4,298.05 398.9,296.7 398.4,298.18 397.9,297.78 397.4,295.34 396.9,298.96 396.4,299.19 395.9,295.77 395.4,296.1 394.9,294.8 394.4,297.19 393.9,296.2 393.4,304.46 392.9,295.36 392.4,298.85 391.9,299.31 391.4,298.18 390.9,296.62 390.4,297.39 389.9,299.68 389.4,297.84 388.9,300.37 388.4,297.78 387.9,303.75 387.4,301.22 386.9,299.25 386.4,303.48 385.9,300.54 385.4,299.15 384.9,298.37 384.4,303.67 383.9,297.88 383.4,299.36" fill="#f3f3f3" fill-opacity="1"/><polygon points="383.4,269.43 383.9,272.11 384.4,270.38 384.9,270.99 385.4,272.54 385.9,266.25 386.4,271.32 386.9,267.7 387.4,270.85 387.9,268.8 388.4,268.57 388.9,266.22 389.4,270.67 389.9,271.18 390.4,269.47 390.9,270.54 391.4,273.01 391.9,268.54 392.4,270.7 392.9,271.16 393.4,271.38 393.9,268.85 394.4,273.74 394.9,269.74 395.4,271.81 395.9,269.27 396.4,272.54 396.9,265.7 397.4,271.55 397.9,271.16 398.4,272.5 398.9,268.53 399.4,270.44 399.9,273.45 400.4,270.13 400.9,270.27 401.4,272.42 401.9,268.9 402.4,270.36 402.9,269.31 403.4,268.01 403.9,270.45 404.4,267.23 404.9,270.35 405.4,271.74 405.9,269.35 406.4,266.64 406.9,267.15 407.4,268.92 407.9,263.48 408.4,262 408.9,266.25 409.4,261.14 409.9,263.47 410.4,262.08 410.9,258.78 411.4,260 411.9,265.87 412.4,259.96 412.9,262.47 413.4,258.64 413.9,258 414.4,256.58 414.9,253.41 415.4,254.35 415.9,253.67 416.4,248.13 416.9,235.52 417.4,224.62 417.9,219.21 418.4,223.73 418.9,221.37 419.4,221.56 419.9,222.43 420.4,220.14 420.9,222.44 421.4,223.89 421.9,220.15 422.4,218.71 422.9,221.91 423.4,220.93 423.9,222.55 424.4,225.06 424.9,223 425.4,224.11 425.9,226.19 426.4,222.9 426.9,225.27 427.4,223.99 427.9,225.48 428.4,227.97 428.9,228.27 429.4,227.16 429.9,228.03 430.4,229.86 430.9,228.57 431.4,231.97 431.9,230.4 432.4,230.9 432.9,237.75 433.4,236.54 433.9,234.26 434.4,234.95 434.9,234.08 435.4,236.7 435.9,238.51 436.4,237.33 436.9,239.81 437.4,236.24 437.9,234.91 438.4,236.47 438.9,239.48 439.4,233.37 439.9,240.15 440.4,240.1 440.9,236.63 441.4,237.25 441.9,239.56 442.4,240.24 442.9,238.21 443.4,239.04 443.9,238.82 444.4,240.89 444.9,242.17 445.4,237.77 445.9,239.25 446.4,242.64 446.9,239.47 447.4,244.37 447.9,246.48 448.4,239.82 448.9,242.68 449.4,246.34 449.9,246.71 450.4,248.02 450.9,248.77 451.4,250.86 451.9,249.01 452.4,246.29 452.9,247.52 453.4,249.66 453.9,252.08 454.4,250.26 454.9,251.15 455.4,248.94 455.9,247.71 456.4,251.8 456.9,253.85 457.4,249.46 457.9,255.75 458.4,257.08 458.9,252.27 459.4,255.69 459.9,253.44 460.4,258.58 460.9,255.74 461.4,258.43 461.9,257.14 462.4,254.03 462.9,255.78 463.4,255.47 463.9,255.42 464.4,257.71 464.9,260.43 465.4,261.18 465.9,258.1 466.4,263.25 466.9,257.63 467.4,257.76 467.9,258.55 468.4,259.94 468.9,256.94 469.4,263.41 469.9,261.32 470.4,262.28 470.9,265.45 471.4,266 471.9,265.75 472.4,267.43 472.9,267.69 473.4,270.14 473.9,265.57 474.4,264.88 474.9,266.64 475.4,267.27 475.9,265.44 476.4,268.36 476.9,265.32 477.4,269.04 477.9,270.04 478.4,268.63 478.9,273.37 479.4,269.45 479.9,267.22 480.4,266.1 480.9,270.17 481.4,270.9 481.9,266.07 482.4,267.54 482.9,265.38 483.4,266.99 483.9,267.69 484.4,268.88 484.9,271.59 485.4,271.96 485.9,270.8 486.4,269.92 486.9,271.54 487.4,273.57 487.9,266.59 488.4,273.75 488.9,270.46 489.4,272.96 489.9,271.08 490.4,266.01 490.9,268.89 491.4,271.7 491.9,267.69 492.4,272.02 492.9,267.5 493.4,270.44 493.9,271.71 494.4,270.76 494.9,272.93 495.4,273.71 495.9,271.87 496.4,272 496.9,271.57 497.4,270.48 497.9,270.64 498.4,270.78 498.4,294.26 497.9,295.79 497.4,296.47 496.9,291.86 496.4,294.81 495.9,297.55 495.4,295.27 494.9,297.82 494.4,296.98 493.9,295.53 493.4,294.87 492.9,296.15 492.4,291.31 491.9,295.91 491.4,294.11 490.9,292.65 490.4,292.04 489.9,291.13 489.4,295.46 488.9,296.47 488.4,294.69 487.9,294.89 487.4,294.26 486.9,294.39 486.4,293.59 485.9,297.94 485.4,291.23 484.9,294.08 484.4,293.46 483.9,294.41 483.4,294.71 482.9,295.68 482.4,295.89 481.9,291.86 481.4,293.52 480.9,291.19 480.4,293.02 479.9,292.48 479.4,290.49 478.9,289.41 478.4,293.59 477.9,293.61 477.4,291.76 476.9,289.58 476.4,286.69 475.9,287.4 475.4,288.31 474.9,289.47 474.4,291.17 473.9,287.69 473.4,286.81 472.9,286.17 472.4,284.12 471.9,287.81 471.4,285.8 470.9,283.92 470.4,281.9 469.9,279.34 469.4,284.76 468.9,283.24 468.4,285.07 467.9,280.08 467.4,279.8 466.9,279.98 466.4,283.18 465.9,283.38 465.4,278.72 464.9,282.56 464.4,281.01 463.9,276.13 463.4,279.04 462.9,274.08 462.4,275.99 461.9,277.26 461.4,273.99 460.9,273.24 460.4,272.66 459.9,271.91 459.4,278.57 458.9,273.36 458.4,275.32 457.9,274.48 457.4,275.97 456.9,274.25 456.4,272.04 455.9,273.1 455.4,274.42 454.9,271.34 454.4,270.18 453.9,270.99 453.4,269.23 452.9,269.76 452.4,270.6 451.9,268.77 451.4,267.6 450.9,265.55 450.4,271.64 449.9,266.79 449.4,270.25 448.9,270.04 448.4,266.6 447.9,268.36 447.4,267.1 446.9,264.89 446.4,266.37 445.9,266.67 445.4,262.95 444.9,266.15 444.4,264.79 443.9,262.15 443.4,265.39 442.9,263.82 442.4,267.24 441.9,262.88 441.4,262.56 440.9,262.01 440.4,261.52 439.9,258.34 439.4,257.6 438.9,263.04 438.4,261.71 437.9,261.1 437.4,253.95 436.9,255.48 436.4,257.4 435.9,254.75 435.4,257.93 434.9,252.22 434.4,253.86 433.9,255.16 433.4,253.62 432.9,254.61 432.4,253.2 431.9,252.33 431.4,251.51 430.9,253.57 430.4,252.15 429.9,250.16 429.4,249.09 428.9,249.58 428.4,251.09 427.9,249.85 427.4,249.51 426.9,249.09 426.4,247.21 425.9,250.45 425.4,246.33 424.9,246.46 424.4,247.36 423.9,247.52 423.4,248.28 422.9,243.11 422.4,244.94 421.9,247.28 421.4,243.85 420.9,245.7 420.4,244.92 419.9,246.87 419.4,246.9 418.9,246.64 418.4,250.28 417.9,249.63 417.4,255.48 416.9,264.89 416.4,273.31 415.9,279.3 415.4,276.98 414.9,281.41 414.4,279.39 413.9,280.93 413.4,279.85 412.9,285.03 412.4,282.36 411.9,287.36 411.4,284.89 410.9,286.35 410.4,288.94 409.9,289.81 409.4,285.6 408.9,285.15 408.4,288.43 407.9,286.86 407.4,288.84 406.9,291.12 406.4,291.45 405.9,292.03 405.4,289.8 404.9,291.97 404.4,290.57 403.9,293.84 403.4,290.97 402.9,289.58 402.4,289.27 401.9,289.67 401.4,290.47 400.9,290.5 400.4,295.73 399.9,289.47 399.4,289.32 398.9,290.9 398.4,292.23 397.9,289.51 397.4,289.5 396.9,289.98 396.4,290.31 395.9,294.11 395.4,293.83 394.9,290.44 394.4,291.67 393.9,292.15 393.4,292.9 392.9,290.2 392.4,292.64 391.9,293.06 391.4,291.7 390.9,293.87 390.4,292.14 389.9,292.79 389.4,293.52 388.9,292.72 388.4,292.71 387.9,289.93 387.4,292.16 386.9,293.32 386.4,292.47 385.9,293.73 385.4,292.07 384.9,293.48 384.4,291.35 383.9,293.69 383.4,292.87" fill="#d9e6f1" fill-opacity="1"/><line x1="383.4" y1="284.67" x2="498.4" y2="284.67" stroke="#bdbdbd" stroke-width="0.55" stroke-dasharray="2.6,0.9"/><line x1="412.15" y1="298.11" x2="412.15" y2="217.44" stroke="#adadad" stroke-width="0.6" stroke-dasharray="3.5,0.7"/><path d="M383.4,284.15 L383.9,284.09 L384.4,282.44 L384.9,282.86 L385.4,281.97 L385.9,283.62 L386.4,283.51 L386.9,283.74 L387.4,284.47 L387.9,284.43 L388.4,283.64 L388.9,283.02 L389.4,283.86 L389.9,281.13 L390.4,282.72 L390.9,282.18 L391.4,282.73 L391.9,282.87 L392.4,284.61 L392.9,282.14 L393.4,284.25 L393.9,281.71 L394.4,282.79 L394.9,283.11 L395.4,281.46 L395.9,282.5 L396.4,280.34 L396.9,282.91 L397.4,280.7 L397.9,282.9 L398.4,279.29 L398.9,280.94 L399.4,280.68 L399.9,279.31 L400.4,283 L400.9,279.53 L401.4,278.73 L401.9,278.6 L402.4,277.4 L402.9,276.98 L403.4,278.04 L403.9,277.73 L404.4,276.56 L404.9,276.41 L405.4,275.1 L405.9,276.46 L406.4,275.06 L406.9,274.96 L407.4,273.99 L407.9,275.38 L408.4,274.57 L408.9,272.14 L409.4,273.77 L409.9,274.47 L410.4,272.52 L410.9,269.68 L411.4,271.31 L411.9,270.05 L412.4,268.82 L412.9,270.85 L413.4,266.17 L413.9,267.47 L414.4,267.51 L414.9,264.45 L415.4,266.94 L415.9,265.82 L416.4,264.75 L416.9,265.46 L417.4,245.91 L417.9,238.49 L418.4,236.29 L418.9,238.72 L419.4,238.46 L419.9,240.2 L420.4,239.11 L420.9,239.32 L421.4,233.13 L421.9,234.22 L422.4,233.9 L422.9,235.97 L423.4,236.58 L423.9,235.96 L424.4,238.53 L424.9,235.2 L425.4,235.97 L425.9,238.31 L426.4,239.71 L426.9,237.4 L427.4,239.61 L427.9,238.87 L428.4,240.49 L428.9,236.65 L429.4,240.32 L429.9,238.96 L430.4,244.2 L430.9,241.84 L431.4,243.12 L431.9,247.57 L432.4,245.85 L432.9,247.94 L433.4,248.56 L433.9,250.23 L434.4,249.22 L434.9,249.77 L435.4,251.04 L435.9,252.13 L436.4,254.96 L436.9,254.91 L437.4,252.88 L437.9,255.62 L438.4,255.32 L438.9,255.5 L439.4,253.86 L439.9,253.44 L440.4,253.34 L440.9,253.1 L441.4,252.35 L441.9,253.48 L442.4,251.82 L442.9,254.05 L443.4,252.89 L443.9,251.82 L444.4,252.33 L444.9,251.17 L445.4,251.62 L445.9,254 L446.4,254.63 L446.9,254.61 L447.4,255.14 L447.9,253.59 L448.4,252.86 L448.9,251.88 L449.4,252.05 L449.9,255.43 L450.4,258.53 L450.9,259.19 L451.4,259.77 L451.9,259.09 L452.4,260.33 L452.9,259.33 L453.4,264.18 L453.9,263.97 L454.4,266.6 L454.9,267.29 L455.4,267.15 L455.9,265.57 L456.4,268.41 L456.9,267.87 L457.4,268.06 L457.9,268.89 L458.4,266.61 L458.9,270.35 L459.4,269.91 L459.9,269.94 L460.4,270.03 L460.9,268.93 L461.4,270.82 L461.9,272.57 L462.4,271.7 L462.9,272.14 L463.4,271.09 L463.9,271.61 L464.4,270.14 L464.9,271.74 L465.4,274.03 L465.9,273.25 L466.4,272.25 L466.9,274.13 L467.4,275.01 L467.9,275.07 L468.4,275.6 L468.9,276.5 L469.4,274.44 L469.9,275.9 L470.4,278.22 L470.9,273.78 L471.4,277.09 L471.9,276.36 L472.4,276.68 L472.9,276.15 L473.4,279.93 L473.9,277.99 L474.4,277.61 L474.9,276.95 L475.4,280.2 L475.9,279.84 L476.4,277.41 L476.9,277.5 L477.4,279.8 L477.9,279.26 L478.4,277.67 L478.9,279.11 L479.4,278.82 L479.9,277.38 L480.4,278.41 L480.9,281.02 L481.4,278.88 L481.9,280.26 L482.4,279.52 L482.9,277.43 L483.4,277.69 L483.9,276.69 L484.4,276.34 L484.9,277.56 L485.4,277.97 L485.9,279.67 L486.4,278.68 L486.9,278.67 L487.4,278.37 L487.9,278.38 L488.4,280.2 L488.9,280.37 L489.4,281.78 L489.9,277.42 L490.4,279.31 L490.9,277.87 L491.4,280.01 L491.9,279.79 L492.4,280.2 L492.9,280.31 L493.4,279.05 L493.9,278.6 L494.4,280.9 L494.9,281.09 L495.4,281.52 L495.9,281.04 L496.4,280.95 L496.9,279.04 L497.4,281.04 L497.9,282 L498.4,280.04" fill="none" stroke="#9cc0de" stroke-width="0.5"/><path d="M394.9,283.11 L395.4,281.46 L395.9,282.5 L396.4,280.34 L396.9,282.91 L397.4,280.7 L397.9,282.9 L398.4,279.29 L398.9,280.94 L399.4,280.68 L399.9,279.31 L400.4,283 L400.9,279.53 L401.4,278.73 L401.9,278.6 L402.4,277.4 L402.9,276.98 L403.4,278.04 L403.9,277.73 L404.4,276.56 L404.9,276.41 L405.4,275.1 L405.9,276.46 L406.4,275.06 L406.9,274.96 L407.4,273.99 L407.9,275.38 L408.4,274.57 L408.9,272.14 L409.4,273.77 L409.9,274.47 L410.4,272.52 L410.9,269.68 L411.4,271.31 L411.9,270.05 L412.4,268.82 L412.9,270.85 L413.4,266.17 L413.9,267.47 L414.4,267.51 L414.9,264.45 L415.4,266.94 L415.9,265.82 L416.4,264.75 L416.9,265.46 L417.4,245.91 L417.9,238.49 L418.4,236.29 L418.9,238.72 L419.4,238.46 L419.9,240.2 L420.4,239.11 L420.9,239.32 L421.4,233.13 L421.9,234.22 L422.4,233.9 L422.9,235.97 L423.4,236.58 L423.9,235.96 L424.4,238.53 L424.9,235.2 L425.4,235.97 L425.9,238.31 L426.4,239.71 L426.9,237.4 L427.4,239.61 L427.9,238.87 L428.4,240.49 L428.9,236.65 L429.4,240.32 L429.9,238.96 L430.4,244.2 L430.9,241.84 L431.4,243.12 L431.9,247.57 L432.4,245.85 L432.9,247.94 L433.4,248.56 L433.9,250.23 L434.4,249.22 L434.9,249.77 L435.4,251.04 L435.9,252.13 L436.4,254.96 L436.9,254.91 L437.4,252.88 L437.9,255.62 L438.4,255.32 L438.9,255.5 L439.4,253.86 L439.9,253.44 L440.4,253.34 L440.9,253.1 L441.4,252.35 L441.9,253.48 L442.4,251.82 L442.9,254.05 L443.4,252.89 L443.9,251.82 L444.4,252.33 L444.9,251.17 L445.4,251.62 L445.9,254 L446.4,254.63 L446.9,254.61 L447.4,255.14 L447.9,253.59 L448.4,252.86 L448.9,251.88 L449.4,252.05 L449.9,255.43 L450.4,258.53 L450.9,259.19 L451.4,259.77 L451.9,259.09 L452.4,260.33 L452.9,259.33 L453.4,264.18 L453.9,263.97 L454.4,266.6 L454.9,267.29 L455.4,267.15 L455.9,265.57 L456.4,268.41 L456.9,267.87 L457.4,268.06 L457.9,268.89 L458.4,266.61 L458.9,270.35 L459.4,269.91 L459.9,269.94 L460.4,270.03 L460.9,268.93 L461.4,270.82 L461.9,272.57 L462.4,271.7 L462.9,272.14 L463.4,271.09 L463.9,271.61 L464.4,270.14 L464.9,271.74 L465.4,274.03 L465.9,273.25 L466.4,272.25 L466.9,274.13 L467.4,275.01 L467.9,275.07 L468.4,275.6 L468.9,276.5 L469.4,274.44 L469.9,275.9 L470.4,278.22 L470.9,273.78 L471.4,277.09 L471.9,276.36 L472.4,276.68 L472.9,276.15 L473.4,279.93 L473.9,277.99 L474.4,277.61 L474.9,276.95 L475.4,280.2 L475.9,279.84 L476.4,277.41 L476.9,277.5 L477.4,279.8 L477.9,279.26 L478.4,277.67 L478.9,279.11 L479.4,278.82 L479.9,277.38 L480.4,278.41 L480.9,281.02 L481.4,278.88 L481.9,280.26 L482.4,279.52 L482.9,277.43 L483.4,277.69 L483.9,276.69 L484.4,276.34 L484.9,277.56 L485.4,277.97 L485.9,279.67 L486.4,278.68 L486.9,278.67 L487.4,278.37 L487.9,278.38 L488.4,280.2 L488.9,280.37 L489.4,281.78 L489.9,277.42 L490.4,279.31 L490.9,277.87 L491.4,280.01 L491.9,279.79 L492.4,280.2 L492.9,280.31 L493.4,279.05 L493.9,278.6 L494.4,280.9 L494.9,281.09 L495.4,281.52 L495.9,281.04 L496.4,280.95 L496.9,279.04 L497.4,281.04 L497.9,282 L498.4,280.04" fill="none" stroke="#74acdb" stroke-width="1.3" stroke-linejoin="round" style="mix-blend-mode:multiply"/><path d="M396.9,282.66 L397.4,280.62 L397.9,282.89 L398.4,279.95 L398.9,281.87 L399.4,280.92 L399.9,278.95 L400.4,282.13 L400.9,280.83 L401.4,278.88 L401.9,279.61 L402.4,279.05 L402.9,278.98 L403.4,277.79 L403.9,279.7 L404.4,279.33 L404.9,279.27 L405.4,278.51 L405.9,279.44 L406.4,277.6 L406.9,276.37 L407.4,276.83 L407.9,278.07 L408.4,278.2 L408.9,276.57 L409.4,277.81 L409.9,279.21 L410.4,277.34 L410.9,276.22 L411.4,275.8 L411.9,275.64 L412.4,273.08 L412.9,274.98 L413.4,270.8 L413.9,273.33 L414.4,271.98 L414.9,269.05 L415.4,271.06 L415.9,269.33 L416.4,267.19 L416.9,265.67 L417.4,256.34 L417.9,244.14 L418.4,243.79 L418.9,242.67 L419.4,239.78 L419.9,237.93 L420.4,237.59 L420.9,240.51 L421.4,238.03 L421.9,239.08 L422.4,239.3 L422.9,239.99 L423.4,241.08 L423.9,239.37 L424.4,240.52 L424.9,239.2 L425.4,239.36 L425.9,240.71 L426.4,241.33 L426.9,240.29 L427.4,242.33 L427.9,244.14 L428.4,242.57 L428.9,241.5 L429.4,245.13 L429.9,244.64 L430.4,247.9 L430.9,246.87 L431.4,245.97 L431.9,249.17 L432.4,249.96 L432.9,249.89 L433.4,251.76 L433.9,251.63 L434.4,253.68 L434.9,254.21 L435.4,254.84 L435.9,254.96 L436.4,256.33 L436.9,256.64 L437.4,255.8 L437.9,259.83 L438.4,260.76 L438.9,262.47 L439.4,263.38 L439.9,263.64 L440.4,264.99 L440.9,264.13 L441.4,263.4 L441.9,263.4 L442.4,261.27 L442.9,262.79 L443.4,260.92 L443.9,259.92 L444.4,260.96 L444.9,258.64 L445.4,260.52 L445.9,261.85 L446.4,261.93 L446.9,262.34 L447.4,262.36 L447.9,261.63 L448.4,263.65 L448.9,263.21 L449.4,264.19 L449.9,266.9 L450.4,270.06 L450.9,272.77 L451.4,271.98 L451.9,270.91 L452.4,271.76 L452.9,270.35 L453.4,273.09 L453.9,272.32 L454.4,273.71 L454.9,273.19 L455.4,273.26 L455.9,273.11 L456.4,274.28 L456.9,276.32 L457.4,274.36 L457.9,274.65 L458.4,273.93 L458.9,278.41 L459.4,275.69 L459.9,277.51 L460.4,276.82 L460.9,277.62 L461.4,279.1 L461.9,280.34 L462.4,278.37 L462.9,279.33 L463.4,279.37 L463.9,278.91 L464.4,277.17 L464.9,278.61 L465.4,281 L465.9,280.31 L466.4,278.66 L466.9,280.5 L467.4,281.38 L467.9,281.52 L468.4,282.17" fill="none" stroke="#8e8e8e" stroke-width="1.1" stroke-linejoin="round" style="mix-blend-mode:multiply"/><path d="M383.4,204 V325 H498.4" fill="none" stroke="#c2c2c2" stroke-width="0.8"/><text x="382" y="326.3" font-family="Liberation Sans" font-size="3.8" text-anchor="end" fill="#4a4a4a">0.2</text><text x="382" y="312.86" font-family="Liberation Sans" font-size="3.8" text-anchor="end" fill="#4a4a4a">0.3</text><text x="382" y="299.41" font-family="Liberation Sans" font-size="3.8" text-anchor="end" fill="#4a4a4a">0.4</text><text x="382" y="285.97" font-family="Liberation Sans" font-size="3.8" text-anchor="end" fill="#4a4a4a">0.5</text><text x="382" y="272.52" font-family="Liberation Sans" font-size="3.8" text-anchor="end" fill="#4a4a4a">0.6</text><text x="382" y="259.08" font-family="Liberation Sans" font-size="3.8" text-anchor="end" fill="#4a4a4a">0.7</text><text x="382" y="245.63" font-family="Liberation Sans" font-size="3.8" text-anchor="end" fill="#4a4a4a">0.8</text><text x="382" y="232.19" font-family="Liberation Sans" font-size="3.8" text-anchor="end" fill="#4a4a4a">0.9</text><text x="382" y="218.74" font-family="Liberation Sans" font-size="3.8" text-anchor="end" fill="#4a4a4a">1</text><text x="382" y="205.3" font-family="Liberation Sans" font-size="3.8" text-anchor="end" fill="#4a4a4a">1.1</text><text x="383.4" y="329.6" font-family="Liberation Sans" font-size="3.8" text-anchor="middle" fill="#4a4a4a">-0.5</text><text x="412.15" y="329.6" font-family="Liberation Sans" font-size="3.8" text-anchor="middle" fill="#4a4a4a">0</text><text x="440.9" y="329.6" font-family="Liberation Sans" font-size="3.8" text-anchor="middle" fill="#4a4a4a">0.5</text><text x="469.65" y="329.6" font-family="Liberation Sans" font-size="3.8" text-anchor="middle" fill="#4a4a4a">1</text><text x="498.4" y="329.6" font-family="Liberation Sans" font-size="3.8" text-anchor="middle" fill="#4a4a4a">1.5</text><text x="440.9" y="335.2" font-family="Liberation Sans" font-size="4.6" text-anchor="middle" fill="#3a3a3a">time points</text><text transform="translate(376,264.5) rotate(-90)" font-family="Liberation Sans" font-size="4.6" text-anchor="middle" fill="#333">auc</text><text x="440.9" y="202.7" font-family="Liberation Sans" font-weight="bold" font-size="5.5" text-anchor="middle" fill="#000">Verum_Sham</text></g>
<g><rect x="528.3" y="192.3" width="148.2" height="149.7" fill="none" stroke="#f4f4f4" stroke-width="0.7"/><line x1="547" y1="311.56" x2="662" y2="311.56" stroke="#ebebeb" stroke-width="0.6"/><line x1="547" y1="298.11" x2="662" y2="298.11" stroke="#ebebeb" stroke-width="0.6"/><line x1="547" y1="271.22" x2="662" y2="271.22" stroke="#ebebeb" stroke-width="0.6"/><line x1="547" y1="257.78" x2="662" y2="257.78" stroke="#ebebeb" stroke-width="0.6"/><line x1="547" y1="244.33" x2="662" y2="244.33" stroke="#ebebeb" stroke-width="0.6"/><line x1="547" y1="230.89" x2="662" y2="230.89" stroke="#ebebeb" stroke-width="0.6"/><line x1="547" y1="217.44" x2="662" y2="217.44" stroke="#ebebeb" stroke-width="0.6"/><line x1="604.5" y1="204" x2="604.5" y2="325" stroke="#ebebeb" stroke-width="0.6"/><line x1="633.25" y1="204" x2="633.25" y2="325" stroke="#ebebeb" stroke-width="0.6"/><line x1="575.75" y1="204" x2="575.75" y2="325" stroke="#ebebeb" stroke-width="0.6"/><line x1="547" y1="204" x2="662" y2="204" stroke="#ebebeb" stroke-width="0.6"/><line x1="662" y1="204" x2="662" y2="325" stroke="#ebebeb" stroke-width="0.6"/><polygon points="547,272.42 547.5,273.42 548,271.71 548.5,270.62 549,273.34 549.5,272.55 550,274.12 550.5,273.67 551,272.44 551.5,271.25 552,268.41 552.5,270.52 553,270.66 553.5,270.91 554,269.51 554.5,271.12 555,272.07 555.5,271.51 556,270.37 556.5,269.46 557,269.35 557.5,269.69 558,270.12 558.5,268.82 559,269.19 559.5,267.48 560,270.18 560.5,268.93 561,269.56 561.5,269.79 562,267.53 562.5,268.26 563,269.22 563.5,268.9 564,269.3 564.5,267.27 565,267.9 565.5,267.39 566,267.88 566.5,266.49 567,265.81 567.5,268.55 568,268.35 568.5,267.56 569,268.3 569.5,267.46 570,265.76 570.5,267.82 571,268.2 571.5,266.67 572,265.49 572.5,266.63 573,267.8 573.5,265.77 574,266.37 574.5,266.68 575,265.81 575.5,265.08 576,265.04 576.5,261.06 577,257.54 577.5,256.37 578,252.13 578.5,249.61 579,246.28 579.5,241.95 580,238.61 580.5,236.57 581,232.13 581.5,232.15 582,230.11 582.5,232.15 583,232.38 583.5,229.95 584,231.02 584.5,230.7 585,230.75 585.5,236.17 586,232.19 586.5,235.12 587,232.77 587.5,230.93 588,234.63 588.5,237.6 589,234.67 589.5,235.54 590,233.64 590.5,233.02 591,236.44 591.5,238.32 592,238.31 592.5,239.14 593,239.51 593.5,238.45 594,237.55 594.5,239.9 595,238.91 595.5,234.96 596,241.59 596.5,238.59 597,239.48 597.5,240.31 598,239.51 598.5,241.09 599,242.14 599.5,240.8 600,241.53 600.5,240.91 601,243.42 601.5,243.76 602,240.25 602.5,242.82 603,242.21 603.5,244.1 604,243.49 604.5,243.82 605,245.3 605.5,243.54 606,242.96 606.5,244.48 607,243.73 607.5,244.46 608,245.94 608.5,245.85 609,247.74 609.5,246.28 610,246.79 610.5,245.4 611,249.2 611.5,249.85 612,247.83 612.5,251.53 613,249.42 613.5,248.93 614,252.58 614.5,250.32 615,251.13 615.5,250.37 616,253.58 616.5,253.62 617,254.38 617.5,255.04 618,253.07 618.5,253.62 619,252.7 619.5,253.86 620,257.91 620.5,256.51 621,256.18 621.5,255.85 622,258.4 622.5,260.61 623,259.72 623.5,260.69 624,259.63 624.5,259.04 625,259.06 625.5,261.03 626,261.29 626.5,261.47 627,263.14 627.5,262.14 628,261.02 628.5,265.37 629,262.86 629.5,263.74 630,263.99 630.5,264.24 631,261.53 631.5,266.95 632,267.05 632.5,269.34 633,268.25 633.5,267.35 634,269.22 634.5,269.73 635,269.6 635.5,270.72 636,265.39 636.5,268.21 637,270.4 637.5,269 638,268.38 638.5,269.32 639,269.48 639.5,268.54 640,270.44 640.5,269.06 641,270.38 641.5,270.67 642,268.66 642.5,270.6 643,270.14 643.5,269.41 644,268.06 644.5,269.88 645,268.71 645.5,271.58 646,271.1 646.5,267.47 647,269.59 647.5,270.25 648,271.36 648.5,270.47 649,269.54 649.5,270.28 650,269.44 650.5,270.47 651,271.3 651.5,266.66 652,270.45 652.5,270.36 653,269.82 653.5,270.45 654,267.17 654.5,270 655,269.32 655.5,270.22 656,268.39 656.5,268.45 657,270.63 657.5,272.32 658,270.05 658.5,273.45 659,270.74 659.5,269.48 660,270.71 660.5,272.21 661,268.14 661.5,270.05 662,272.44 662,296.59 661.5,300.18 661,301.14 660.5,297.71 660,298.58 659.5,301.01 659,297.77 658.5,298.36 658,299.48 657.5,295.9 657,299.51 656.5,305.03 656,296.44 655.5,298.61 655,301.22 654.5,302.1 654,298.4 653.5,295.22 653,297.32 652.5,297.55 652,298.58 651.5,297.26 651,297.26 650.5,305.09 650,300.28 649.5,298.14 649,299.09 648.5,298.18 648,299.32 647.5,295.44 647,300.12 646.5,299.81 646,298.76 645.5,296.89 645,301.14 644.5,300.65 644,300.37 643.5,296.27 643,298.53 642.5,294.55 642,295.73 641.5,299.56 641,296.2 640.5,299.74 640,303.17 639.5,295.93 639,295.3 638.5,299.41 638,297.75 637.5,294.31 637,297.97 636.5,296.47 636,297.01 635.5,295.05 635,295.86 634.5,295.5 634,296.47 633.5,300.04 633,300.25 632.5,296.09 632,300.29 631.5,294.72 631,299.79 630.5,295.67 630,294.12 629.5,297.69 629,294.55 628.5,295.35 628,295.79 627.5,294.39 627,295.62 626.5,296.05 626,291.6 625.5,294.7 625,295.4 624.5,294.43 624,291.62 623.5,295.4 623,292.87 622.5,291.81 622,289.64 621.5,294.76 621,291.3 620.5,291.5 620,289.24 619.5,293.81 619,287.97 618.5,288.03 618,288.43 617.5,289.65 617,289.88 616.5,288.67 616,287.14 615.5,287.71 615,282.41 614.5,282.92 614,280.97 613.5,286.69 613,279.68 612.5,282.55 612,276.88 611.5,279.04 611,277.34 610.5,277.17 610,279.28 609.5,280.49 609,282.77 608.5,278.31 608,282.17 607.5,279.22 607,281.04 606.5,281.84 606,279.19 605.5,281.27 605,280.92 604.5,279.47 604,277.56 603.5,277.26 603,275.7 602.5,275.4 602,274.3 601.5,276.95 601,270.5 600.5,273.97 600,268.58 599.5,268.88 599,266.79 598.5,266.33 598,266.02 597.5,265.4 597,267.83 596.5,265.21 596,268.33 595.5,263.54 595,264.34 594.5,263.85 594,262.15 593.5,261.9 593,261.62 592.5,264.42 592,260.29 591.5,259.83 591,259.37 590.5,260.66 590,258.44 589.5,259.51 589,257.51 588.5,259.15 588,258.11 587.5,256.86 587,256.53 586.5,257.39 586,256.46 585.5,255.99 585,254.21 584.5,256.11 584,255.28 583.5,254.01 583,255.01 582.5,253.88 582,259.6 581.5,259.33 581,267.55 580.5,277.59 580,284.58 579.5,282.62 579,282.92 578.5,283.48 578,288.36 577.5,288.51 577,291.73 576.5,287.69 576,290.26 575.5,293.22 575,287.96 574.5,291.65 574,292.08 573.5,294.55 573,296.57 572.5,291.04 572,293.49 571.5,297.1 571,295.05 570.5,296.35 570,301.09 569.5,298.37 569,296.83 568.5,296.52 568,295.96 567.5,299.55 567,297.45 566.5,300.54 566,297.06 565.5,296.47 565,299.56 564.5,298.87 564,295.58 563.5,297.94 563,299.05 562.5,297.67 562,299.38 561.5,301.84 561,302.11 560.5,298.76 560,298.44 559.5,296.55 559,296.39 558.5,300.4 558,299.7 557.5,298.51 557,298.28 556.5,295.57 556,297.46 555.5,302.1 555,302.6 554.5,298.13 554,297.99 553.5,295.73 553,301.11 552.5,296.58 552,299.58 551.5,297.71 551,301.96 550.5,299.67 550,300.14 549.5,298.26 549,302.6 548.5,299.05 548,301.34 547.5,301.19 547,301.41" fill="#f3f3f3" fill-opacity="1"/><polygon points="547,268.47 547.5,267.1 548,272.27 548.5,269.35 549,270.8 549.5,272.26 550,271.52 550.5,273.68 551,273.44 551.5,269.81 552,270.52 552.5,271.04 553,267.63 553.5,270.87 554,269 554.5,272.31 555,272.52 555.5,271.05 556,271.26 556.5,270.77 557,270.07 557.5,266.79 558,271.98 558.5,272.68 559,269.15 559.5,267.68 560,266.64 560.5,272.28 561,269.12 561.5,273.74 562,270.27 562.5,272.3 563,271.24 563.5,273.1 564,267.63 564.5,268.13 565,268.85 565.5,271.45 566,265.96 566.5,266.96 567,269.35 567.5,266.42 568,267.37 568.5,266.89 569,266.3 569.5,266.12 570,267.41 570.5,269.46 571,268.33 571.5,264.79 572,265.94 572.5,263.84 573,267.62 573.5,264.19 574,263.58 574.5,259.13 575,262.17 575.5,262.25 576,259.99 576.5,256.81 577,253.09 577.5,259.92 578,252.7 578.5,259.1 579,251.48 579.5,250.28 580,245.39 580.5,241.06 581,228.61 581.5,220.41 582,220.4 582.5,219 583,221.26 583.5,221 584,221.18 584.5,223.36 585,220.39 585.5,217.94 586,225.02 586.5,225.05 587,225.29 587.5,225.33 588,223.8 588.5,223.59 589,223.87 589.5,224.9 590,228.26 590.5,226.56 591,228.75 591.5,227.36 592,226.52 592.5,227.82 593,225.74 593.5,228.53 594,227.58 594.5,224.91 595,230.06 595.5,235.82 596,236.14 596.5,235.01 597,234.16 597.5,237.48 598,236.5 598.5,239.65 599,240.27 599.5,241.26 600,237.06 600.5,239.04 601,243.59 601.5,241 602,237.35 602.5,240.32 603,235.83 603.5,239.84 604,239.8 604.5,240.79 605,240.47 605.5,240.36 606,238.72 606.5,237.44 607,240.39 607.5,238.48 608,242.14 608.5,239.28 609,238.18 609.5,239.46 610,240.78 610.5,238.35 611,238.42 611.5,238.89 612,241.08 612.5,239.49 613,244.52 613.5,243.7 614,248.86 614.5,246.61 615,247.31 615.5,244.04 616,246.62 616.5,247.64 617,252.9 617.5,252.17 618,251.48 618.5,254.55 619,253.04 619.5,250.91 620,252.72 620.5,254.61 621,249.16 621.5,252.27 622,253.43 622.5,256.17 623,252 623.5,254.54 624,255.12 624.5,255.73 625,252.08 625.5,258.56 626,257.09 626.5,253.8 627,255.16 627.5,255.3 628,257.38 628.5,256.27 629,259.09 629.5,259.41 630,258.96 630.5,260.03 631,258.55 631.5,259.87 632,261.71 632.5,263.2 633,257.69 633.5,263.69 634,261.89 634.5,265.46 635,265.55 635.5,262.84 636,260.35 636.5,260.84 637,265.21 637.5,266.45 638,263.41 638.5,262.54 639,267.13 639.5,267.32 640,263.2 640.5,268.23 641,265.18 641.5,268.65 642,266.6 642.5,270.22 643,266.65 643.5,269.8 644,270.2 644.5,268.9 645,265.4 645.5,267.32 646,267.98 646.5,266.58 647,269.48 647.5,266.03 648,271.05 648.5,264.37 649,267.56 649.5,268.19 650,273.38 650.5,268.7 651,268.81 651.5,267.31 652,270.99 652.5,265.33 653,269.1 653.5,268.07 654,269.91 654.5,263.72 655,269.89 655.5,268.48 656,266.73 656.5,263.94 657,268.61 657.5,269.71 658,269.25 658.5,268.5 659,267.39 659.5,268.54 660,270.84 660.5,268.53 661,268.31 661.5,269.76 662,266.76 662,294.68 661.5,292.48 661,298.99 660.5,297.58 660,296.27 659.5,294.73 659,289.89 658.5,297.42 658,295.43 657.5,292.34 657,293.89 656.5,291.65 656,295.62 655.5,292.67 655,294.49 654.5,295.92 654,295.7 653.5,297.34 653,294.28 652.5,292.85 652,293.85 651.5,297.29 651,295.86 650.5,298.62 650,293.39 649.5,295.37 649,295.99 648.5,294.97 648,296.13 647.5,297.06 647,294.24 646.5,295.37 646,294.56 645.5,293.07 645,293.24 644.5,292.62 644,296.57 643.5,289.86 643,293.68 642.5,291.65 642,293.17 641.5,291.43 641,287 640.5,288.94 640,286.43 639.5,287.57 639,288.75 638.5,284.91 638,291.7 637.5,286.21 637,286.85 636.5,287.55 636,288.33 635.5,288.12 635,284.26 634.5,285.58 634,283.74 633.5,280.83 633,280.11 632.5,279.45 632,282.22 631.5,282.25 631,279.95 630.5,277.02 630,279.21 629.5,279.32 629,275.26 628.5,278.34 628,280.12 627.5,275.97 627,278.51 626.5,274.9 626,277.32 625.5,276.44 625,270.54 624.5,273.8 624,272.39 623.5,273.73 623,273.65 622.5,272.6 622,275.32 621.5,272.97 621,272.38 620.5,266.74 620,273.43 619.5,273.3 619,270.74 618.5,270.73 618,273.64 617.5,270.26 617,272.54 616.5,269.53 616,269.29 615.5,268.03 615,271.65 614.5,270.73 614,267.06 613.5,265.67 613,268.67 612.5,266.4 612,269.11 611.5,268.96 611,263.96 610.5,266.25 610,262.68 609.5,265.75 609,266.41 608.5,267.84 608,263.16 607.5,263.2 607,264.49 606.5,262.96 606,261.71 605.5,264.78 605,263.09 604.5,264.8 604,264.44 603.5,259.21 603,259.11 602.5,260.62 602,257.78 601.5,259.26 601,260.6 600.5,257.16 600,255.02 599.5,257.97 599,254.25 598.5,256.44 598,256.74 597.5,255.71 597,253.06 596.5,250.93 596,251.47 595.5,251.93 595,253.13 594.5,249.67 594,252.42 593.5,248.5 593,251.64 592.5,250.81 592,249.51 591.5,248.75 591,248.62 590.5,247.46 590,245.91 589.5,248.3 589,245.74 588.5,247.45 588,247.89 587.5,248.31 587,246.71 586.5,245.88 586,245.04 585.5,245.81 585,247.34 584.5,244.5 584,246.59 583.5,247.04 583,248.8 582.5,249.76 582,248.13 581.5,246.33 581,255.47 580.5,266.64 580,271.88 579.5,276.16 579,278.01 578.5,276.29 578,283.42 577.5,280.05 577,281.39 576.5,283.13 576,286.56 575.5,286.83 575,283.86 574.5,284.99 574,287.73 573.5,288.5 573,290.04 572.5,284.84 572,290.06 571.5,285.76 571,292.9 570.5,290.84 570,292.04 569.5,291.87 569,290.47 568.5,287.15 568,291.27 567.5,291.85 567,291.64 566.5,292.56 566,293.28 565.5,289.34 565,294.53 564.5,286.89 564,289.69 563.5,288.15 563,287.77 562.5,290.95 562,288.43 561.5,289.15 561,293.88 560.5,293.01 560,286.16 559.5,289.87 559,295.06 558.5,291.41 558,290.43 557.5,291.35 557,291.73 556.5,292.14 556,293.17 555.5,292.84 555,291.76 554.5,289.37 554,291.08 553.5,293.6 553,292.66 552.5,290.99 552,293.25 551.5,292.99 551,293.74 550.5,290.1 550,289.27 549.5,290.75 549,289.5 548.5,291.07 548,291.22 547.5,296.44 547,290.09" fill="#d9e6f1" fill-opacity="1"/><line x1="547" y1="284.67" x2="662" y2="284.67" stroke="#bdbdbd" stroke-width="0.55" stroke-dasharray="2.6,0.9"/><line x1="575.75" y1="298.11" x2="575.75" y2="217.44" stroke="#adadad" stroke-width="0.6" stroke-dasharray="3.5,0.7"/><path d="M547,283.01 L547.5,283.56 L548,284.31 L548.5,285.66 L549,285.52 L549.5,283.36 L550,284.65 L550.5,284.6 L551,283.44 L551.5,282.6 L552,284.94 L552.5,282.44 L553,285.37 L553.5,281.11 L554,281.87 L554.5,283.22 L555,280.91 L555.5,281.75 L556,281.49 L556.5,281.93 L557,280.8 L557.5,281.35 L558,283.05 L558.5,282.69 L559,281.72 L559.5,281.13 L560,283.7 L560.5,280.63 L561,283.97 L561.5,283.31 L562,282.22 L562.5,280.5 L563,278.74 L563.5,280.78 L564,280.81 L564.5,279.44 L565,280.19 L565.5,279.75 L566,280.68 L566.5,278.59 L567,278.99 L567.5,281.5 L568,278.14 L568.5,277.4 L569,278.54 L569.5,277.19 L570,279.16 L570.5,277.55 L571,276.51 L571.5,276.32 L572,275.99 L572.5,273.4 L573,275.01 L573.5,274.51 L574,272.52 L574.5,272.42 L575,270.66 L575.5,272.2 L576,272.84 L576.5,269.55 L577,267.99 L577.5,269.71 L578,268.31 L578.5,266.11 L579,265.28 L579.5,264.56 L580,264.08 L580.5,254.84 L581,244.26 L581.5,238.7 L582,237.7 L582.5,236.12 L583,239.92 L583.5,237.22 L584,241.5 L584.5,234.83 L585,235.8 L585.5,234.99 L586,235.94 L586.5,236.6 L587,233.56 L587.5,236.57 L588,239.38 L588.5,236.55 L589,236.86 L589.5,238.4 L590,238.58 L590.5,238.96 L591,237.37 L591.5,240.11 L592,240.25 L592.5,241.37 L593,241.03 L593.5,241.23 L594,244.49 L594.5,245.35 L595,245.05 L595.5,246.11 L596,242.96 L596.5,247.29 L597,247.87 L597.5,246.79 L598,248.01 L598.5,250.82 L599,250.75 L599.5,252.46 L600,253.41 L600.5,253.81 L601,255.02 L601.5,255.11 L602,256.1 L602.5,254.54 L603,251.79 L603.5,254.2 L604,251.8 L604.5,252.87 L605,253.17 L605.5,255.46 L606,251.91 L606.5,252.18 L607,254.39 L607.5,251.14 L608,252.6 L608.5,252.3 L609,253.65 L609.5,253.88 L610,254.7 L610.5,253.28 L611,254.5 L611.5,255.7 L612,254.19 L612.5,253.81 L613,255.28 L613.5,256.91 L614,255.79 L614.5,259.01 L615,256.94 L615.5,260.4 L616,260.92 L616.5,261.48 L617,261.78 L617.5,260.85 L618,266.49 L618.5,264.1 L619,265.9 L619.5,267.02 L620,265.81 L620.5,266.31 L621,265.59 L621.5,268.47 L622,267.97 L622.5,268.22 L623,267.33 L623.5,268.03 L624,267.6 L624.5,267.55 L625,267.95 L625.5,271.81 L626,267.17 L626.5,269.61 L627,268.3 L627.5,271.91 L628,269.46 L628.5,270.72 L629,269.69 L629.5,271.42 L630,270.18 L630.5,272.51 L631,272.87 L631.5,271.69 L632,272.4 L632.5,273.88 L633,273.39 L633.5,274.25 L634,276.04 L634.5,275.65 L635,275.98 L635.5,274.7 L636,275.23 L636.5,275.64 L637,278.64 L637.5,277.37 L638,279.03 L638.5,277.07 L639,278.08 L639.5,280.6 L640,279.31 L640.5,278.55 L641,282.25 L641.5,283 L642,279.47 L642.5,278.17 L643,282.25 L643.5,279.56 L644,281.74 L644.5,280.86 L645,280.91 L645.5,278.83 L646,281.45 L646.5,280.09 L647,282.74 L647.5,278.88 L648,280.68 L648.5,281.13 L649,280.5 L649.5,281.52 L650,279.21 L650.5,281.05 L651,279.74 L651.5,279.98 L652,279.8 L652.5,280.17 L653,280.12 L653.5,278.97 L654,278.97 L654.5,278.67 L655,278.45 L655.5,279.34 L656,276.84 L656.5,277.27 L657,278.26 L657.5,275.07 L658,277.37 L658.5,277.92 L659,276.23 L659.5,280.52 L660,277.85 L660.5,277.9 L661,278.37 L661.5,279.02 L662,280.41" fill="none" stroke="#9cc0de" stroke-width="0.5"/><path d="M560,283.7 L560.5,280.63 L561,283.97 L561.5,283.31 L562,282.22 L562.5,280.5 L563,278.74 L563.5,280.78 L564,280.81 L564.5,279.44 L565,280.19 L565.5,279.75 L566,280.68 L566.5,278.59 L567,278.99 L567.5,281.5 L568,278.14 L568.5,277.4 L569,278.54 L569.5,277.19 L570,279.16 L570.5,277.55 L571,276.51 L571.5,276.32 L572,275.99 L572.5,273.4 L573,275.01 L573.5,274.51 L574,272.52 L574.5,272.42 L575,270.66 L575.5,272.2 L576,272.84 L576.5,269.55 L577,267.99 L577.5,269.71 L578,268.31 L578.5,266.11 L579,265.28 L579.5,264.56 L580,264.08 L580.5,254.84 L581,244.26 L581.5,238.7 L582,237.7 L582.5,236.12 L583,239.92 L583.5,237.22 L584,241.5 L584.5,234.83 L585,235.8 L585.5,234.99 L586,235.94 L586.5,236.6 L587,233.56 L587.5,236.57 L588,239.38 L588.5,236.55 L589,236.86 L589.5,238.4 L590,238.58 L590.5,238.96 L591,237.37 L591.5,240.11 L592,240.25 L592.5,241.37 L593,241.03 L593.5,241.23 L594,244.49 L594.5,245.35 L595,245.05 L595.5,246.11 L596,242.96 L596.5,247.29 L597,247.87 L597.5,246.79 L598,248.01 L598.5,250.82 L599,250.75 L599.5,252.46 L600,253.41 L600.5,253.81 L601,255.02 L601.5,255.11 L602,256.1 L602.5,254.54 L603,251.79 L603.5,254.2 L604,251.8 L604.5,252.87 L605,253.17 L605.5,255.46 L606,251.91 L606.5,252.18 L607,254.39 L607.5,251.14 L608,252.6 L608.5,252.3 L609,253.65 L609.5,253.88 L610,254.7 L610.5,253.28 L611,254.5 L611.5,255.7 L612,254.19 L612.5,253.81 L613,255.28 L613.5,256.91 L614,255.79 L614.5,259.01 L615,256.94 L615.5,260.4 L616,260.92 L616.5,261.48 L617,261.78 L617.5,260.85 L618,266.49 L618.5,264.1 L619,265.9 L619.5,267.02 L620,265.81 L620.5,266.31 L621,265.59 L621.5,268.47 L622,267.97 L622.5,268.22 L623,267.33 L623.5,268.03 L624,267.6 L624.5,267.55 L625,267.95 L625.5,271.81 L626,267.17 L626.5,269.61 L627,268.3 L627.5,271.91 L628,269.46 L628.5,270.72 L629,269.69 L629.5,271.42 L630,270.18 L630.5,272.51 L631,272.87 L631.5,271.69 L632,272.4 L632.5,273.88 L633,273.39 L633.5,274.25 L634,276.04 L634.5,275.65 L635,275.98 L635.5,274.7 L636,275.23 L636.5,275.64 L637,278.64 L637.5,277.37 L638,279.03 L638.5,277.07 L639,278.08 L639.5,280.6 L640,279.31 L640.5,278.55 L641,282.25 L641.5,283 L642,279.47 L642.5,278.17 L643,282.25 L643.5,279.56 L644,281.74 L644.5,280.86 L645,280.91 L645.5,278.83 L646,281.45 L646.5,280.09 L647,282.74 L647.5,278.88 L648,280.68 L648.5,281.13 L649,280.5 L649.5,281.52 L650,279.21 L650.5,281.05 L651,279.74 L651.5,279.98 L652,279.8 L652.5,280.17 L653,280.12 L653.5,278.97 L654,278.97 L654.5,278.67 L655,278.45 L655.5,279.34 L656,276.84 L656.5,277.27 L657,278.26 L657.5,275.07 L658,277.37 L658.5,277.92 L659,276.23 L659.5,280.52 L660,277.85 L660.5,277.9 L661,278.37 L661.5,279.02 L662,280.41" fill="none" stroke="#74acdb" stroke-width="1.3" stroke-linejoin="round" style="mix-blend-mode:multiply"/><path d="M560.5,280.22 L561,284.64 L561.5,283.04 L562,282.33 L562.5,282.11 L563,281.21 L563.5,282.38 L564,281.95 L564.5,282.17 L565,281.93 L565.5,281.15 L566,282.05 L566.5,280.61 L567,282.38 L567.5,285.16 L568,281.49 L568.5,282.11 L569,281.76 L569.5,283.16 L570,283.31 L570.5,281.86 L571,281.29 L571.5,281.81 L572,279.51 L572.5,277.5 L573,280.1 L573.5,279.68 L574,276.88 L574.5,275.69 L575,273.53 L575.5,275.49 L576,275.47 L576.5,274.21 L577,272.72 L577.5,274.15 L578,271.06 L578.5,269.74 L579,268.18 L579.5,267.64 L580,267.6 L580.5,263.83 L581,253.86 L581.5,243.18 L582,244.75 L582.5,239.06 L583,240.48 L583.5,235.74 L584,240.97 L584.5,238.56 L585,239.69 L585.5,240.46 L586,238.95 L586.5,240.68 L587,237.56 L587.5,240.92 L588,241.58 L588.5,240.68 L589,239.61 L589.5,243.22 L590,241.79 L590.5,243.03 L591,242.26 L591.5,242.67 L592,243.04 L592.5,244.1 L593,245.01 L593.5,243.9 L594,247.28 L594.5,246.45 L595,248.04 L595.5,247.77 L596,246.82 L596.5,249.9 L597,249.7 L597.5,249.84 L598,250.61 L598.5,251.82 L599,251.97 L599.5,253.62 L600,254.87 L600.5,255.91 L601,256.84 L601.5,259.44 L602,260.43 L602.5,261.31 L603,262.24 L603.5,263.72 L604,263.26 L604.5,264.13 L605,265.09 L605.5,267.48 L606,265.1 L606.5,266.34 L607,266.84 L607.5,264.02 L608,264.29 L608.5,263.28 L609,264.87 L609.5,262.28 L610,264.55 L610.5,263.56 L611,263.35 L611.5,265.09 L612,262.19 L612.5,263.8 L613,265.95 L613.5,266.8 L614,265.16 L614.5,268.74 L615,267.6 L615.5,270.76 L616,271.03 L616.5,272.6 L617,272.66 L617.5,272.04 L618,274.92 L618.5,272.33 L619,274.07 L619.5,275.78 L620,273.79 L620.5,274.71 L621,275.67 L621.5,277.23 L622,275.74 L622.5,277.35 L623,276.82 L623.5,278.01 L624,277.29 L624.5,276.07 L625,277.64 L625.5,280.1 L626,277.31 L626.5,279.3 L627,279.32 L627.5,280.41 L628,278.34 L628.5,279.37 L629,278.85 L629.5,279.09 L630,279.63 L630.5,280.25 L631,282.22 L631.5,280.34 L632,279.95 L632.5,281.18 L633,281.44 L633.5,282.29 L634,281.63 L634.5,281.98 L635,282.01 L635.5,279.76 L636,281.29 L636.5,280.86 L637,283.16 L637.5,280.1 L638,282.41 L638.5,280.34 L639,281.26" fill="none" stroke="#8e8e8e" stroke-width="1.1" stroke-linejoin="round" style="mix-blend-mode:multiply"/><path d="M547,204 V325 H662" fill="none" stroke="#c2c2c2" stroke-width="0.8"/><text x="545.6" y="326.3" font-family="Liberation Sans" font-size="3.8" text-anchor="end" fill="#4a4a4a">0.2</text><text x="545.6" y="312.86" font-family="Liberation Sans" font-size="3.8" text-anchor="end" fill="#4a4a4a">0.3</text><text x="545.6" y="299.41" font-family="Liberation Sans" font-size="3.8" text-anchor="end" fill="#4a4a4a">0.4</text><text x="545.6" y="285.97" font-family="Liberation Sans" font-size="3.8" text-anchor="end" fill="#4a4a4a">0.5</text><text x="545.6" y="272.52" font-family="Liberation Sans" font-size="3.8" text-anchor="end" fill="#4a4a4a">0.6</text><text x="545.6" y="259.08" font-family="Liberation Sans" font-size="3.8" text-anchor="end" fill="#4a4a4a">0.7</text><text x="545.6" y="245.63" font-family="Liberation Sans" font-size="3.8" text-anchor="end" fill="#4a4a4a">0.8</text><text x="545.6" y="232.19" font-family="Liberation Sans" font-size="3.8" text-anchor="end" fill="#4a4a4a">0.9</text><text x="545.6" y="218.74" font-family="Liberation Sans" font-size="3.8" text-anchor="end" fill="#4a4a4a">1</text><text x="545.6" y="205.3" font-family="Liberation Sans" font-size="3.8" text-anchor="end" fill="#4a4a4a">1.1</text><text x="547" y="329.6" font-family="Liberation Sans" font-size="3.8" text-anchor="middle" fill="#4a4a4a">-0.5</text><text x="575.75" y="329.6" font-family="Liberation Sans" font-size="3.8" text-anchor="middle" fill="#4a4a4a">0</text><text x="604.5" y="329.6" font-family="Liberation Sans" font-size="3.8" text-anchor="middle" fill="#4a4a4a">0.5</text><text x="633.25" y="329.6" font-family="Liberation Sans" font-size="3.8" text-anchor="middle" fill="#4a4a4a">1</text><text x="662" y="329.6" font-family="Liberation Sans" font-size="3.8" text-anchor="middle" fill="#4a4a4a">1.5</text><text x="604.5" y="335.2" font-family="Liberation Sans" font-size="4.6" text-anchor="middle" fill="#3a3a3a">time points</text><text transform="translate(539.6,264.5) rotate(-90)" font-family="Liberation Sans" font-size="4.6" text-anchor="middle" fill="#333">auc</text><text x="604.5" y="202.7" font-family="Liberation Sans" font-weight="bold" font-size="5.5" text-anchor="middle" fill="#000">Verum_Sham</text></g>
<line x1="29.5" y1="27.9" x2="29.5" y2="346.1" stroke="#b8b8b8" stroke-width="1.7"/>
<line x1="193.5" y1="27.9" x2="193.5" y2="346.1" stroke="#b8b8b8" stroke-width="1.7"/>
<line x1="356.9" y1="27.9" x2="356.9" y2="346.1" stroke="#b8b8b8" stroke-width="1.7"/>
<line x1="520.4" y1="27.9" x2="520.4" y2="346.1" stroke="#b8b8b8" stroke-width="1.7"/>
<line x1="683.6" y1="27.9" x2="683.6" y2="346.1" stroke="#b8b8b8" stroke-width="1.7"/>
<line x1="28.8" y1="28.6" x2="684.3" y2="28.6" stroke="#8e8e8e" stroke-width="1.25"/>
<line x1="28.8" y1="185.4" x2="684.3" y2="185.4" stroke="#8e8e8e" stroke-width="1.25"/>
<line x1="28.8" y1="345.4" x2="684.3" y2="345.4" stroke="#8e8e8e" stroke-width="1.25"/>
</svg>
</body></html>
